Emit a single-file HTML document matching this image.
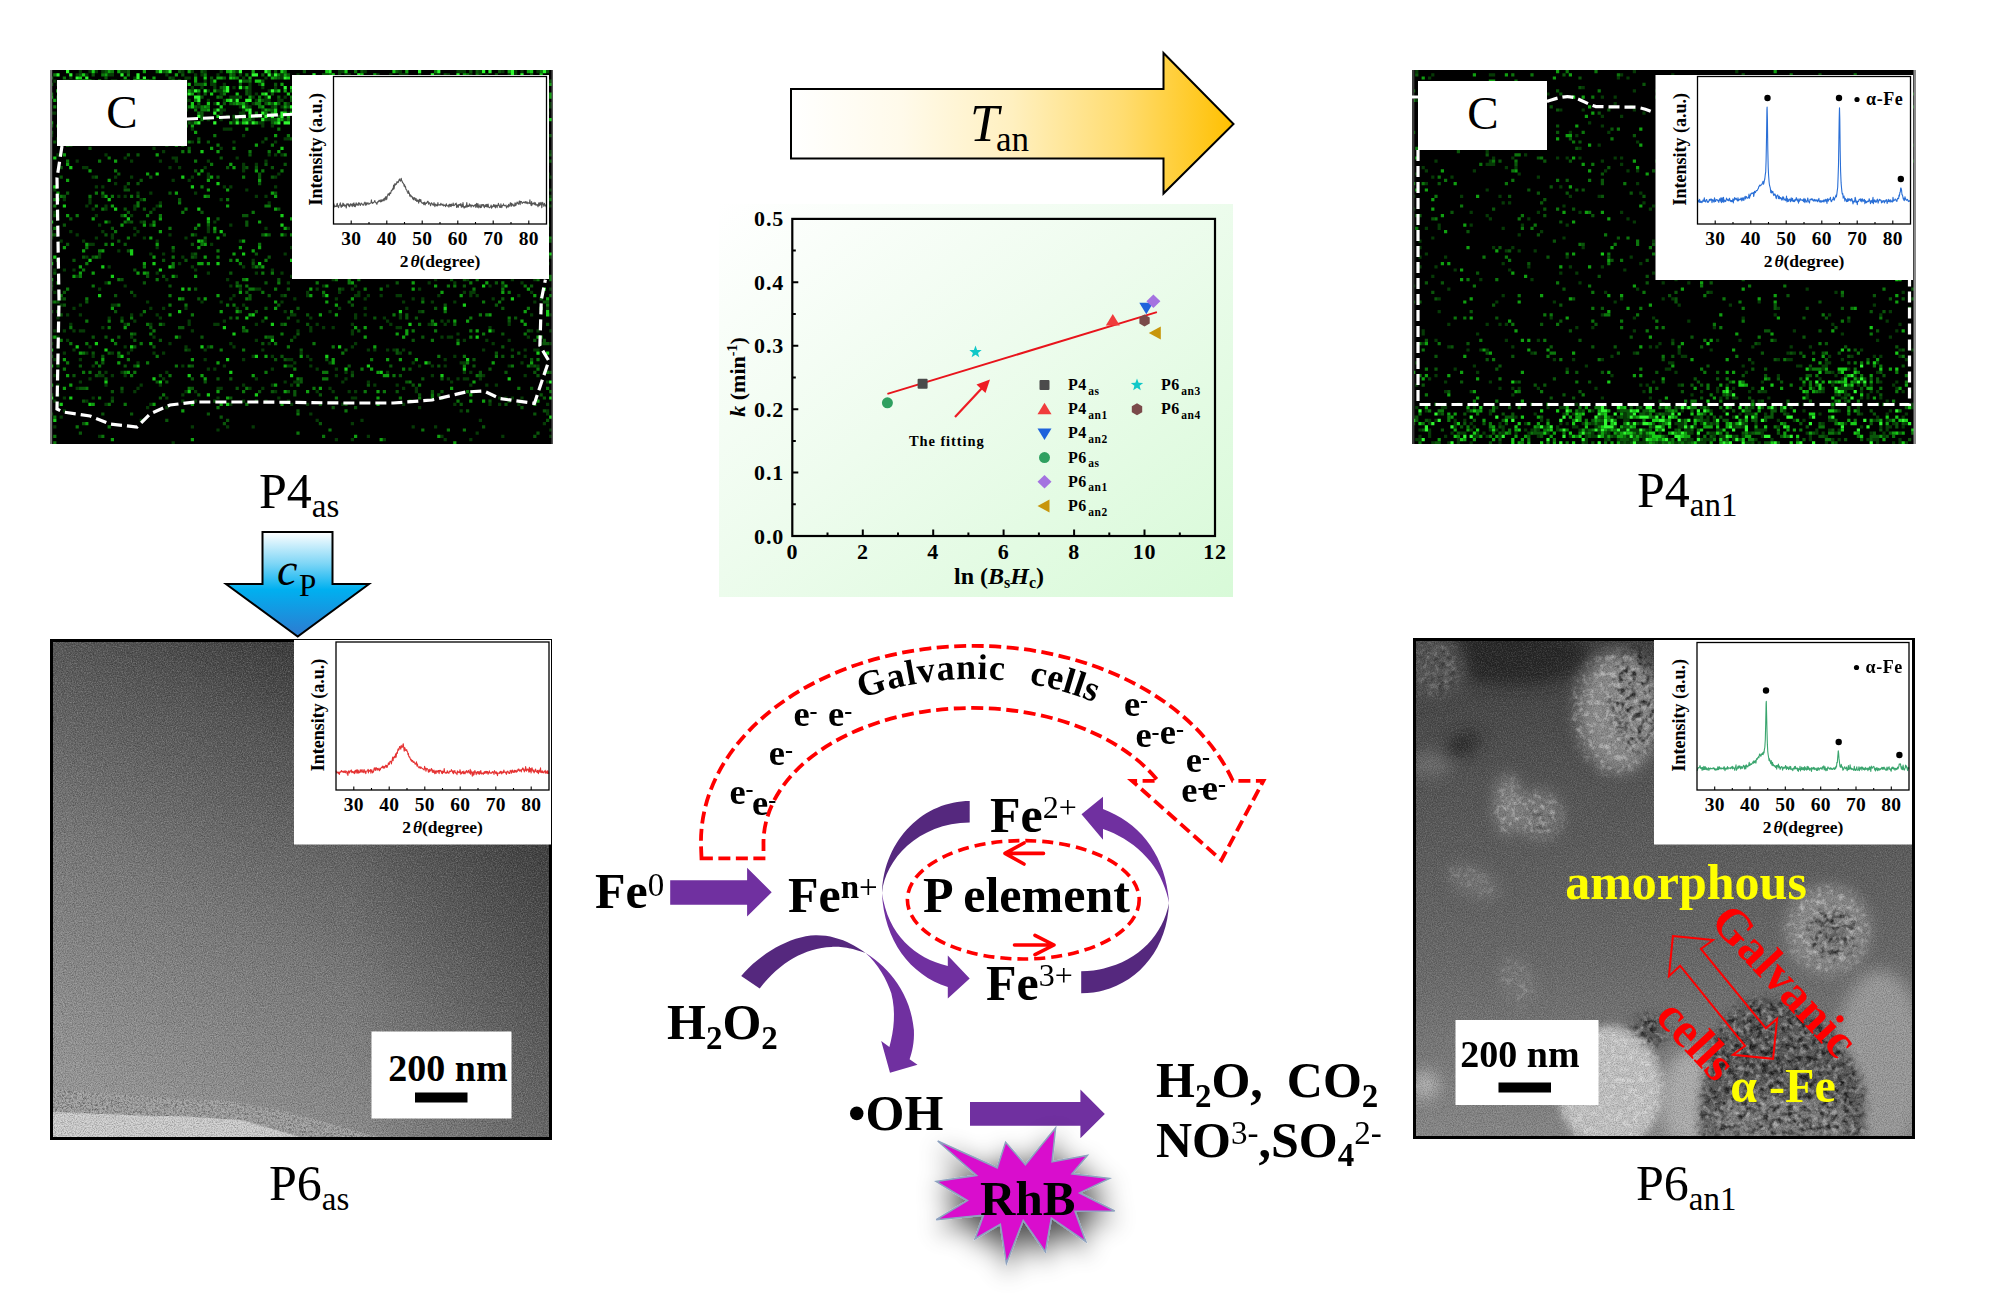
<!DOCTYPE html>
<html><head><meta charset="utf-8"><title>Figure</title>
<style>html,body{margin:0;padding:0;background:#fff;}svg{display:block;}</style>
</head><body>
<svg width="2001" height="1310" viewBox="0 0 2001 1310">
<defs>
<linearGradient id="gArrowT" x1="0" y1="0" x2="1" y2="0">
 <stop offset="0" stop-color="#ffffff"/>
 <stop offset="0.25" stop-color="#fffaea"/>
 <stop offset="0.5" stop-color="#fff0c0"/>
 <stop offset="0.75" stop-color="#ffdc70"/>
 <stop offset="1" stop-color="#ffc000"/>
</linearGradient>
<linearGradient id="gArrowD" x1="0" y1="0" x2="0" y2="1">
 <stop offset="0" stop-color="#ffffff"/>
 <stop offset="0.3" stop-color="#7fd6f6"/>
 <stop offset="0.55" stop-color="#00b0f0"/>
 <stop offset="1" stop-color="#2e7ad0"/>
</linearGradient>
<linearGradient id="gChart" x1="0" y1="0" x2="1" y2="1">
 <stop offset="0" stop-color="#ffffff"/>
 <stop offset="0.45" stop-color="#eefcee"/>
 <stop offset="1" stop-color="#d8fad8"/>
</linearGradient>
<linearGradient id="gTEM1" x1="0.8" y1="0" x2="0.3" y2="1">
 <stop offset="0" stop-color="#262626"/>
 <stop offset="0.3" stop-color="#555555"/>
 <stop offset="0.62" stop-color="#7a7a7a"/>
 <stop offset="1" stop-color="#9a9a9a"/>
</linearGradient>
<linearGradient id="gTEM2" x1="0" y1="0" x2="0" y2="1">
 <stop offset="0" stop-color="#3c3c3c"/>
 <stop offset="0.3" stop-color="#555555"/>
 <stop offset="0.65" stop-color="#6a6a6a"/>
 <stop offset="1" stop-color="#8a8a8a"/>
</linearGradient>
<linearGradient id="gVig" x1="0" y1="0" x2="1" y2="0">
 <stop offset="0" stop-color="#000" stop-opacity="0"/>
 <stop offset="0.6" stop-color="#000" stop-opacity="0"/>
 <stop offset="1" stop-color="#000" stop-opacity="0.22"/>
</linearGradient>
<filter id="fNoise" x="0" y="0" width="1" height="1">
 <feTurbulence type="fractalNoise" baseFrequency="0.9" numOctaves="2" seed="3" result="t"/>
 <feColorMatrix in="t" type="matrix" values="0 0 0 0 0  0 0 0 0 0  0 0 0 0 0  0 0 0 -1.2 0.75" />
</filter>
<filter id="fNoiseW" x="0" y="0" width="1" height="1">
 <feTurbulence type="fractalNoise" baseFrequency="0.8" numOctaves="2" seed="8" result="t"/>
 <feColorMatrix in="t" type="matrix" values="0 0 0 0 1  0 0 0 0 1  0 0 0 0 1  0 0 0 -1.2 0.7" />
</filter>
<filter id="fDark" x="0" y="0" width="1" height="1">
 <feTurbulence type="fractalNoise" baseFrequency="0.16" numOctaves="2" seed="11" result="t"/>
 <feColorMatrix in="t" type="matrix" values="0 0 0 0 0  0 0 0 0 0  0 0 0 0 0  -3.2 0 0 0 1.75" />
</filter>
<filter id="fLight" x="0" y="0" width="1" height="1">
 <feTurbulence type="fractalNoise" baseFrequency="0.18" numOctaves="2" seed="21" result="t"/>
 <feColorMatrix in="t" type="matrix" values="0 0 0 0 1  0 0 0 0 1  0 0 0 0 1  0 -3.0 0 0 1.6" />
</filter>
<filter id="fDarkF" x="0" y="0" width="1" height="1">
 <feTurbulence type="fractalNoise" baseFrequency="0.45" numOctaves="2" seed="5" result="t"/>
 <feColorMatrix in="t" type="matrix" values="0 0 0 0 0  0 0 0 0 0  0 0 0 0 0  -3.5 0 0 0 1.9" />
</filter>
<filter id="fBlurS"><feGaussianBlur stdDeviation="0.6"/></filter>
<filter id="fBlur8"><feGaussianBlur stdDeviation="8"/></filter>
<filter id="fBlur4"><feGaussianBlur stdDeviation="4"/></filter>
<filter id="fBlur2"><feGaussianBlur stdDeviation="1.5"/></filter>
<filter id="fShadow" x="-40%" y="-40%" width="180%" height="180%">
 <feGaussianBlur in="SourceAlpha" stdDeviation="13"/>
 <feOffset dx="1" dy="9" result="b"/>
 <feComponentTransfer><feFuncA type="linear" slope="0.7"/></feComponentTransfer>
 <feMerge><feMergeNode/><feMergeNode in="SourceGraphic"/></feMerge>
</filter>
<clipPath id="cTL"><rect x="50" y="70" width="503" height="374"/></clipPath>
<clipPath id="cTR"><rect x="1412" y="70" width="504" height="374"/></clipPath>
<clipPath id="cBL"><rect x="52" y="641" width="498" height="497"/></clipPath>
<clipPath id="cBR"><rect x="1415" y="640" width="498" height="497"/></clipPath>
</defs>
<rect x="0" y="0" width="2001" height="1310" fill="#fff"/>

<g clip-path="url(#cTL)">
<rect x="50" y="70" width="503" height="374" fill="#000"/>
<path fill="#063a06" d="M78.8 70h3.2v3.2h-3.2zM88.4 70h3.2v3.2h-3.2zM94.8 70h3.2v3.2h-3.2zM101.2 70h3.2v3.2h-3.2zM120.4 70h3.2v3.2h-3.2zM123.6 70h3.2v3.2h-3.2zM181.2 70h3.2v3.2h-3.2zM190.8 70h3.2v3.2h-3.2zM203.6 70h3.2v3.2h-3.2zM219.6 70h3.2v3.2h-3.2zM235.6 70h3.2v3.2h-3.2zM338 70h3.2v3.2h-3.2zM341.2 70h3.2v3.2h-3.2zM363.6 70h3.2v3.2h-3.2zM398.8 70h3.2v3.2h-3.2zM456.4 70h3.2v3.2h-3.2zM459.6 70h3.2v3.2h-3.2zM462.8 70h3.2v3.2h-3.2zM478.8 70h3.2v3.2h-3.2zM501.2 70h3.2v3.2h-3.2zM514 70h3.2v3.2h-3.2zM520.4 70h3.2v3.2h-3.2zM536.4 70h3.2v3.2h-3.2zM75.6 73.2h3.2v3.2h-3.2zM85.2 73.2h3.2v3.2h-3.2zM107.6 73.2h3.2v3.2h-3.2zM110.8 73.2h3.2v3.2h-3.2zM165.2 73.2h3.2v3.2h-3.2zM194 73.2h3.2v3.2h-3.2zM200.4 73.2h3.2v3.2h-3.2zM216.4 73.2h3.2v3.2h-3.2zM238.8 73.2h3.2v3.2h-3.2zM270.8 73.2h3.2v3.2h-3.2zM280.4 73.2h3.2v3.2h-3.2zM296.4 73.2h3.2v3.2h-3.2zM338 73.2h3.2v3.2h-3.2zM344.4 73.2h3.2v3.2h-3.2zM347.6 73.2h3.2v3.2h-3.2zM376.4 73.2h3.2v3.2h-3.2zM389.2 73.2h3.2v3.2h-3.2zM398.8 73.2h3.2v3.2h-3.2zM402 73.2h3.2v3.2h-3.2zM405.2 73.2h3.2v3.2h-3.2zM418 73.2h3.2v3.2h-3.2zM434 73.2h3.2v3.2h-3.2zM437.2 73.2h3.2v3.2h-3.2zM446.8 73.2h3.2v3.2h-3.2zM469.2 73.2h3.2v3.2h-3.2zM478.8 73.2h3.2v3.2h-3.2zM485.2 73.2h3.2v3.2h-3.2zM507.6 73.2h3.2v3.2h-3.2zM514 73.2h3.2v3.2h-3.2zM69.2 76.4h3.2v3.2h-3.2zM133.2 76.4h3.2v3.2h-3.2zM171.6 76.4h3.2v3.2h-3.2zM184.4 76.4h3.2v3.2h-3.2zM187.6 76.4h3.2v3.2h-3.2zM242 76.4h3.2v3.2h-3.2zM264.4 76.4h3.2v3.2h-3.2zM280.4 76.4h3.2v3.2h-3.2zM338 76.4h3.2v3.2h-3.2zM389.2 76.4h3.2v3.2h-3.2zM408.4 76.4h3.2v3.2h-3.2zM434 76.4h3.2v3.2h-3.2zM478.8 76.4h3.2v3.2h-3.2zM510.8 76.4h3.2v3.2h-3.2zM53.2 79.6h3.2v3.2h-3.2zM72.4 79.6h3.2v3.2h-3.2zM78.8 79.6h3.2v3.2h-3.2zM91.6 79.6h3.2v3.2h-3.2zM120.4 79.6h3.2v3.2h-3.2zM168.4 79.6h3.2v3.2h-3.2zM174.8 79.6h3.2v3.2h-3.2zM184.4 79.6h3.2v3.2h-3.2zM203.6 79.6h3.2v3.2h-3.2zM210 79.6h3.2v3.2h-3.2zM322 79.6h3.2v3.2h-3.2zM366.8 79.6h3.2v3.2h-3.2zM379.6 79.6h3.2v3.2h-3.2zM408.4 79.6h3.2v3.2h-3.2zM472.4 79.6h3.2v3.2h-3.2zM485.2 79.6h3.2v3.2h-3.2zM514 79.6h3.2v3.2h-3.2zM533.2 79.6h3.2v3.2h-3.2zM539.6 79.6h3.2v3.2h-3.2zM56.4 82.8h3.2v3.2h-3.2zM66 82.8h3.2v3.2h-3.2zM72.4 82.8h3.2v3.2h-3.2zM98 82.8h3.2v3.2h-3.2zM110.8 82.8h3.2v3.2h-3.2zM117.2 82.8h3.2v3.2h-3.2zM168.4 82.8h3.2v3.2h-3.2zM171.6 82.8h3.2v3.2h-3.2zM181.2 82.8h3.2v3.2h-3.2zM210 82.8h3.2v3.2h-3.2zM213.2 82.8h3.2v3.2h-3.2zM222.8 82.8h3.2v3.2h-3.2zM248.4 82.8h3.2v3.2h-3.2zM258 82.8h3.2v3.2h-3.2zM373.2 82.8h3.2v3.2h-3.2zM440.4 82.8h3.2v3.2h-3.2zM446.8 82.8h3.2v3.2h-3.2zM469.2 82.8h3.2v3.2h-3.2zM491.6 82.8h3.2v3.2h-3.2zM517.2 82.8h3.2v3.2h-3.2zM523.6 82.8h3.2v3.2h-3.2zM123.6 86h3.2v3.2h-3.2zM126.8 86h3.2v3.2h-3.2zM165.2 86h3.2v3.2h-3.2zM168.4 86h3.2v3.2h-3.2zM174.8 86h3.2v3.2h-3.2zM190.8 86h3.2v3.2h-3.2zM200.4 86h3.2v3.2h-3.2zM213.2 86h3.2v3.2h-3.2zM232.4 86h3.2v3.2h-3.2zM242 86h3.2v3.2h-3.2zM248.4 86h3.2v3.2h-3.2zM261.2 86h3.2v3.2h-3.2zM274 86h3.2v3.2h-3.2zM309.2 86h3.2v3.2h-3.2zM315.6 86h3.2v3.2h-3.2zM389.2 86h3.2v3.2h-3.2zM402 86h3.2v3.2h-3.2zM408.4 86h3.2v3.2h-3.2zM411.6 86h3.2v3.2h-3.2zM424.4 86h3.2v3.2h-3.2zM485.2 86h3.2v3.2h-3.2zM488.4 86h3.2v3.2h-3.2zM504.4 86h3.2v3.2h-3.2zM520.4 86h3.2v3.2h-3.2zM82 89.2h3.2v3.2h-3.2zM136.4 89.2h3.2v3.2h-3.2zM162 89.2h3.2v3.2h-3.2zM178 89.2h3.2v3.2h-3.2zM206.8 89.2h3.2v3.2h-3.2zM216.4 89.2h3.2v3.2h-3.2zM219.6 89.2h3.2v3.2h-3.2zM248.4 89.2h3.2v3.2h-3.2zM267.6 89.2h3.2v3.2h-3.2zM296.4 89.2h3.2v3.2h-3.2zM357.2 89.2h3.2v3.2h-3.2zM398.8 89.2h3.2v3.2h-3.2zM408.4 89.2h3.2v3.2h-3.2zM482 89.2h3.2v3.2h-3.2zM485.2 89.2h3.2v3.2h-3.2zM526.8 89.2h3.2v3.2h-3.2zM539.6 89.2h3.2v3.2h-3.2zM59.6 92.4h3.2v3.2h-3.2zM101.2 92.4h3.2v3.2h-3.2zM149.2 92.4h3.2v3.2h-3.2zM184.4 92.4h3.2v3.2h-3.2zM197.2 92.4h3.2v3.2h-3.2zM219.6 92.4h3.2v3.2h-3.2zM248.4 92.4h3.2v3.2h-3.2zM254.8 92.4h3.2v3.2h-3.2zM293.2 92.4h3.2v3.2h-3.2zM350.8 92.4h3.2v3.2h-3.2zM360.4 92.4h3.2v3.2h-3.2zM376.4 92.4h3.2v3.2h-3.2zM402 92.4h3.2v3.2h-3.2zM411.6 92.4h3.2v3.2h-3.2zM414.8 92.4h3.2v3.2h-3.2zM478.8 92.4h3.2v3.2h-3.2zM520.4 92.4h3.2v3.2h-3.2zM123.6 95.6h3.2v3.2h-3.2zM126.8 95.6h3.2v3.2h-3.2zM229.2 95.6h3.2v3.2h-3.2zM232.4 95.6h3.2v3.2h-3.2zM235.6 95.6h3.2v3.2h-3.2zM251.6 95.6h3.2v3.2h-3.2zM264.4 95.6h3.2v3.2h-3.2zM283.6 95.6h3.2v3.2h-3.2zM293.2 95.6h3.2v3.2h-3.2zM309.2 95.6h3.2v3.2h-3.2zM322 95.6h3.2v3.2h-3.2zM347.6 95.6h3.2v3.2h-3.2zM395.6 95.6h3.2v3.2h-3.2zM443.6 95.6h3.2v3.2h-3.2zM466 95.6h3.2v3.2h-3.2zM478.8 95.6h3.2v3.2h-3.2zM482 95.6h3.2v3.2h-3.2zM494.8 95.6h3.2v3.2h-3.2zM517.2 95.6h3.2v3.2h-3.2zM526.8 95.6h3.2v3.2h-3.2zM62.8 98.8h3.2v3.2h-3.2zM101.2 98.8h3.2v3.2h-3.2zM152.4 98.8h3.2v3.2h-3.2zM171.6 98.8h3.2v3.2h-3.2zM187.6 98.8h3.2v3.2h-3.2zM206.8 98.8h3.2v3.2h-3.2zM222.8 98.8h3.2v3.2h-3.2zM232.4 98.8h3.2v3.2h-3.2zM254.8 98.8h3.2v3.2h-3.2zM264.4 98.8h3.2v3.2h-3.2zM267.6 98.8h3.2v3.2h-3.2zM277.2 98.8h3.2v3.2h-3.2zM280.4 98.8h3.2v3.2h-3.2zM293.2 98.8h3.2v3.2h-3.2zM299.6 98.8h3.2v3.2h-3.2zM331.6 98.8h3.2v3.2h-3.2zM344.4 98.8h3.2v3.2h-3.2zM414.8 98.8h3.2v3.2h-3.2zM437.2 98.8h3.2v3.2h-3.2zM504.4 98.8h3.2v3.2h-3.2zM75.6 102h3.2v3.2h-3.2zM184.4 102h3.2v3.2h-3.2zM213.2 102h3.2v3.2h-3.2zM245.2 102h3.2v3.2h-3.2zM251.6 102h3.2v3.2h-3.2zM286.8 102h3.2v3.2h-3.2zM293.2 102h3.2v3.2h-3.2zM354 102h3.2v3.2h-3.2zM405.2 102h3.2v3.2h-3.2zM549.2 102h3.2v3.2h-3.2zM72.4 105.2h3.2v3.2h-3.2zM101.2 105.2h3.2v3.2h-3.2zM152.4 105.2h3.2v3.2h-3.2zM197.2 105.2h3.2v3.2h-3.2zM238.8 105.2h3.2v3.2h-3.2zM248.4 105.2h3.2v3.2h-3.2zM270.8 105.2h3.2v3.2h-3.2zM280.4 105.2h3.2v3.2h-3.2zM421.2 105.2h3.2v3.2h-3.2zM549.2 105.2h3.2v3.2h-3.2zM120.4 108.4h3.2v3.2h-3.2zM133.2 108.4h3.2v3.2h-3.2zM219.6 108.4h3.2v3.2h-3.2zM222.8 108.4h3.2v3.2h-3.2zM242 108.4h3.2v3.2h-3.2zM261.2 108.4h3.2v3.2h-3.2zM283.6 108.4h3.2v3.2h-3.2zM290 108.4h3.2v3.2h-3.2zM386 108.4h3.2v3.2h-3.2zM398.8 108.4h3.2v3.2h-3.2zM504.4 108.4h3.2v3.2h-3.2zM50 111.6h3.2v3.2h-3.2zM53.2 111.6h3.2v3.2h-3.2zM219.6 111.6h3.2v3.2h-3.2zM238.8 111.6h3.2v3.2h-3.2zM242 111.6h3.2v3.2h-3.2zM286.8 111.6h3.2v3.2h-3.2zM293.2 111.6h3.2v3.2h-3.2zM299.6 111.6h3.2v3.2h-3.2zM341.2 111.6h3.2v3.2h-3.2zM382.8 111.6h3.2v3.2h-3.2zM443.6 111.6h3.2v3.2h-3.2zM472.4 111.6h3.2v3.2h-3.2zM120.4 114.8h3.2v3.2h-3.2zM136.4 114.8h3.2v3.2h-3.2zM226 114.8h3.2v3.2h-3.2zM258 114.8h3.2v3.2h-3.2zM261.2 114.8h3.2v3.2h-3.2zM267.6 114.8h3.2v3.2h-3.2zM382.8 114.8h3.2v3.2h-3.2zM507.6 114.8h3.2v3.2h-3.2zM171.6 118h3.2v3.2h-3.2zM184.4 118h3.2v3.2h-3.2zM206.8 118h3.2v3.2h-3.2zM219.6 118h3.2v3.2h-3.2zM232.4 118h3.2v3.2h-3.2zM251.6 118h3.2v3.2h-3.2zM267.6 118h3.2v3.2h-3.2zM283.6 118h3.2v3.2h-3.2zM293.2 118h3.2v3.2h-3.2zM443.6 118h3.2v3.2h-3.2zM504.4 118h3.2v3.2h-3.2zM526.8 118h3.2v3.2h-3.2zM75.6 121.2h3.2v3.2h-3.2zM146 121.2h3.2v3.2h-3.2zM190.8 121.2h3.2v3.2h-3.2zM232.4 121.2h3.2v3.2h-3.2zM238.8 121.2h3.2v3.2h-3.2zM248.4 121.2h3.2v3.2h-3.2zM258 121.2h3.2v3.2h-3.2zM261.2 121.2h3.2v3.2h-3.2zM293.2 121.2h3.2v3.2h-3.2zM309.2 121.2h3.2v3.2h-3.2zM347.6 121.2h3.2v3.2h-3.2zM437.2 121.2h3.2v3.2h-3.2zM482 121.2h3.2v3.2h-3.2zM546 121.2h3.2v3.2h-3.2zM59.6 124.4h3.2v3.2h-3.2zM110.8 124.4h3.2v3.2h-3.2zM142.8 124.4h3.2v3.2h-3.2zM261.2 124.4h3.2v3.2h-3.2zM270.8 124.4h3.2v3.2h-3.2zM296.4 124.4h3.2v3.2h-3.2zM392.4 124.4h3.2v3.2h-3.2zM98 127.6h3.2v3.2h-3.2zM123.6 127.6h3.2v3.2h-3.2zM152.4 127.6h3.2v3.2h-3.2zM190.8 127.6h3.2v3.2h-3.2zM222.8 127.6h3.2v3.2h-3.2zM226 127.6h3.2v3.2h-3.2zM229.2 127.6h3.2v3.2h-3.2zM424.4 127.6h3.2v3.2h-3.2zM107.6 130.8h3.2v3.2h-3.2zM155.6 130.8h3.2v3.2h-3.2zM328.4 130.8h3.2v3.2h-3.2zM418 130.8h3.2v3.2h-3.2zM421.2 130.8h3.2v3.2h-3.2zM440.4 130.8h3.2v3.2h-3.2zM536.4 130.8h3.2v3.2h-3.2zM50 134h3.2v3.2h-3.2zM94.8 134h3.2v3.2h-3.2zM142.8 134h3.2v3.2h-3.2zM242 134h3.2v3.2h-3.2zM318.8 134h3.2v3.2h-3.2zM363.6 134h3.2v3.2h-3.2zM398.8 134h3.2v3.2h-3.2zM56.4 137.2h3.2v3.2h-3.2zM75.6 137.2h3.2v3.2h-3.2zM181.2 137.2h3.2v3.2h-3.2zM283.6 137.2h3.2v3.2h-3.2zM286.8 137.2h3.2v3.2h-3.2zM366.8 137.2h3.2v3.2h-3.2zM498 137.2h3.2v3.2h-3.2zM533.2 137.2h3.2v3.2h-3.2zM78.8 140.4h3.2v3.2h-3.2zM107.6 140.4h3.2v3.2h-3.2zM123.6 140.4h3.2v3.2h-3.2zM190.8 140.4h3.2v3.2h-3.2zM232.4 140.4h3.2v3.2h-3.2zM261.2 140.4h3.2v3.2h-3.2zM274 140.4h3.2v3.2h-3.2zM318.8 140.4h3.2v3.2h-3.2zM350.8 143.6h3.2v3.2h-3.2zM395.6 143.6h3.2v3.2h-3.2zM402 143.6h3.2v3.2h-3.2zM434 143.6h3.2v3.2h-3.2zM462.8 143.6h3.2v3.2h-3.2zM498 143.6h3.2v3.2h-3.2zM542.8 143.6h3.2v3.2h-3.2zM152.4 146.8h3.2v3.2h-3.2zM219.6 146.8h3.2v3.2h-3.2zM302.8 146.8h3.2v3.2h-3.2zM341.2 146.8h3.2v3.2h-3.2zM162 150h3.2v3.2h-3.2zM437.2 150h3.2v3.2h-3.2zM549.2 150h3.2v3.2h-3.2zM56.4 153.2h3.2v3.2h-3.2zM104.4 153.2h3.2v3.2h-3.2zM267.6 153.2h3.2v3.2h-3.2zM274 153.2h3.2v3.2h-3.2zM280.4 153.2h3.2v3.2h-3.2zM318.8 153.2h3.2v3.2h-3.2zM354 153.2h3.2v3.2h-3.2zM459.6 153.2h3.2v3.2h-3.2zM123.6 156.4h3.2v3.2h-3.2zM171.6 156.4h3.2v3.2h-3.2zM174.8 156.4h3.2v3.2h-3.2zM235.6 156.4h3.2v3.2h-3.2zM306 156.4h3.2v3.2h-3.2zM322 156.4h3.2v3.2h-3.2zM373.2 156.4h3.2v3.2h-3.2zM434 156.4h3.2v3.2h-3.2zM494.8 156.4h3.2v3.2h-3.2zM75.6 159.6h3.2v3.2h-3.2zM130 159.6h3.2v3.2h-3.2zM158.8 159.6h3.2v3.2h-3.2zM174.8 159.6h3.2v3.2h-3.2zM206.8 159.6h3.2v3.2h-3.2zM264.4 159.6h3.2v3.2h-3.2zM411.6 159.6h3.2v3.2h-3.2zM414.8 159.6h3.2v3.2h-3.2zM440.4 159.6h3.2v3.2h-3.2zM453.2 159.6h3.2v3.2h-3.2zM520.4 159.6h3.2v3.2h-3.2zM526.8 159.6h3.2v3.2h-3.2zM242 162.8h3.2v3.2h-3.2zM254.8 162.8h3.2v3.2h-3.2zM344.4 162.8h3.2v3.2h-3.2zM379.6 162.8h3.2v3.2h-3.2zM456.4 162.8h3.2v3.2h-3.2zM466 162.8h3.2v3.2h-3.2zM82 166h3.2v3.2h-3.2zM85.2 166h3.2v3.2h-3.2zM168.4 166h3.2v3.2h-3.2zM178 166h3.2v3.2h-3.2zM203.6 166h3.2v3.2h-3.2zM242 166h3.2v3.2h-3.2zM418 166h3.2v3.2h-3.2zM424.4 166h3.2v3.2h-3.2zM437.2 166h3.2v3.2h-3.2zM450 166h3.2v3.2h-3.2zM459.6 166h3.2v3.2h-3.2zM478.8 166h3.2v3.2h-3.2zM482 166h3.2v3.2h-3.2zM242 169.2h3.2v3.2h-3.2zM373.2 169.2h3.2v3.2h-3.2zM475.6 169.2h3.2v3.2h-3.2zM488.4 169.2h3.2v3.2h-3.2zM206.8 172.4h3.2v3.2h-3.2zM277.2 172.4h3.2v3.2h-3.2zM408.4 172.4h3.2v3.2h-3.2zM91.6 175.6h3.2v3.2h-3.2zM114 175.6h3.2v3.2h-3.2zM130 175.6h3.2v3.2h-3.2zM190.8 175.6h3.2v3.2h-3.2zM206.8 175.6h3.2v3.2h-3.2zM274 175.6h3.2v3.2h-3.2zM338 175.6h3.2v3.2h-3.2zM363.6 175.6h3.2v3.2h-3.2zM408.4 175.6h3.2v3.2h-3.2zM491.6 175.6h3.2v3.2h-3.2zM526.8 175.6h3.2v3.2h-3.2zM549.2 175.6h3.2v3.2h-3.2zM171.6 178.8h3.2v3.2h-3.2zM187.6 178.8h3.2v3.2h-3.2zM373.2 178.8h3.2v3.2h-3.2zM514 178.8h3.2v3.2h-3.2zM114 182h3.2v3.2h-3.2zM347.6 182h3.2v3.2h-3.2zM395.6 182h3.2v3.2h-3.2zM398.8 182h3.2v3.2h-3.2zM414.8 182h3.2v3.2h-3.2zM424.4 182h3.2v3.2h-3.2zM94.8 185.2h3.2v3.2h-3.2zM101.2 185.2h3.2v3.2h-3.2zM123.6 185.2h3.2v3.2h-3.2zM222.8 185.2h3.2v3.2h-3.2zM229.2 185.2h3.2v3.2h-3.2zM274 185.2h3.2v3.2h-3.2zM299.6 185.2h3.2v3.2h-3.2zM334.8 185.2h3.2v3.2h-3.2zM501.2 185.2h3.2v3.2h-3.2zM517.2 185.2h3.2v3.2h-3.2zM53.2 188.4h3.2v3.2h-3.2zM245.2 188.4h3.2v3.2h-3.2zM299.6 188.4h3.2v3.2h-3.2zM341.2 188.4h3.2v3.2h-3.2zM344.4 188.4h3.2v3.2h-3.2zM350.8 188.4h3.2v3.2h-3.2zM533.2 188.4h3.2v3.2h-3.2zM549.2 188.4h3.2v3.2h-3.2zM136.4 191.6h3.2v3.2h-3.2zM149.2 191.6h3.2v3.2h-3.2zM194 191.6h3.2v3.2h-3.2zM437.2 191.6h3.2v3.2h-3.2zM446.8 191.6h3.2v3.2h-3.2zM507.6 191.6h3.2v3.2h-3.2zM101.2 194.8h3.2v3.2h-3.2zM117.2 194.8h3.2v3.2h-3.2zM123.6 194.8h3.2v3.2h-3.2zM254.8 194.8h3.2v3.2h-3.2zM264.4 194.8h3.2v3.2h-3.2zM318.8 194.8h3.2v3.2h-3.2zM325.2 194.8h3.2v3.2h-3.2zM350.8 194.8h3.2v3.2h-3.2zM360.4 194.8h3.2v3.2h-3.2zM517.2 194.8h3.2v3.2h-3.2zM549.2 194.8h3.2v3.2h-3.2zM62.8 198h3.2v3.2h-3.2zM88.4 198h3.2v3.2h-3.2zM139.6 198h3.2v3.2h-3.2zM219.6 198h3.2v3.2h-3.2zM389.2 198h3.2v3.2h-3.2zM472.4 198h3.2v3.2h-3.2zM510.8 198h3.2v3.2h-3.2zM88.4 201.2h3.2v3.2h-3.2zM158.8 201.2h3.2v3.2h-3.2zM267.6 201.2h3.2v3.2h-3.2zM299.6 201.2h3.2v3.2h-3.2zM309.2 201.2h3.2v3.2h-3.2zM85.2 204.4h3.2v3.2h-3.2zM104.4 204.4h3.2v3.2h-3.2zM133.2 204.4h3.2v3.2h-3.2zM155.6 204.4h3.2v3.2h-3.2zM370 204.4h3.2v3.2h-3.2zM389.2 204.4h3.2v3.2h-3.2zM446.8 204.4h3.2v3.2h-3.2zM549.2 204.4h3.2v3.2h-3.2zM91.6 207.6h3.2v3.2h-3.2zM104.4 207.6h3.2v3.2h-3.2zM133.2 207.6h3.2v3.2h-3.2zM152.4 207.6h3.2v3.2h-3.2zM347.6 207.6h3.2v3.2h-3.2zM386 207.6h3.2v3.2h-3.2zM414.8 207.6h3.2v3.2h-3.2zM430.8 207.6h3.2v3.2h-3.2zM53.2 210.8h3.2v3.2h-3.2zM306 210.8h3.2v3.2h-3.2zM322 210.8h3.2v3.2h-3.2zM338 210.8h3.2v3.2h-3.2zM344.4 210.8h3.2v3.2h-3.2zM357.2 210.8h3.2v3.2h-3.2zM402 210.8h3.2v3.2h-3.2zM94.8 214h3.2v3.2h-3.2zM130 214h3.2v3.2h-3.2zM293.2 214h3.2v3.2h-3.2zM344.4 214h3.2v3.2h-3.2zM405.2 214h3.2v3.2h-3.2zM411.6 214h3.2v3.2h-3.2zM485.2 214h3.2v3.2h-3.2zM370 217.2h3.2v3.2h-3.2zM475.6 217.2h3.2v3.2h-3.2zM501.2 217.2h3.2v3.2h-3.2zM107.6 220.4h3.2v3.2h-3.2zM126.8 220.4h3.2v3.2h-3.2zM139.6 220.4h3.2v3.2h-3.2zM213.2 220.4h3.2v3.2h-3.2zM424.4 220.4h3.2v3.2h-3.2zM546 220.4h3.2v3.2h-3.2zM98 223.6h3.2v3.2h-3.2zM149.2 223.6h3.2v3.2h-3.2zM229.2 223.6h3.2v3.2h-3.2zM379.6 223.6h3.2v3.2h-3.2zM382.8 223.6h3.2v3.2h-3.2zM450 223.6h3.2v3.2h-3.2zM507.6 223.6h3.2v3.2h-3.2zM542.8 223.6h3.2v3.2h-3.2zM133.2 226.8h3.2v3.2h-3.2zM206.8 226.8h3.2v3.2h-3.2zM264.4 226.8h3.2v3.2h-3.2zM286.8 226.8h3.2v3.2h-3.2zM322 226.8h3.2v3.2h-3.2zM398.8 226.8h3.2v3.2h-3.2zM456.4 226.8h3.2v3.2h-3.2zM494.8 226.8h3.2v3.2h-3.2zM536.4 226.8h3.2v3.2h-3.2zM50 230h3.2v3.2h-3.2zM69.2 230h3.2v3.2h-3.2zM101.2 230h3.2v3.2h-3.2zM136.4 230h3.2v3.2h-3.2zM206.8 230h3.2v3.2h-3.2zM341.2 230h3.2v3.2h-3.2zM478.8 230h3.2v3.2h-3.2zM75.6 233.2h3.2v3.2h-3.2zM110.8 233.2h3.2v3.2h-3.2zM133.2 233.2h3.2v3.2h-3.2zM168.4 233.2h3.2v3.2h-3.2zM194 233.2h3.2v3.2h-3.2zM283.6 233.2h3.2v3.2h-3.2zM405.2 233.2h3.2v3.2h-3.2zM478.8 233.2h3.2v3.2h-3.2zM507.6 233.2h3.2v3.2h-3.2zM50 236.4h3.2v3.2h-3.2zM94.8 236.4h3.2v3.2h-3.2zM110.8 236.4h3.2v3.2h-3.2zM142.8 236.4h3.2v3.2h-3.2zM184.4 236.4h3.2v3.2h-3.2zM430.8 236.4h3.2v3.2h-3.2zM456.4 236.4h3.2v3.2h-3.2zM498 236.4h3.2v3.2h-3.2zM517.2 236.4h3.2v3.2h-3.2zM520.4 236.4h3.2v3.2h-3.2zM59.6 239.6h3.2v3.2h-3.2zM82 239.6h3.2v3.2h-3.2zM155.6 239.6h3.2v3.2h-3.2zM203.6 239.6h3.2v3.2h-3.2zM238.8 239.6h3.2v3.2h-3.2zM318.8 239.6h3.2v3.2h-3.2zM344.4 239.6h3.2v3.2h-3.2zM395.6 239.6h3.2v3.2h-3.2zM88.4 242.8h3.2v3.2h-3.2zM91.6 242.8h3.2v3.2h-3.2zM210 242.8h3.2v3.2h-3.2zM350.8 242.8h3.2v3.2h-3.2zM421.2 242.8h3.2v3.2h-3.2zM155.6 246h3.2v3.2h-3.2zM290 246h3.2v3.2h-3.2zM293.2 246h3.2v3.2h-3.2zM117.2 249.2h3.2v3.2h-3.2zM171.6 249.2h3.2v3.2h-3.2zM302.8 249.2h3.2v3.2h-3.2zM306 249.2h3.2v3.2h-3.2zM334.8 249.2h3.2v3.2h-3.2zM376.4 249.2h3.2v3.2h-3.2zM453.2 249.2h3.2v3.2h-3.2zM482 249.2h3.2v3.2h-3.2zM507.6 249.2h3.2v3.2h-3.2zM520.4 249.2h3.2v3.2h-3.2zM98 252.4h3.2v3.2h-3.2zM149.2 252.4h3.2v3.2h-3.2zM162 252.4h3.2v3.2h-3.2zM190.8 252.4h3.2v3.2h-3.2zM283.6 252.4h3.2v3.2h-3.2zM296.4 252.4h3.2v3.2h-3.2zM331.6 252.4h3.2v3.2h-3.2zM379.6 252.4h3.2v3.2h-3.2zM462.8 252.4h3.2v3.2h-3.2zM491.6 252.4h3.2v3.2h-3.2zM501.2 252.4h3.2v3.2h-3.2zM85.2 255.6h3.2v3.2h-3.2zM98 255.6h3.2v3.2h-3.2zM181.2 255.6h3.2v3.2h-3.2zM194 255.6h3.2v3.2h-3.2zM376.4 255.6h3.2v3.2h-3.2zM386 255.6h3.2v3.2h-3.2zM398.8 255.6h3.2v3.2h-3.2zM450 255.6h3.2v3.2h-3.2zM549.2 255.6h3.2v3.2h-3.2zM50 258.8h3.2v3.2h-3.2zM251.6 258.8h3.2v3.2h-3.2zM411.6 258.8h3.2v3.2h-3.2zM178 262h3.2v3.2h-3.2zM338 262h3.2v3.2h-3.2zM526.8 262h3.2v3.2h-3.2zM107.6 265.2h3.2v3.2h-3.2zM190.8 265.2h3.2v3.2h-3.2zM242 265.2h3.2v3.2h-3.2zM251.6 265.2h3.2v3.2h-3.2zM258 265.2h3.2v3.2h-3.2zM322 265.2h3.2v3.2h-3.2zM370 265.2h3.2v3.2h-3.2zM379.6 265.2h3.2v3.2h-3.2zM533.2 265.2h3.2v3.2h-3.2zM53.2 268.4h3.2v3.2h-3.2zM62.8 268.4h3.2v3.2h-3.2zM72.4 268.4h3.2v3.2h-3.2zM194 268.4h3.2v3.2h-3.2zM270.8 268.4h3.2v3.2h-3.2zM491.6 268.4h3.2v3.2h-3.2zM155.6 271.6h3.2v3.2h-3.2zM206.8 271.6h3.2v3.2h-3.2zM254.8 271.6h3.2v3.2h-3.2zM280.4 271.6h3.2v3.2h-3.2zM386 271.6h3.2v3.2h-3.2zM424.4 271.6h3.2v3.2h-3.2zM466 271.6h3.2v3.2h-3.2zM475.6 271.6h3.2v3.2h-3.2zM501.2 271.6h3.2v3.2h-3.2zM75.6 274.8h3.2v3.2h-3.2zM174.8 274.8h3.2v3.2h-3.2zM290 274.8h3.2v3.2h-3.2zM302.8 274.8h3.2v3.2h-3.2zM424.4 274.8h3.2v3.2h-3.2zM446.8 274.8h3.2v3.2h-3.2zM456.4 274.8h3.2v3.2h-3.2zM466 274.8h3.2v3.2h-3.2zM514 274.8h3.2v3.2h-3.2zM165.2 278h3.2v3.2h-3.2zM226 278h3.2v3.2h-3.2zM331.6 278h3.2v3.2h-3.2zM434 278h3.2v3.2h-3.2zM466 278h3.2v3.2h-3.2zM510.8 278h3.2v3.2h-3.2zM533.2 278h3.2v3.2h-3.2zM50 281.2h3.2v3.2h-3.2zM104.4 281.2h3.2v3.2h-3.2zM286.8 281.2h3.2v3.2h-3.2zM427.6 281.2h3.2v3.2h-3.2zM453.2 281.2h3.2v3.2h-3.2zM520.4 281.2h3.2v3.2h-3.2zM123.6 284.4h3.2v3.2h-3.2zM229.2 284.4h3.2v3.2h-3.2zM322 284.4h3.2v3.2h-3.2zM354 284.4h3.2v3.2h-3.2zM386 284.4h3.2v3.2h-3.2zM488.4 284.4h3.2v3.2h-3.2zM501.2 284.4h3.2v3.2h-3.2zM50 287.6h3.2v3.2h-3.2zM98 287.6h3.2v3.2h-3.2zM238.8 287.6h3.2v3.2h-3.2zM254.8 287.6h3.2v3.2h-3.2zM258 287.6h3.2v3.2h-3.2zM315.6 287.6h3.2v3.2h-3.2zM341.2 287.6h3.2v3.2h-3.2zM350.8 287.6h3.2v3.2h-3.2zM418 287.6h3.2v3.2h-3.2zM549.2 287.6h3.2v3.2h-3.2zM53.2 290.8h3.2v3.2h-3.2zM306 290.8h3.2v3.2h-3.2zM338 290.8h3.2v3.2h-3.2zM357.2 290.8h3.2v3.2h-3.2zM462.8 290.8h3.2v3.2h-3.2zM469.2 290.8h3.2v3.2h-3.2zM472.4 290.8h3.2v3.2h-3.2zM530 290.8h3.2v3.2h-3.2zM133.2 294h3.2v3.2h-3.2zM232.4 294h3.2v3.2h-3.2zM280.4 294h3.2v3.2h-3.2zM306 294h3.2v3.2h-3.2zM322 294h3.2v3.2h-3.2zM354 294h3.2v3.2h-3.2zM357.2 294h3.2v3.2h-3.2zM366.8 294h3.2v3.2h-3.2zM379.6 294h3.2v3.2h-3.2zM395.6 294h3.2v3.2h-3.2zM398.8 294h3.2v3.2h-3.2zM437.2 294h3.2v3.2h-3.2zM469.2 294h3.2v3.2h-3.2zM475.6 294h3.2v3.2h-3.2zM517.2 294h3.2v3.2h-3.2zM59.6 297.2h3.2v3.2h-3.2zM229.2 297.2h3.2v3.2h-3.2zM293.2 297.2h3.2v3.2h-3.2zM334.8 297.2h3.2v3.2h-3.2zM363.6 297.2h3.2v3.2h-3.2zM411.6 297.2h3.2v3.2h-3.2zM421.2 297.2h3.2v3.2h-3.2zM491.6 297.2h3.2v3.2h-3.2zM50 300.4h3.2v3.2h-3.2zM146 300.4h3.2v3.2h-3.2zM200.4 300.4h3.2v3.2h-3.2zM219.6 300.4h3.2v3.2h-3.2zM280.4 300.4h3.2v3.2h-3.2zM402 300.4h3.2v3.2h-3.2zM430.8 300.4h3.2v3.2h-3.2zM453.2 300.4h3.2v3.2h-3.2zM533.2 300.4h3.2v3.2h-3.2zM59.6 303.6h3.2v3.2h-3.2zM78.8 303.6h3.2v3.2h-3.2zM110.8 303.6h3.2v3.2h-3.2zM114 303.6h3.2v3.2h-3.2zM242 303.6h3.2v3.2h-3.2zM72.4 306.8h3.2v3.2h-3.2zM149.2 306.8h3.2v3.2h-3.2zM162 306.8h3.2v3.2h-3.2zM184.4 306.8h3.2v3.2h-3.2zM235.6 306.8h3.2v3.2h-3.2zM338 306.8h3.2v3.2h-3.2zM363.6 306.8h3.2v3.2h-3.2zM405.2 306.8h3.2v3.2h-3.2zM546 306.8h3.2v3.2h-3.2zM283.6 310h3.2v3.2h-3.2zM328.4 310h3.2v3.2h-3.2zM418 310h3.2v3.2h-3.2zM66 313.2h3.2v3.2h-3.2zM78.8 313.2h3.2v3.2h-3.2zM130 313.2h3.2v3.2h-3.2zM139.6 313.2h3.2v3.2h-3.2zM155.6 313.2h3.2v3.2h-3.2zM290 313.2h3.2v3.2h-3.2zM293.2 313.2h3.2v3.2h-3.2zM354 313.2h3.2v3.2h-3.2zM363.6 313.2h3.2v3.2h-3.2zM398.8 313.2h3.2v3.2h-3.2zM530 313.2h3.2v3.2h-3.2zM549.2 313.2h3.2v3.2h-3.2zM56.4 316.4h3.2v3.2h-3.2zM107.6 316.4h3.2v3.2h-3.2zM120.4 316.4h3.2v3.2h-3.2zM158.8 316.4h3.2v3.2h-3.2zM309.2 316.4h3.2v3.2h-3.2zM354 316.4h3.2v3.2h-3.2zM382.8 316.4h3.2v3.2h-3.2zM398.8 316.4h3.2v3.2h-3.2zM133.2 319.6h3.2v3.2h-3.2zM187.6 319.6h3.2v3.2h-3.2zM222.8 319.6h3.2v3.2h-3.2zM261.2 319.6h3.2v3.2h-3.2zM296.4 319.6h3.2v3.2h-3.2zM386 319.6h3.2v3.2h-3.2zM440.4 319.6h3.2v3.2h-3.2zM446.8 319.6h3.2v3.2h-3.2zM69.2 322.8h3.2v3.2h-3.2zM123.6 322.8h3.2v3.2h-3.2zM149.2 322.8h3.2v3.2h-3.2zM162 322.8h3.2v3.2h-3.2zM187.6 322.8h3.2v3.2h-3.2zM213.2 322.8h3.2v3.2h-3.2zM216.4 322.8h3.2v3.2h-3.2zM254.8 322.8h3.2v3.2h-3.2zM315.6 322.8h3.2v3.2h-3.2zM350.8 322.8h3.2v3.2h-3.2zM389.2 322.8h3.2v3.2h-3.2zM427.6 322.8h3.2v3.2h-3.2zM443.6 322.8h3.2v3.2h-3.2zM507.6 322.8h3.2v3.2h-3.2zM101.2 326h3.2v3.2h-3.2zM309.2 326h3.2v3.2h-3.2zM322 326h3.2v3.2h-3.2zM331.6 326h3.2v3.2h-3.2zM395.6 326h3.2v3.2h-3.2zM398.8 326h3.2v3.2h-3.2zM488.4 326h3.2v3.2h-3.2zM53.2 329.2h3.2v3.2h-3.2zM62.8 329.2h3.2v3.2h-3.2zM72.4 329.2h3.2v3.2h-3.2zM78.8 329.2h3.2v3.2h-3.2zM82 329.2h3.2v3.2h-3.2zM190.8 329.2h3.2v3.2h-3.2zM296.4 329.2h3.2v3.2h-3.2zM309.2 329.2h3.2v3.2h-3.2zM350.8 329.2h3.2v3.2h-3.2zM491.6 329.2h3.2v3.2h-3.2zM530 329.2h3.2v3.2h-3.2zM536.4 329.2h3.2v3.2h-3.2zM549.2 329.2h3.2v3.2h-3.2zM350.8 332.4h3.2v3.2h-3.2zM456.4 332.4h3.2v3.2h-3.2zM50 335.6h3.2v3.2h-3.2zM56.4 335.6h3.2v3.2h-3.2zM130 335.6h3.2v3.2h-3.2zM152.4 335.6h3.2v3.2h-3.2zM178 335.6h3.2v3.2h-3.2zM293.2 335.6h3.2v3.2h-3.2zM440.4 335.6h3.2v3.2h-3.2zM446.8 335.6h3.2v3.2h-3.2zM450 335.6h3.2v3.2h-3.2zM526.8 335.6h3.2v3.2h-3.2zM66 338.8h3.2v3.2h-3.2zM254.8 338.8h3.2v3.2h-3.2zM462.8 338.8h3.2v3.2h-3.2zM485.2 338.8h3.2v3.2h-3.2zM507.6 338.8h3.2v3.2h-3.2zM50 342h3.2v3.2h-3.2zM168.4 342h3.2v3.2h-3.2zM229.2 342h3.2v3.2h-3.2zM267.6 342h3.2v3.2h-3.2zM354 342h3.2v3.2h-3.2zM491.6 342h3.2v3.2h-3.2zM539.6 342h3.2v3.2h-3.2zM549.2 342h3.2v3.2h-3.2zM56.4 345.2h3.2v3.2h-3.2zM88.4 345.2h3.2v3.2h-3.2zM123.6 345.2h3.2v3.2h-3.2zM184.4 345.2h3.2v3.2h-3.2zM206.8 345.2h3.2v3.2h-3.2zM232.4 345.2h3.2v3.2h-3.2zM350.8 345.2h3.2v3.2h-3.2zM72.4 348.4h3.2v3.2h-3.2zM130 348.4h3.2v3.2h-3.2zM187.6 348.4h3.2v3.2h-3.2zM203.6 348.4h3.2v3.2h-3.2zM261.2 348.4h3.2v3.2h-3.2zM366.8 348.4h3.2v3.2h-3.2zM373.2 348.4h3.2v3.2h-3.2zM386 348.4h3.2v3.2h-3.2zM392.4 348.4h3.2v3.2h-3.2zM402 348.4h3.2v3.2h-3.2zM482 348.4h3.2v3.2h-3.2zM510.8 348.4h3.2v3.2h-3.2zM523.6 348.4h3.2v3.2h-3.2zM533.2 348.4h3.2v3.2h-3.2zM536.4 348.4h3.2v3.2h-3.2zM62.8 351.6h3.2v3.2h-3.2zM85.2 351.6h3.2v3.2h-3.2zM110.8 351.6h3.2v3.2h-3.2zM126.8 351.6h3.2v3.2h-3.2zM152.4 351.6h3.2v3.2h-3.2zM162 351.6h3.2v3.2h-3.2zM299.6 351.6h3.2v3.2h-3.2zM398.8 351.6h3.2v3.2h-3.2zM91.6 354.8h3.2v3.2h-3.2zM251.6 354.8h3.2v3.2h-3.2zM270.8 354.8h3.2v3.2h-3.2zM306 354.8h3.2v3.2h-3.2zM453.2 354.8h3.2v3.2h-3.2zM523.6 354.8h3.2v3.2h-3.2zM53.2 358h3.2v3.2h-3.2zM78.8 358h3.2v3.2h-3.2zM203.6 358h3.2v3.2h-3.2zM242 358h3.2v3.2h-3.2zM286.8 358h3.2v3.2h-3.2zM290 358h3.2v3.2h-3.2zM309.2 358h3.2v3.2h-3.2zM443.6 358h3.2v3.2h-3.2zM136.4 361.2h3.2v3.2h-3.2zM293.2 361.2h3.2v3.2h-3.2zM328.4 361.2h3.2v3.2h-3.2zM411.6 361.2h3.2v3.2h-3.2zM459.6 361.2h3.2v3.2h-3.2zM462.8 361.2h3.2v3.2h-3.2zM520.4 361.2h3.2v3.2h-3.2zM91.6 364.4h3.2v3.2h-3.2zM181.2 364.4h3.2v3.2h-3.2zM222.8 364.4h3.2v3.2h-3.2zM286.8 364.4h3.2v3.2h-3.2zM290 364.4h3.2v3.2h-3.2zM309.2 364.4h3.2v3.2h-3.2zM418 364.4h3.2v3.2h-3.2zM430.8 364.4h3.2v3.2h-3.2zM443.6 364.4h3.2v3.2h-3.2zM507.6 364.4h3.2v3.2h-3.2zM530 364.4h3.2v3.2h-3.2zM536.4 364.4h3.2v3.2h-3.2zM206.8 367.6h3.2v3.2h-3.2zM213.2 367.6h3.2v3.2h-3.2zM270.8 367.6h3.2v3.2h-3.2zM315.6 367.6h3.2v3.2h-3.2zM334.8 367.6h3.2v3.2h-3.2zM104.4 370.8h3.2v3.2h-3.2zM120.4 370.8h3.2v3.2h-3.2zM165.2 370.8h3.2v3.2h-3.2zM344.4 370.8h3.2v3.2h-3.2zM350.8 370.8h3.2v3.2h-3.2zM386 370.8h3.2v3.2h-3.2zM462.8 370.8h3.2v3.2h-3.2zM469.2 370.8h3.2v3.2h-3.2zM542.8 370.8h3.2v3.2h-3.2zM53.2 374h3.2v3.2h-3.2zM98 374h3.2v3.2h-3.2zM101.2 374h3.2v3.2h-3.2zM110.8 374h3.2v3.2h-3.2zM123.6 374h3.2v3.2h-3.2zM334.8 374h3.2v3.2h-3.2zM430.8 374h3.2v3.2h-3.2zM482 374h3.2v3.2h-3.2zM523.6 374h3.2v3.2h-3.2zM88.4 377.2h3.2v3.2h-3.2zM162 377.2h3.2v3.2h-3.2zM254.8 377.2h3.2v3.2h-3.2zM344.4 377.2h3.2v3.2h-3.2zM446.8 377.2h3.2v3.2h-3.2zM456.4 377.2h3.2v3.2h-3.2zM462.8 377.2h3.2v3.2h-3.2zM466 377.2h3.2v3.2h-3.2zM478.8 377.2h3.2v3.2h-3.2zM78.8 380.4h3.2v3.2h-3.2zM283.6 380.4h3.2v3.2h-3.2zM293.2 380.4h3.2v3.2h-3.2zM296.4 380.4h3.2v3.2h-3.2zM341.2 380.4h3.2v3.2h-3.2zM366.8 380.4h3.2v3.2h-3.2zM450 380.4h3.2v3.2h-3.2zM546 380.4h3.2v3.2h-3.2zM56.4 383.6h3.2v3.2h-3.2zM104.4 383.6h3.2v3.2h-3.2zM139.6 383.6h3.2v3.2h-3.2zM158.8 383.6h3.2v3.2h-3.2zM242 383.6h3.2v3.2h-3.2zM270.8 383.6h3.2v3.2h-3.2zM290 383.6h3.2v3.2h-3.2zM373.2 383.6h3.2v3.2h-3.2zM395.6 383.6h3.2v3.2h-3.2zM469.2 383.6h3.2v3.2h-3.2zM485.2 383.6h3.2v3.2h-3.2zM494.8 383.6h3.2v3.2h-3.2zM75.6 386.8h3.2v3.2h-3.2zM136.4 386.8h3.2v3.2h-3.2zM216.4 386.8h3.2v3.2h-3.2zM219.6 386.8h3.2v3.2h-3.2zM248.4 386.8h3.2v3.2h-3.2zM261.2 386.8h3.2v3.2h-3.2zM328.4 386.8h3.2v3.2h-3.2zM402 386.8h3.2v3.2h-3.2zM414.8 386.8h3.2v3.2h-3.2zM120.4 390h3.2v3.2h-3.2zM133.2 390h3.2v3.2h-3.2zM184.4 390h3.2v3.2h-3.2zM194 390h3.2v3.2h-3.2zM274 390h3.2v3.2h-3.2zM315.6 390h3.2v3.2h-3.2zM331.6 390h3.2v3.2h-3.2zM347.6 390h3.2v3.2h-3.2zM354 390h3.2v3.2h-3.2zM414.8 390h3.2v3.2h-3.2zM56.4 393.2h3.2v3.2h-3.2zM181.2 393.2h3.2v3.2h-3.2zM62.8 396.4h3.2v3.2h-3.2zM91.6 396.4h3.2v3.2h-3.2zM110.8 396.4h3.2v3.2h-3.2zM165.2 396.4h3.2v3.2h-3.2zM216.4 396.4h3.2v3.2h-3.2zM277.2 396.4h3.2v3.2h-3.2zM350.8 396.4h3.2v3.2h-3.2zM354 396.4h3.2v3.2h-3.2zM498 396.4h3.2v3.2h-3.2zM504.4 396.4h3.2v3.2h-3.2zM510.8 396.4h3.2v3.2h-3.2zM520.4 396.4h3.2v3.2h-3.2zM53.2 399.6h3.2v3.2h-3.2zM85.2 399.6h3.2v3.2h-3.2zM181.2 399.6h3.2v3.2h-3.2zM194 399.6h3.2v3.2h-3.2zM242 399.6h3.2v3.2h-3.2zM264.4 399.6h3.2v3.2h-3.2zM286.8 399.6h3.2v3.2h-3.2zM104.4 402.8h3.2v3.2h-3.2zM149.2 402.8h3.2v3.2h-3.2zM229.2 402.8h3.2v3.2h-3.2zM290 402.8h3.2v3.2h-3.2zM306 402.8h3.2v3.2h-3.2zM341.2 402.8h3.2v3.2h-3.2zM402 402.8h3.2v3.2h-3.2zM453.2 402.8h3.2v3.2h-3.2zM488.4 402.8h3.2v3.2h-3.2zM498 402.8h3.2v3.2h-3.2zM517.2 402.8h3.2v3.2h-3.2zM546 402.8h3.2v3.2h-3.2zM146 406h3.2v3.2h-3.2zM165.2 406h3.2v3.2h-3.2zM418 406h3.2v3.2h-3.2zM62.8 409.2h3.2v3.2h-3.2zM459.6 409.2h3.2v3.2h-3.2zM546 409.2h3.2v3.2h-3.2zM50 412.4h3.2v3.2h-3.2zM309.2 412.4h3.2v3.2h-3.2zM546 412.4h3.2v3.2h-3.2zM59.6 415.6h3.2v3.2h-3.2zM139.6 418.8h3.2v3.2h-3.2zM315.6 418.8h3.2v3.2h-3.2zM360.4 418.8h3.2v3.2h-3.2zM478.8 418.8h3.2v3.2h-3.2zM350.8 422h3.2v3.2h-3.2zM542.8 422h3.2v3.2h-3.2zM53.2 425.2h3.2v3.2h-3.2zM190.8 425.2h3.2v3.2h-3.2zM226 425.2h3.2v3.2h-3.2zM251.6 425.2h3.2v3.2h-3.2zM411.6 425.2h3.2v3.2h-3.2zM434 425.2h3.2v3.2h-3.2zM216.4 428.4h3.2v3.2h-3.2zM549.2 428.4h3.2v3.2h-3.2zM475.6 431.6h3.2v3.2h-3.2zM98 434.8h3.2v3.2h-3.2zM366.8 434.8h3.2v3.2h-3.2zM440.4 434.8h3.2v3.2h-3.2zM501.2 434.8h3.2v3.2h-3.2zM549.2 434.8h3.2v3.2h-3.2zM334.8 438h3.2v3.2h-3.2zM350.8 438h3.2v3.2h-3.2zM382.8 438h3.2v3.2h-3.2zM443.6 438h3.2v3.2h-3.2zM469.2 438h3.2v3.2h-3.2zM171.6 441.2h3.2v3.2h-3.2z"/>
<path fill="#0a560a" d="M104.4 70h3.2v3.2h-3.2zM126.8 70h3.2v3.2h-3.2zM162 70h3.2v3.2h-3.2zM178 70h3.2v3.2h-3.2zM200.4 70h3.2v3.2h-3.2zM274 70h3.2v3.2h-3.2zM302.8 70h3.2v3.2h-3.2zM360.4 70h3.2v3.2h-3.2zM395.6 70h3.2v3.2h-3.2zM469.2 70h3.2v3.2h-3.2zM475.6 70h3.2v3.2h-3.2zM498 70h3.2v3.2h-3.2zM546 70h3.2v3.2h-3.2zM78.8 73.2h3.2v3.2h-3.2zM91.6 73.2h3.2v3.2h-3.2zM181.2 73.2h3.2v3.2h-3.2zM232.4 73.2h3.2v3.2h-3.2zM261.2 73.2h3.2v3.2h-3.2zM286.8 73.2h3.2v3.2h-3.2zM322 73.2h3.2v3.2h-3.2zM325.2 73.2h3.2v3.2h-3.2zM443.6 73.2h3.2v3.2h-3.2zM494.8 73.2h3.2v3.2h-3.2zM530 73.2h3.2v3.2h-3.2zM50 76.4h3.2v3.2h-3.2zM104.4 76.4h3.2v3.2h-3.2zM168.4 76.4h3.2v3.2h-3.2zM210 76.4h3.2v3.2h-3.2zM222.8 76.4h3.2v3.2h-3.2zM277.2 76.4h3.2v3.2h-3.2zM363.6 76.4h3.2v3.2h-3.2zM379.6 76.4h3.2v3.2h-3.2zM386 76.4h3.2v3.2h-3.2zM443.6 76.4h3.2v3.2h-3.2zM66 79.6h3.2v3.2h-3.2zM110.8 79.6h3.2v3.2h-3.2zM114 79.6h3.2v3.2h-3.2zM242 79.6h3.2v3.2h-3.2zM245.2 79.6h3.2v3.2h-3.2zM261.2 79.6h3.2v3.2h-3.2zM440.4 79.6h3.2v3.2h-3.2zM469.2 79.6h3.2v3.2h-3.2zM517.2 79.6h3.2v3.2h-3.2zM523.6 79.6h3.2v3.2h-3.2zM549.2 79.6h3.2v3.2h-3.2zM50 82.8h3.2v3.2h-3.2zM78.8 82.8h3.2v3.2h-3.2zM194 82.8h3.2v3.2h-3.2zM197.2 82.8h3.2v3.2h-3.2zM200.4 82.8h3.2v3.2h-3.2zM238.8 82.8h3.2v3.2h-3.2zM274 82.8h3.2v3.2h-3.2zM430.8 82.8h3.2v3.2h-3.2zM526.8 82.8h3.2v3.2h-3.2zM542.8 82.8h3.2v3.2h-3.2zM78.8 86h3.2v3.2h-3.2zM101.2 86h3.2v3.2h-3.2zM114 86h3.2v3.2h-3.2zM219.6 86h3.2v3.2h-3.2zM293.2 86h3.2v3.2h-3.2zM341.2 86h3.2v3.2h-3.2zM350.8 86h3.2v3.2h-3.2zM398.8 86h3.2v3.2h-3.2zM414.8 86h3.2v3.2h-3.2zM434 86h3.2v3.2h-3.2zM446.8 86h3.2v3.2h-3.2zM523.6 86h3.2v3.2h-3.2zM69.2 89.2h3.2v3.2h-3.2zM85.2 89.2h3.2v3.2h-3.2zM94.8 89.2h3.2v3.2h-3.2zM190.8 89.2h3.2v3.2h-3.2zM245.2 89.2h3.2v3.2h-3.2zM293.2 89.2h3.2v3.2h-3.2zM347.6 89.2h3.2v3.2h-3.2zM414.8 89.2h3.2v3.2h-3.2zM443.6 89.2h3.2v3.2h-3.2zM459.6 89.2h3.2v3.2h-3.2zM472.4 89.2h3.2v3.2h-3.2zM478.8 89.2h3.2v3.2h-3.2zM536.4 89.2h3.2v3.2h-3.2zM203.6 92.4h3.2v3.2h-3.2zM245.2 92.4h3.2v3.2h-3.2zM270.8 92.4h3.2v3.2h-3.2zM338 92.4h3.2v3.2h-3.2zM386 92.4h3.2v3.2h-3.2zM459.6 92.4h3.2v3.2h-3.2zM462.8 92.4h3.2v3.2h-3.2zM472.4 92.4h3.2v3.2h-3.2zM533.2 92.4h3.2v3.2h-3.2zM56.4 95.6h3.2v3.2h-3.2zM66 95.6h3.2v3.2h-3.2zM130 95.6h3.2v3.2h-3.2zM139.6 95.6h3.2v3.2h-3.2zM162 95.6h3.2v3.2h-3.2zM184.4 95.6h3.2v3.2h-3.2zM200.4 95.6h3.2v3.2h-3.2zM219.6 95.6h3.2v3.2h-3.2zM238.8 95.6h3.2v3.2h-3.2zM277.2 95.6h3.2v3.2h-3.2zM318.8 95.6h3.2v3.2h-3.2zM366.8 95.6h3.2v3.2h-3.2zM421.2 95.6h3.2v3.2h-3.2zM446.8 95.6h3.2v3.2h-3.2zM475.6 95.6h3.2v3.2h-3.2zM539.6 95.6h3.2v3.2h-3.2zM165.2 98.8h3.2v3.2h-3.2zM261.2 98.8h3.2v3.2h-3.2zM290 98.8h3.2v3.2h-3.2zM302.8 98.8h3.2v3.2h-3.2zM523.6 98.8h3.2v3.2h-3.2zM546 98.8h3.2v3.2h-3.2zM174.8 102h3.2v3.2h-3.2zM197.2 102h3.2v3.2h-3.2zM222.8 102h3.2v3.2h-3.2zM229.2 102h3.2v3.2h-3.2zM264.4 102h3.2v3.2h-3.2zM270.8 102h3.2v3.2h-3.2zM277.2 102h3.2v3.2h-3.2zM318.8 102h3.2v3.2h-3.2zM78.8 105.2h3.2v3.2h-3.2zM104.4 105.2h3.2v3.2h-3.2zM107.6 105.2h3.2v3.2h-3.2zM123.6 105.2h3.2v3.2h-3.2zM136.4 105.2h3.2v3.2h-3.2zM174.8 105.2h3.2v3.2h-3.2zM194 105.2h3.2v3.2h-3.2zM245.2 105.2h3.2v3.2h-3.2zM274 105.2h3.2v3.2h-3.2zM286.8 105.2h3.2v3.2h-3.2zM296.4 105.2h3.2v3.2h-3.2zM299.6 105.2h3.2v3.2h-3.2zM312.4 105.2h3.2v3.2h-3.2zM328.4 105.2h3.2v3.2h-3.2zM174.8 108.4h3.2v3.2h-3.2zM184.4 108.4h3.2v3.2h-3.2zM213.2 108.4h3.2v3.2h-3.2zM270.8 108.4h3.2v3.2h-3.2zM293.2 108.4h3.2v3.2h-3.2zM306 108.4h3.2v3.2h-3.2zM376.4 108.4h3.2v3.2h-3.2zM408.4 108.4h3.2v3.2h-3.2zM498 108.4h3.2v3.2h-3.2zM94.8 111.6h3.2v3.2h-3.2zM200.4 111.6h3.2v3.2h-3.2zM296.4 111.6h3.2v3.2h-3.2zM405.2 111.6h3.2v3.2h-3.2zM200.4 114.8h3.2v3.2h-3.2zM232.4 114.8h3.2v3.2h-3.2zM251.6 114.8h3.2v3.2h-3.2zM277.2 114.8h3.2v3.2h-3.2zM386 114.8h3.2v3.2h-3.2zM395.6 114.8h3.2v3.2h-3.2zM398.8 114.8h3.2v3.2h-3.2zM517.2 114.8h3.2v3.2h-3.2zM526.8 114.8h3.2v3.2h-3.2zM264.4 118h3.2v3.2h-3.2zM270.8 118h3.2v3.2h-3.2zM274 118h3.2v3.2h-3.2zM440.4 118h3.2v3.2h-3.2zM485.2 118h3.2v3.2h-3.2zM117.2 121.2h3.2v3.2h-3.2zM152.4 121.2h3.2v3.2h-3.2zM181.2 121.2h3.2v3.2h-3.2zM187.6 121.2h3.2v3.2h-3.2zM270.8 121.2h3.2v3.2h-3.2zM398.8 121.2h3.2v3.2h-3.2zM414.8 121.2h3.2v3.2h-3.2zM478.8 121.2h3.2v3.2h-3.2zM50 124.4h3.2v3.2h-3.2zM152.4 124.4h3.2v3.2h-3.2zM165.2 124.4h3.2v3.2h-3.2zM504.4 124.4h3.2v3.2h-3.2zM517.2 124.4h3.2v3.2h-3.2zM162 127.6h3.2v3.2h-3.2zM171.6 127.6h3.2v3.2h-3.2zM306 127.6h3.2v3.2h-3.2zM350.8 127.6h3.2v3.2h-3.2zM382.8 127.6h3.2v3.2h-3.2zM510.8 127.6h3.2v3.2h-3.2zM50 130.8h3.2v3.2h-3.2zM130 130.8h3.2v3.2h-3.2zM139.6 130.8h3.2v3.2h-3.2zM469.2 130.8h3.2v3.2h-3.2zM344.4 134h3.2v3.2h-3.2zM549.2 134h3.2v3.2h-3.2zM101.2 137.2h3.2v3.2h-3.2zM142.8 137.2h3.2v3.2h-3.2zM197.2 137.2h3.2v3.2h-3.2zM264.4 137.2h3.2v3.2h-3.2zM290 137.2h3.2v3.2h-3.2zM370 137.2h3.2v3.2h-3.2zM395.6 137.2h3.2v3.2h-3.2zM53.2 140.4h3.2v3.2h-3.2zM206.8 140.4h3.2v3.2h-3.2zM334.8 140.4h3.2v3.2h-3.2zM533.2 140.4h3.2v3.2h-3.2zM69.2 143.6h3.2v3.2h-3.2zM165.2 143.6h3.2v3.2h-3.2zM446.8 143.6h3.2v3.2h-3.2zM482 143.6h3.2v3.2h-3.2zM504.4 143.6h3.2v3.2h-3.2zM88.4 146.8h3.2v3.2h-3.2zM187.6 146.8h3.2v3.2h-3.2zM510.8 146.8h3.2v3.2h-3.2zM408.4 150h3.2v3.2h-3.2zM421.2 150h3.2v3.2h-3.2zM126.8 153.2h3.2v3.2h-3.2zM136.4 153.2h3.2v3.2h-3.2zM248.4 153.2h3.2v3.2h-3.2zM341.2 153.2h3.2v3.2h-3.2zM491.6 153.2h3.2v3.2h-3.2zM549.2 153.2h3.2v3.2h-3.2zM219.6 156.4h3.2v3.2h-3.2zM296.4 156.4h3.2v3.2h-3.2zM299.6 156.4h3.2v3.2h-3.2zM312.4 156.4h3.2v3.2h-3.2zM302.8 159.6h3.2v3.2h-3.2zM392.4 159.6h3.2v3.2h-3.2zM459.6 159.6h3.2v3.2h-3.2zM549.2 159.6h3.2v3.2h-3.2zM264.4 162.8h3.2v3.2h-3.2zM283.6 162.8h3.2v3.2h-3.2zM366.8 162.8h3.2v3.2h-3.2zM546 162.8h3.2v3.2h-3.2zM59.6 166h3.2v3.2h-3.2zM226 166h3.2v3.2h-3.2zM245.2 166h3.2v3.2h-3.2zM254.8 166h3.2v3.2h-3.2zM270.8 166h3.2v3.2h-3.2zM347.6 166h3.2v3.2h-3.2zM526.8 166h3.2v3.2h-3.2zM194 169.2h3.2v3.2h-3.2zM501.2 169.2h3.2v3.2h-3.2zM517.2 169.2h3.2v3.2h-3.2zM117.2 172.4h3.2v3.2h-3.2zM258 172.4h3.2v3.2h-3.2zM306 172.4h3.2v3.2h-3.2zM376.4 172.4h3.2v3.2h-3.2zM379.6 172.4h3.2v3.2h-3.2zM402 172.4h3.2v3.2h-3.2zM430.8 172.4h3.2v3.2h-3.2zM517.2 172.4h3.2v3.2h-3.2zM59.6 175.6h3.2v3.2h-3.2zM94.8 175.6h3.2v3.2h-3.2zM149.2 175.6h3.2v3.2h-3.2zM216.4 175.6h3.2v3.2h-3.2zM258 175.6h3.2v3.2h-3.2zM270.8 175.6h3.2v3.2h-3.2zM312.4 175.6h3.2v3.2h-3.2zM341.2 175.6h3.2v3.2h-3.2zM488.4 175.6h3.2v3.2h-3.2zM139.6 178.8h3.2v3.2h-3.2zM382.8 178.8h3.2v3.2h-3.2zM126.8 182h3.2v3.2h-3.2zM136.4 182h3.2v3.2h-3.2zM258 182h3.2v3.2h-3.2zM370 182h3.2v3.2h-3.2zM453.2 182h3.2v3.2h-3.2zM482 182h3.2v3.2h-3.2zM309.2 185.2h3.2v3.2h-3.2zM123.6 188.4h3.2v3.2h-3.2zM126.8 188.4h3.2v3.2h-3.2zM66 191.6h3.2v3.2h-3.2zM168.4 191.6h3.2v3.2h-3.2zM274 191.6h3.2v3.2h-3.2zM328.4 191.6h3.2v3.2h-3.2zM341.2 191.6h3.2v3.2h-3.2zM379.6 191.6h3.2v3.2h-3.2zM430.8 191.6h3.2v3.2h-3.2zM488.4 191.6h3.2v3.2h-3.2zM517.2 191.6h3.2v3.2h-3.2zM62.8 194.8h3.2v3.2h-3.2zM136.4 194.8h3.2v3.2h-3.2zM315.6 194.8h3.2v3.2h-3.2zM376.4 194.8h3.2v3.2h-3.2zM178 198h3.2v3.2h-3.2zM315.6 198h3.2v3.2h-3.2zM482 198h3.2v3.2h-3.2zM443.6 201.2h3.2v3.2h-3.2zM466 201.2h3.2v3.2h-3.2zM331.6 204.4h3.2v3.2h-3.2zM386 204.4h3.2v3.2h-3.2zM443.6 204.4h3.2v3.2h-3.2zM539.6 204.4h3.2v3.2h-3.2zM123.6 207.6h3.2v3.2h-3.2zM142.8 207.6h3.2v3.2h-3.2zM277.2 207.6h3.2v3.2h-3.2zM315.6 207.6h3.2v3.2h-3.2zM418 207.6h3.2v3.2h-3.2zM126.8 210.8h3.2v3.2h-3.2zM149.2 210.8h3.2v3.2h-3.2zM200.4 210.8h3.2v3.2h-3.2zM341.2 210.8h3.2v3.2h-3.2zM482 210.8h3.2v3.2h-3.2zM533.2 210.8h3.2v3.2h-3.2zM53.2 214h3.2v3.2h-3.2zM120.4 214h3.2v3.2h-3.2zM242 214h3.2v3.2h-3.2zM245.2 214h3.2v3.2h-3.2zM69.2 217.2h3.2v3.2h-3.2zM216.4 217.2h3.2v3.2h-3.2zM306 217.2h3.2v3.2h-3.2zM472.4 217.2h3.2v3.2h-3.2zM510.8 217.2h3.2v3.2h-3.2zM533.2 217.2h3.2v3.2h-3.2zM130 220.4h3.2v3.2h-3.2zM142.8 220.4h3.2v3.2h-3.2zM245.2 220.4h3.2v3.2h-3.2zM379.6 220.4h3.2v3.2h-3.2zM62.8 223.6h3.2v3.2h-3.2zM206.8 223.6h3.2v3.2h-3.2zM245.2 223.6h3.2v3.2h-3.2zM299.6 223.6h3.2v3.2h-3.2zM309.2 223.6h3.2v3.2h-3.2zM536.4 223.6h3.2v3.2h-3.2zM110.8 226.8h3.2v3.2h-3.2zM373.2 226.8h3.2v3.2h-3.2zM418 226.8h3.2v3.2h-3.2zM453.2 226.8h3.2v3.2h-3.2zM478.8 226.8h3.2v3.2h-3.2zM328.4 230h3.2v3.2h-3.2zM405.2 230h3.2v3.2h-3.2zM536.4 230h3.2v3.2h-3.2zM546 230h3.2v3.2h-3.2zM53.2 233.2h3.2v3.2h-3.2zM104.4 233.2h3.2v3.2h-3.2zM222.8 233.2h3.2v3.2h-3.2zM261.2 233.2h3.2v3.2h-3.2zM267.6 233.2h3.2v3.2h-3.2zM203.6 236.4h3.2v3.2h-3.2zM296.4 236.4h3.2v3.2h-3.2zM434 236.4h3.2v3.2h-3.2zM117.2 239.6h3.2v3.2h-3.2zM434 239.6h3.2v3.2h-3.2zM488.4 239.6h3.2v3.2h-3.2zM549.2 239.6h3.2v3.2h-3.2zM66 242.8h3.2v3.2h-3.2zM123.6 242.8h3.2v3.2h-3.2zM190.8 242.8h3.2v3.2h-3.2zM293.2 242.8h3.2v3.2h-3.2zM341.2 242.8h3.2v3.2h-3.2zM408.4 242.8h3.2v3.2h-3.2zM411.6 242.8h3.2v3.2h-3.2zM334.8 246h3.2v3.2h-3.2zM126.8 249.2h3.2v3.2h-3.2zM296.4 249.2h3.2v3.2h-3.2zM405.2 249.2h3.2v3.2h-3.2zM434 249.2h3.2v3.2h-3.2zM446.8 249.2h3.2v3.2h-3.2zM501.2 249.2h3.2v3.2h-3.2zM194 252.4h3.2v3.2h-3.2zM254.8 252.4h3.2v3.2h-3.2zM315.6 252.4h3.2v3.2h-3.2zM411.6 252.4h3.2v3.2h-3.2zM450 252.4h3.2v3.2h-3.2zM475.6 252.4h3.2v3.2h-3.2zM530 252.4h3.2v3.2h-3.2zM82 255.6h3.2v3.2h-3.2zM91.6 255.6h3.2v3.2h-3.2zM190.8 255.6h3.2v3.2h-3.2zM267.6 255.6h3.2v3.2h-3.2zM350.8 255.6h3.2v3.2h-3.2zM379.6 255.6h3.2v3.2h-3.2zM456.4 255.6h3.2v3.2h-3.2zM546 255.6h3.2v3.2h-3.2zM72.4 258.8h3.2v3.2h-3.2zM162 258.8h3.2v3.2h-3.2zM184.4 258.8h3.2v3.2h-3.2zM402 258.8h3.2v3.2h-3.2zM251.6 262h3.2v3.2h-3.2zM306 262h3.2v3.2h-3.2zM466 262h3.2v3.2h-3.2zM539.6 262h3.2v3.2h-3.2zM296.4 265.2h3.2v3.2h-3.2zM354 265.2h3.2v3.2h-3.2zM469.2 265.2h3.2v3.2h-3.2zM133.2 268.4h3.2v3.2h-3.2zM504.4 268.4h3.2v3.2h-3.2zM53.2 271.6h3.2v3.2h-3.2zM229.2 271.6h3.2v3.2h-3.2zM344.4 271.6h3.2v3.2h-3.2zM373.2 271.6h3.2v3.2h-3.2zM517.2 271.6h3.2v3.2h-3.2zM146 274.8h3.2v3.2h-3.2zM162 274.8h3.2v3.2h-3.2zM318.8 274.8h3.2v3.2h-3.2zM328.4 274.8h3.2v3.2h-3.2zM430.8 274.8h3.2v3.2h-3.2zM507.6 274.8h3.2v3.2h-3.2zM120.4 278h3.2v3.2h-3.2zM277.2 278h3.2v3.2h-3.2zM450 278h3.2v3.2h-3.2zM462.8 278h3.2v3.2h-3.2zM142.8 281.2h3.2v3.2h-3.2zM235.6 281.2h3.2v3.2h-3.2zM264.4 281.2h3.2v3.2h-3.2zM395.6 281.2h3.2v3.2h-3.2zM494.8 281.2h3.2v3.2h-3.2zM50 284.4h3.2v3.2h-3.2zM168.4 284.4h3.2v3.2h-3.2zM238.8 284.4h3.2v3.2h-3.2zM462.8 284.4h3.2v3.2h-3.2zM530 284.4h3.2v3.2h-3.2zM194 287.6h3.2v3.2h-3.2zM286.8 287.6h3.2v3.2h-3.2zM338 287.6h3.2v3.2h-3.2zM62.8 290.8h3.2v3.2h-3.2zM130 290.8h3.2v3.2h-3.2zM245.2 290.8h3.2v3.2h-3.2zM114 294h3.2v3.2h-3.2zM248.4 294h3.2v3.2h-3.2zM267.6 294h3.2v3.2h-3.2zM283.6 294h3.2v3.2h-3.2zM62.8 297.2h3.2v3.2h-3.2zM197.2 297.2h3.2v3.2h-3.2zM248.4 297.2h3.2v3.2h-3.2zM501.2 297.2h3.2v3.2h-3.2zM539.6 297.2h3.2v3.2h-3.2zM56.4 300.4h3.2v3.2h-3.2zM85.2 300.4h3.2v3.2h-3.2zM347.6 300.4h3.2v3.2h-3.2zM542.8 300.4h3.2v3.2h-3.2zM546 300.4h3.2v3.2h-3.2zM62.8 303.6h3.2v3.2h-3.2zM277.2 303.6h3.2v3.2h-3.2zM350.8 303.6h3.2v3.2h-3.2zM443.6 303.6h3.2v3.2h-3.2zM494.8 303.6h3.2v3.2h-3.2zM264.4 306.8h3.2v3.2h-3.2zM296.4 306.8h3.2v3.2h-3.2zM434 306.8h3.2v3.2h-3.2zM501.2 306.8h3.2v3.2h-3.2zM50 310h3.2v3.2h-3.2zM114 310h3.2v3.2h-3.2zM238.8 310h3.2v3.2h-3.2zM254.8 310h3.2v3.2h-3.2zM421.2 310h3.2v3.2h-3.2zM59.6 313.2h3.2v3.2h-3.2zM306 313.2h3.2v3.2h-3.2zM405.2 313.2h3.2v3.2h-3.2zM229.2 316.4h3.2v3.2h-3.2zM286.8 316.4h3.2v3.2h-3.2zM373.2 316.4h3.2v3.2h-3.2zM405.2 316.4h3.2v3.2h-3.2zM414.8 316.4h3.2v3.2h-3.2zM514 316.4h3.2v3.2h-3.2zM507.6 319.6h3.2v3.2h-3.2zM280.4 322.8h3.2v3.2h-3.2zM306 322.8h3.2v3.2h-3.2zM430.8 322.8h3.2v3.2h-3.2zM453.2 322.8h3.2v3.2h-3.2zM546 322.8h3.2v3.2h-3.2zM149.2 326h3.2v3.2h-3.2zM178 326h3.2v3.2h-3.2zM181.2 326h3.2v3.2h-3.2zM242 329.2h3.2v3.2h-3.2zM357.2 329.2h3.2v3.2h-3.2zM526.8 329.2h3.2v3.2h-3.2zM133.2 332.4h3.2v3.2h-3.2zM296.4 332.4h3.2v3.2h-3.2zM501.2 332.4h3.2v3.2h-3.2zM91.6 335.6h3.2v3.2h-3.2zM104.4 335.6h3.2v3.2h-3.2zM117.2 335.6h3.2v3.2h-3.2zM200.4 335.6h3.2v3.2h-3.2zM267.6 335.6h3.2v3.2h-3.2zM270.8 335.6h3.2v3.2h-3.2zM421.2 335.6h3.2v3.2h-3.2zM133.2 338.8h3.2v3.2h-3.2zM158.8 338.8h3.2v3.2h-3.2zM290 338.8h3.2v3.2h-3.2zM411.6 338.8h3.2v3.2h-3.2zM456.4 338.8h3.2v3.2h-3.2zM533.2 338.8h3.2v3.2h-3.2zM542.8 338.8h3.2v3.2h-3.2zM261.2 342h3.2v3.2h-3.2zM542.8 342h3.2v3.2h-3.2zM546 342h3.2v3.2h-3.2zM133.2 345.2h3.2v3.2h-3.2zM152.4 345.2h3.2v3.2h-3.2zM501.2 345.2h3.2v3.2h-3.2zM184.4 348.4h3.2v3.2h-3.2zM299.6 348.4h3.2v3.2h-3.2zM344.4 348.4h3.2v3.2h-3.2zM395.6 348.4h3.2v3.2h-3.2zM91.6 351.6h3.2v3.2h-3.2zM107.6 351.6h3.2v3.2h-3.2zM395.6 351.6h3.2v3.2h-3.2zM408.4 351.6h3.2v3.2h-3.2zM494.8 351.6h3.2v3.2h-3.2zM517.2 351.6h3.2v3.2h-3.2zM50 354.8h3.2v3.2h-3.2zM101.2 354.8h3.2v3.2h-3.2zM117.2 354.8h3.2v3.2h-3.2zM280.4 354.8h3.2v3.2h-3.2zM501.2 354.8h3.2v3.2h-3.2zM510.8 354.8h3.2v3.2h-3.2zM274 358h3.2v3.2h-3.2zM283.6 358h3.2v3.2h-3.2zM325.2 358h3.2v3.2h-3.2zM472.4 358h3.2v3.2h-3.2zM530 358h3.2v3.2h-3.2zM101.2 361.2h3.2v3.2h-3.2zM427.6 361.2h3.2v3.2h-3.2zM56.4 364.4h3.2v3.2h-3.2zM78.8 364.4h3.2v3.2h-3.2zM123.6 364.4h3.2v3.2h-3.2zM133.2 364.4h3.2v3.2h-3.2zM190.8 364.4h3.2v3.2h-3.2zM347.6 364.4h3.2v3.2h-3.2zM389.2 364.4h3.2v3.2h-3.2zM437.2 364.4h3.2v3.2h-3.2zM472.4 364.4h3.2v3.2h-3.2zM533.2 364.4h3.2v3.2h-3.2zM408.4 367.6h3.2v3.2h-3.2zM488.4 367.6h3.2v3.2h-3.2zM98 370.8h3.2v3.2h-3.2zM478.8 370.8h3.2v3.2h-3.2zM504.4 370.8h3.2v3.2h-3.2zM533.2 370.8h3.2v3.2h-3.2zM549.2 370.8h3.2v3.2h-3.2zM72.4 374h3.2v3.2h-3.2zM94.8 374h3.2v3.2h-3.2zM158.8 374h3.2v3.2h-3.2zM350.8 374h3.2v3.2h-3.2zM398.8 374h3.2v3.2h-3.2zM478.8 374h3.2v3.2h-3.2zM536.4 374h3.2v3.2h-3.2zM104.4 377.2h3.2v3.2h-3.2zM190.8 377.2h3.2v3.2h-3.2zM216.4 377.2h3.2v3.2h-3.2zM229.2 377.2h3.2v3.2h-3.2zM299.6 377.2h3.2v3.2h-3.2zM421.2 377.2h3.2v3.2h-3.2zM440.4 377.2h3.2v3.2h-3.2zM155.6 380.4h3.2v3.2h-3.2zM165.2 380.4h3.2v3.2h-3.2zM203.6 380.4h3.2v3.2h-3.2zM299.6 380.4h3.2v3.2h-3.2zM405.2 380.4h3.2v3.2h-3.2zM366.8 383.6h3.2v3.2h-3.2zM411.6 383.6h3.2v3.2h-3.2zM78.8 386.8h3.2v3.2h-3.2zM82 386.8h3.2v3.2h-3.2zM120.4 386.8h3.2v3.2h-3.2zM190.8 386.8h3.2v3.2h-3.2zM235.6 386.8h3.2v3.2h-3.2zM530 386.8h3.2v3.2h-3.2zM110.8 390h3.2v3.2h-3.2zM258 390h3.2v3.2h-3.2zM270.8 390h3.2v3.2h-3.2zM286.8 390h3.2v3.2h-3.2zM293.2 390h3.2v3.2h-3.2zM395.6 390h3.2v3.2h-3.2zM430.8 390h3.2v3.2h-3.2zM440.4 390h3.2v3.2h-3.2zM50 393.2h3.2v3.2h-3.2zM197.2 393.2h3.2v3.2h-3.2zM293.2 393.2h3.2v3.2h-3.2zM318.8 393.2h3.2v3.2h-3.2zM418 393.2h3.2v3.2h-3.2zM437.2 393.2h3.2v3.2h-3.2zM539.6 393.2h3.2v3.2h-3.2zM158.8 396.4h3.2v3.2h-3.2zM229.2 396.4h3.2v3.2h-3.2zM542.8 396.4h3.2v3.2h-3.2zM82 399.6h3.2v3.2h-3.2zM110.8 399.6h3.2v3.2h-3.2zM213.2 399.6h3.2v3.2h-3.2zM254.8 399.6h3.2v3.2h-3.2zM488.4 399.6h3.2v3.2h-3.2zM507.6 399.6h3.2v3.2h-3.2zM318.8 402.8h3.2v3.2h-3.2zM344.4 402.8h3.2v3.2h-3.2zM459.6 402.8h3.2v3.2h-3.2zM504.4 402.8h3.2v3.2h-3.2zM331.6 406h3.2v3.2h-3.2zM354 406h3.2v3.2h-3.2zM520.4 406h3.2v3.2h-3.2zM296.4 409.2h3.2v3.2h-3.2zM466 409.2h3.2v3.2h-3.2zM542.8 409.2h3.2v3.2h-3.2zM101.2 412.4h3.2v3.2h-3.2zM130 412.4h3.2v3.2h-3.2zM206.8 412.4h3.2v3.2h-3.2zM533.2 412.4h3.2v3.2h-3.2zM219.6 415.6h3.2v3.2h-3.2zM165.2 418.8h3.2v3.2h-3.2zM226 418.8h3.2v3.2h-3.2zM546 418.8h3.2v3.2h-3.2zM82 422h3.2v3.2h-3.2zM222.8 422h3.2v3.2h-3.2zM318.8 422h3.2v3.2h-3.2zM482 425.2h3.2v3.2h-3.2zM78.8 431.6h3.2v3.2h-3.2zM536.4 431.6h3.2v3.2h-3.2zM533.2 434.8h3.2v3.2h-3.2z"/>
<path fill="#0c760c" d="M110.8 70h3.2v3.2h-3.2zM155.6 70h3.2v3.2h-3.2zM165.2 70h3.2v3.2h-3.2zM232.4 70h3.2v3.2h-3.2zM283.6 70h3.2v3.2h-3.2zM354 70h3.2v3.2h-3.2zM434 70h3.2v3.2h-3.2zM539.6 70h3.2v3.2h-3.2zM53.2 73.2h3.2v3.2h-3.2zM101.2 73.2h3.2v3.2h-3.2zM126.8 73.2h3.2v3.2h-3.2zM203.6 73.2h3.2v3.2h-3.2zM229.2 73.2h3.2v3.2h-3.2zM245.2 73.2h3.2v3.2h-3.2zM277.2 73.2h3.2v3.2h-3.2zM328.4 73.2h3.2v3.2h-3.2zM466 73.2h3.2v3.2h-3.2zM475.6 73.2h3.2v3.2h-3.2zM62.8 76.4h3.2v3.2h-3.2zM235.6 76.4h3.2v3.2h-3.2zM274 76.4h3.2v3.2h-3.2zM296.4 76.4h3.2v3.2h-3.2zM331.6 76.4h3.2v3.2h-3.2zM382.8 76.4h3.2v3.2h-3.2zM526.8 76.4h3.2v3.2h-3.2zM126.8 79.6h3.2v3.2h-3.2zM149.2 79.6h3.2v3.2h-3.2zM248.4 79.6h3.2v3.2h-3.2zM299.6 79.6h3.2v3.2h-3.2zM341.2 79.6h3.2v3.2h-3.2zM370 79.6h3.2v3.2h-3.2zM504.4 79.6h3.2v3.2h-3.2zM101.2 82.8h3.2v3.2h-3.2zM104.4 82.8h3.2v3.2h-3.2zM139.6 82.8h3.2v3.2h-3.2zM178 82.8h3.2v3.2h-3.2zM318.8 82.8h3.2v3.2h-3.2zM338 82.8h3.2v3.2h-3.2zM370 82.8h3.2v3.2h-3.2zM389.2 82.8h3.2v3.2h-3.2zM392.4 82.8h3.2v3.2h-3.2zM478.8 82.8h3.2v3.2h-3.2zM485.2 82.8h3.2v3.2h-3.2zM494.8 82.8h3.2v3.2h-3.2zM498 82.8h3.2v3.2h-3.2zM72.4 86h3.2v3.2h-3.2zM98 86h3.2v3.2h-3.2zM222.8 86h3.2v3.2h-3.2zM379.6 86h3.2v3.2h-3.2zM155.6 89.2h3.2v3.2h-3.2zM168.4 89.2h3.2v3.2h-3.2zM274 89.2h3.2v3.2h-3.2zM290 89.2h3.2v3.2h-3.2zM360.4 89.2h3.2v3.2h-3.2zM376.4 89.2h3.2v3.2h-3.2zM392.4 89.2h3.2v3.2h-3.2zM402 89.2h3.2v3.2h-3.2zM488.4 89.2h3.2v3.2h-3.2zM533.2 89.2h3.2v3.2h-3.2zM50 92.4h3.2v3.2h-3.2zM66 92.4h3.2v3.2h-3.2zM133.2 92.4h3.2v3.2h-3.2zM146 92.4h3.2v3.2h-3.2zM222.8 92.4h3.2v3.2h-3.2zM488.4 92.4h3.2v3.2h-3.2zM75.6 95.6h3.2v3.2h-3.2zM78.8 95.6h3.2v3.2h-3.2zM98 95.6h3.2v3.2h-3.2zM152.4 95.6h3.2v3.2h-3.2zM178 95.6h3.2v3.2h-3.2zM181.2 95.6h3.2v3.2h-3.2zM216.4 95.6h3.2v3.2h-3.2zM258 95.6h3.2v3.2h-3.2zM290 95.6h3.2v3.2h-3.2zM299.6 95.6h3.2v3.2h-3.2zM370 95.6h3.2v3.2h-3.2zM184.4 98.8h3.2v3.2h-3.2zM194 98.8h3.2v3.2h-3.2zM379.6 98.8h3.2v3.2h-3.2zM386 98.8h3.2v3.2h-3.2zM232.4 102h3.2v3.2h-3.2zM238.8 102h3.2v3.2h-3.2zM254.8 102h3.2v3.2h-3.2zM258 102h3.2v3.2h-3.2zM283.6 102h3.2v3.2h-3.2zM459.6 102h3.2v3.2h-3.2zM469.2 102h3.2v3.2h-3.2zM472.4 102h3.2v3.2h-3.2zM53.2 105.2h3.2v3.2h-3.2zM187.6 105.2h3.2v3.2h-3.2zM200.4 105.2h3.2v3.2h-3.2zM206.8 105.2h3.2v3.2h-3.2zM258 105.2h3.2v3.2h-3.2zM82 108.4h3.2v3.2h-3.2zM110.8 108.4h3.2v3.2h-3.2zM194 108.4h3.2v3.2h-3.2zM200.4 108.4h3.2v3.2h-3.2zM203.6 108.4h3.2v3.2h-3.2zM267.6 108.4h3.2v3.2h-3.2zM318.8 108.4h3.2v3.2h-3.2zM347.6 108.4h3.2v3.2h-3.2zM450 108.4h3.2v3.2h-3.2zM101.2 111.6h3.2v3.2h-3.2zM123.6 111.6h3.2v3.2h-3.2zM197.2 111.6h3.2v3.2h-3.2zM254.8 111.6h3.2v3.2h-3.2zM264.4 111.6h3.2v3.2h-3.2zM270.8 111.6h3.2v3.2h-3.2zM315.6 111.6h3.2v3.2h-3.2zM434 111.6h3.2v3.2h-3.2zM59.6 114.8h3.2v3.2h-3.2zM69.2 114.8h3.2v3.2h-3.2zM168.4 114.8h3.2v3.2h-3.2zM238.8 114.8h3.2v3.2h-3.2zM254.8 114.8h3.2v3.2h-3.2zM440.4 114.8h3.2v3.2h-3.2zM501.2 114.8h3.2v3.2h-3.2zM133.2 118h3.2v3.2h-3.2zM200.4 118h3.2v3.2h-3.2zM235.6 118h3.2v3.2h-3.2zM242 118h3.2v3.2h-3.2zM245.2 118h3.2v3.2h-3.2zM248.4 118h3.2v3.2h-3.2zM286.8 118h3.2v3.2h-3.2zM350.8 118h3.2v3.2h-3.2zM491.6 118h3.2v3.2h-3.2zM299.6 121.2h3.2v3.2h-3.2zM466 121.2h3.2v3.2h-3.2zM136.4 124.4h3.2v3.2h-3.2zM174.8 124.4h3.2v3.2h-3.2zM277.2 127.6h3.2v3.2h-3.2zM117.2 130.8h3.2v3.2h-3.2zM315.6 130.8h3.2v3.2h-3.2zM405.2 130.8h3.2v3.2h-3.2zM517.2 130.8h3.2v3.2h-3.2zM78.8 134h3.2v3.2h-3.2zM213.2 134h3.2v3.2h-3.2zM286.8 134h3.2v3.2h-3.2zM482 134h3.2v3.2h-3.2zM133.2 137.2h3.2v3.2h-3.2zM155.6 137.2h3.2v3.2h-3.2zM302.8 137.2h3.2v3.2h-3.2zM331.6 137.2h3.2v3.2h-3.2zM142.8 140.4h3.2v3.2h-3.2zM165.2 140.4h3.2v3.2h-3.2zM187.6 140.4h3.2v3.2h-3.2zM197.2 140.4h3.2v3.2h-3.2zM456.4 140.4h3.2v3.2h-3.2zM66 143.6h3.2v3.2h-3.2zM181.2 143.6h3.2v3.2h-3.2zM216.4 143.6h3.2v3.2h-3.2zM270.8 143.6h3.2v3.2h-3.2zM338 143.6h3.2v3.2h-3.2zM421.2 143.6h3.2v3.2h-3.2zM232.4 146.8h3.2v3.2h-3.2zM181.2 150h3.2v3.2h-3.2zM187.6 150h3.2v3.2h-3.2zM248.4 150h3.2v3.2h-3.2zM267.6 150h3.2v3.2h-3.2zM322 150h3.2v3.2h-3.2zM283.6 153.2h3.2v3.2h-3.2zM315.6 153.2h3.2v3.2h-3.2zM382.8 153.2h3.2v3.2h-3.2zM469.2 153.2h3.2v3.2h-3.2zM510.8 153.2h3.2v3.2h-3.2zM107.6 156.4h3.2v3.2h-3.2zM427.6 156.4h3.2v3.2h-3.2zM539.6 156.4h3.2v3.2h-3.2zM66 159.6h3.2v3.2h-3.2zM98 159.6h3.2v3.2h-3.2zM194 159.6h3.2v3.2h-3.2zM517.2 159.6h3.2v3.2h-3.2zM210 162.8h3.2v3.2h-3.2zM306 162.8h3.2v3.2h-3.2zM440.4 162.8h3.2v3.2h-3.2zM526.8 162.8h3.2v3.2h-3.2zM114 169.2h3.2v3.2h-3.2zM261.2 169.2h3.2v3.2h-3.2zM280.4 169.2h3.2v3.2h-3.2zM405.2 169.2h3.2v3.2h-3.2zM472.4 169.2h3.2v3.2h-3.2zM344.4 172.4h3.2v3.2h-3.2zM530 172.4h3.2v3.2h-3.2zM242 175.6h3.2v3.2h-3.2zM331.6 175.6h3.2v3.2h-3.2zM357.2 175.6h3.2v3.2h-3.2zM200.4 185.2h3.2v3.2h-3.2zM350.8 185.2h3.2v3.2h-3.2zM376.4 188.4h3.2v3.2h-3.2zM421.2 188.4h3.2v3.2h-3.2zM485.2 188.4h3.2v3.2h-3.2zM542.8 188.4h3.2v3.2h-3.2zM94.8 191.6h3.2v3.2h-3.2zM101.2 191.6h3.2v3.2h-3.2zM312.4 191.6h3.2v3.2h-3.2zM450 191.6h3.2v3.2h-3.2zM539.6 191.6h3.2v3.2h-3.2zM59.6 194.8h3.2v3.2h-3.2zM88.4 194.8h3.2v3.2h-3.2zM110.8 194.8h3.2v3.2h-3.2zM130 194.8h3.2v3.2h-3.2zM206.8 194.8h3.2v3.2h-3.2zM309.2 194.8h3.2v3.2h-3.2zM430.8 194.8h3.2v3.2h-3.2zM520.4 194.8h3.2v3.2h-3.2zM53.2 198h3.2v3.2h-3.2zM142.8 198h3.2v3.2h-3.2zM226 198h3.2v3.2h-3.2zM322 198h3.2v3.2h-3.2zM373.2 198h3.2v3.2h-3.2zM475.6 198h3.2v3.2h-3.2zM533.2 198h3.2v3.2h-3.2zM549.2 198h3.2v3.2h-3.2zM136.4 201.2h3.2v3.2h-3.2zM178 201.2h3.2v3.2h-3.2zM328.4 201.2h3.2v3.2h-3.2zM366.8 201.2h3.2v3.2h-3.2zM453.2 201.2h3.2v3.2h-3.2zM488.4 201.2h3.2v3.2h-3.2zM491.6 201.2h3.2v3.2h-3.2zM53.2 204.4h3.2v3.2h-3.2zM94.8 204.4h3.2v3.2h-3.2zM136.4 204.4h3.2v3.2h-3.2zM158.8 204.4h3.2v3.2h-3.2zM264.4 204.4h3.2v3.2h-3.2zM267.6 204.4h3.2v3.2h-3.2zM328.4 204.4h3.2v3.2h-3.2zM482 204.4h3.2v3.2h-3.2zM546 204.4h3.2v3.2h-3.2zM101.2 207.6h3.2v3.2h-3.2zM184.4 207.6h3.2v3.2h-3.2zM402 207.6h3.2v3.2h-3.2zM459.6 207.6h3.2v3.2h-3.2zM181.2 210.8h3.2v3.2h-3.2zM251.6 210.8h3.2v3.2h-3.2zM434 210.8h3.2v3.2h-3.2zM75.6 214h3.2v3.2h-3.2zM146 214h3.2v3.2h-3.2zM158.8 214h3.2v3.2h-3.2zM510.8 214h3.2v3.2h-3.2zM331.6 217.2h3.2v3.2h-3.2zM405.2 217.2h3.2v3.2h-3.2zM123.6 220.4h3.2v3.2h-3.2zM152.4 220.4h3.2v3.2h-3.2zM293.2 220.4h3.2v3.2h-3.2zM322 223.6h3.2v3.2h-3.2zM344.4 223.6h3.2v3.2h-3.2zM350.8 223.6h3.2v3.2h-3.2zM472.4 223.6h3.2v3.2h-3.2zM53.2 226.8h3.2v3.2h-3.2zM168.4 226.8h3.2v3.2h-3.2zM194 226.8h3.2v3.2h-3.2zM318.8 226.8h3.2v3.2h-3.2zM360.4 226.8h3.2v3.2h-3.2zM386 226.8h3.2v3.2h-3.2zM114 230h3.2v3.2h-3.2zM213.2 230h3.2v3.2h-3.2zM334.8 230h3.2v3.2h-3.2zM338 230h3.2v3.2h-3.2zM50 233.2h3.2v3.2h-3.2zM190.8 233.2h3.2v3.2h-3.2zM290 233.2h3.2v3.2h-3.2zM386 233.2h3.2v3.2h-3.2zM456.4 233.2h3.2v3.2h-3.2zM126.8 236.4h3.2v3.2h-3.2zM350.8 236.4h3.2v3.2h-3.2zM549.2 236.4h3.2v3.2h-3.2zM347.6 239.6h3.2v3.2h-3.2zM104.4 242.8h3.2v3.2h-3.2zM200.4 242.8h3.2v3.2h-3.2zM258 242.8h3.2v3.2h-3.2zM386 242.8h3.2v3.2h-3.2zM536.4 242.8h3.2v3.2h-3.2zM85.2 246h3.2v3.2h-3.2zM171.6 246h3.2v3.2h-3.2zM299.6 246h3.2v3.2h-3.2zM302.8 246h3.2v3.2h-3.2zM98 249.2h3.2v3.2h-3.2zM216.4 249.2h3.2v3.2h-3.2zM373.2 249.2h3.2v3.2h-3.2zM344.4 252.4h3.2v3.2h-3.2zM370 252.4h3.2v3.2h-3.2zM542.8 252.4h3.2v3.2h-3.2zM94.8 255.6h3.2v3.2h-3.2zM171.6 255.6h3.2v3.2h-3.2zM216.4 255.6h3.2v3.2h-3.2zM331.6 255.6h3.2v3.2h-3.2zM392.4 255.6h3.2v3.2h-3.2zM229.2 258.8h3.2v3.2h-3.2zM264.4 258.8h3.2v3.2h-3.2zM325.2 258.8h3.2v3.2h-3.2zM424.4 258.8h3.2v3.2h-3.2zM85.2 262h3.2v3.2h-3.2zM171.6 262h3.2v3.2h-3.2zM238.8 262h3.2v3.2h-3.2zM488.4 262h3.2v3.2h-3.2zM491.6 262h3.2v3.2h-3.2zM142.8 265.2h3.2v3.2h-3.2zM171.6 265.2h3.2v3.2h-3.2zM254.8 265.2h3.2v3.2h-3.2zM82 268.4h3.2v3.2h-3.2zM344.4 268.4h3.2v3.2h-3.2zM469.2 268.4h3.2v3.2h-3.2zM498 268.4h3.2v3.2h-3.2zM146 271.6h3.2v3.2h-3.2zM261.2 271.6h3.2v3.2h-3.2zM270.8 271.6h3.2v3.2h-3.2zM78.8 274.8h3.2v3.2h-3.2zM338 274.8h3.2v3.2h-3.2zM478.8 274.8h3.2v3.2h-3.2zM549.2 274.8h3.2v3.2h-3.2zM117.2 278h3.2v3.2h-3.2zM155.6 278h3.2v3.2h-3.2zM242 278h3.2v3.2h-3.2zM334.8 278h3.2v3.2h-3.2zM347.6 278h3.2v3.2h-3.2zM357.2 278h3.2v3.2h-3.2zM475.6 278h3.2v3.2h-3.2zM536.4 278h3.2v3.2h-3.2zM549.2 278h3.2v3.2h-3.2zM277.2 281.2h3.2v3.2h-3.2zM315.6 281.2h3.2v3.2h-3.2zM347.6 281.2h3.2v3.2h-3.2zM469.2 281.2h3.2v3.2h-3.2zM501.2 281.2h3.2v3.2h-3.2zM91.6 284.4h3.2v3.2h-3.2zM235.6 284.4h3.2v3.2h-3.2zM245.2 284.4h3.2v3.2h-3.2zM446.8 284.4h3.2v3.2h-3.2zM453.2 284.4h3.2v3.2h-3.2zM523.6 284.4h3.2v3.2h-3.2zM66 287.6h3.2v3.2h-3.2zM248.4 287.6h3.2v3.2h-3.2zM251.6 287.6h3.2v3.2h-3.2zM274 287.6h3.2v3.2h-3.2zM363.6 287.6h3.2v3.2h-3.2zM379.6 287.6h3.2v3.2h-3.2zM472.4 287.6h3.2v3.2h-3.2zM501.2 287.6h3.2v3.2h-3.2zM261.2 290.8h3.2v3.2h-3.2zM322 290.8h3.2v3.2h-3.2zM507.6 290.8h3.2v3.2h-3.2zM59.6 294h3.2v3.2h-3.2zM168.4 294h3.2v3.2h-3.2zM549.2 294h3.2v3.2h-3.2zM85.2 297.2h3.2v3.2h-3.2zM181.2 297.2h3.2v3.2h-3.2zM245.2 297.2h3.2v3.2h-3.2zM53.2 300.4h3.2v3.2h-3.2zM421.2 300.4h3.2v3.2h-3.2zM482 300.4h3.2v3.2h-3.2zM498 300.4h3.2v3.2h-3.2zM117.2 303.6h3.2v3.2h-3.2zM168.4 303.6h3.2v3.2h-3.2zM184.4 303.6h3.2v3.2h-3.2zM226 303.6h3.2v3.2h-3.2zM232.4 303.6h3.2v3.2h-3.2zM546 303.6h3.2v3.2h-3.2zM245.2 306.8h3.2v3.2h-3.2zM526.8 306.8h3.2v3.2h-3.2zM56.4 310h3.2v3.2h-3.2zM142.8 310h3.2v3.2h-3.2zM290 310h3.2v3.2h-3.2zM443.6 310h3.2v3.2h-3.2zM190.8 313.2h3.2v3.2h-3.2zM392.4 313.2h3.2v3.2h-3.2zM478.8 313.2h3.2v3.2h-3.2zM485.2 313.2h3.2v3.2h-3.2zM130 316.4h3.2v3.2h-3.2zM235.6 316.4h3.2v3.2h-3.2zM469.2 316.4h3.2v3.2h-3.2zM507.6 316.4h3.2v3.2h-3.2zM85.2 319.6h3.2v3.2h-3.2zM107.6 319.6h3.2v3.2h-3.2zM120.4 319.6h3.2v3.2h-3.2zM430.8 319.6h3.2v3.2h-3.2zM126.8 322.8h3.2v3.2h-3.2zM146 322.8h3.2v3.2h-3.2zM158.8 322.8h3.2v3.2h-3.2zM283.6 322.8h3.2v3.2h-3.2zM418 322.8h3.2v3.2h-3.2zM69.2 326h3.2v3.2h-3.2zM107.6 326h3.2v3.2h-3.2zM242 326h3.2v3.2h-3.2zM379.6 326h3.2v3.2h-3.2zM152.4 329.2h3.2v3.2h-3.2zM245.2 329.2h3.2v3.2h-3.2zM411.6 329.2h3.2v3.2h-3.2zM434 329.2h3.2v3.2h-3.2zM469.2 329.2h3.2v3.2h-3.2zM130 332.4h3.2v3.2h-3.2zM149.2 332.4h3.2v3.2h-3.2zM280.4 332.4h3.2v3.2h-3.2zM482 332.4h3.2v3.2h-3.2zM523.6 332.4h3.2v3.2h-3.2zM264.4 335.6h3.2v3.2h-3.2zM469.2 335.6h3.2v3.2h-3.2zM539.6 335.6h3.2v3.2h-3.2zM59.6 338.8h3.2v3.2h-3.2zM430.8 338.8h3.2v3.2h-3.2zM69.2 342h3.2v3.2h-3.2zM85.2 342h3.2v3.2h-3.2zM114 342h3.2v3.2h-3.2zM139.6 342h3.2v3.2h-3.2zM274 342h3.2v3.2h-3.2zM312.4 342h3.2v3.2h-3.2zM210 345.2h3.2v3.2h-3.2zM286.8 345.2h3.2v3.2h-3.2zM331.6 345.2h3.2v3.2h-3.2zM219.6 348.4h3.2v3.2h-3.2zM242 348.4h3.2v3.2h-3.2zM82 351.6h3.2v3.2h-3.2zM117.2 351.6h3.2v3.2h-3.2zM341.2 351.6h3.2v3.2h-3.2zM155.6 354.8h3.2v3.2h-3.2zM437.2 354.8h3.2v3.2h-3.2zM462.8 354.8h3.2v3.2h-3.2zM494.8 354.8h3.2v3.2h-3.2zM126.8 358h3.2v3.2h-3.2zM370 358h3.2v3.2h-3.2zM536.4 358h3.2v3.2h-3.2zM66 361.2h3.2v3.2h-3.2zM94.8 361.2h3.2v3.2h-3.2zM146 361.2h3.2v3.2h-3.2zM466 361.2h3.2v3.2h-3.2zM98 364.4h3.2v3.2h-3.2zM174.8 364.4h3.2v3.2h-3.2zM187.6 364.4h3.2v3.2h-3.2zM462.8 364.4h3.2v3.2h-3.2zM510.8 364.4h3.2v3.2h-3.2zM526.8 364.4h3.2v3.2h-3.2zM62.8 367.6h3.2v3.2h-3.2zM293.2 367.6h3.2v3.2h-3.2zM360.4 367.6h3.2v3.2h-3.2zM402 367.6h3.2v3.2h-3.2zM536.4 367.6h3.2v3.2h-3.2zM82 370.8h3.2v3.2h-3.2zM88.4 370.8h3.2v3.2h-3.2zM123.6 370.8h3.2v3.2h-3.2zM133.2 370.8h3.2v3.2h-3.2zM264.4 370.8h3.2v3.2h-3.2zM322 370.8h3.2v3.2h-3.2zM325.2 370.8h3.2v3.2h-3.2zM546 370.8h3.2v3.2h-3.2zM130 374h3.2v3.2h-3.2zM168.4 374h3.2v3.2h-3.2zM392.4 374h3.2v3.2h-3.2zM475.6 374h3.2v3.2h-3.2zM296.4 377.2h3.2v3.2h-3.2zM322 377.2h3.2v3.2h-3.2zM325.2 377.2h3.2v3.2h-3.2zM408.4 380.4h3.2v3.2h-3.2zM296.4 383.6h3.2v3.2h-3.2zM418 383.6h3.2v3.2h-3.2zM85.2 386.8h3.2v3.2h-3.2zM187.6 386.8h3.2v3.2h-3.2zM245.2 386.8h3.2v3.2h-3.2zM312.4 386.8h3.2v3.2h-3.2zM517.2 386.8h3.2v3.2h-3.2zM546 386.8h3.2v3.2h-3.2zM242 390h3.2v3.2h-3.2zM363.6 390h3.2v3.2h-3.2zM382.8 390h3.2v3.2h-3.2zM466 390h3.2v3.2h-3.2zM549.2 390h3.2v3.2h-3.2zM162 393.2h3.2v3.2h-3.2zM430.8 393.2h3.2v3.2h-3.2zM98 396.4h3.2v3.2h-3.2zM334.8 396.4h3.2v3.2h-3.2zM398.8 396.4h3.2v3.2h-3.2zM418 396.4h3.2v3.2h-3.2zM430.8 396.4h3.2v3.2h-3.2zM440.4 396.4h3.2v3.2h-3.2zM408.4 399.6h3.2v3.2h-3.2zM456.4 399.6h3.2v3.2h-3.2zM107.6 402.8h3.2v3.2h-3.2zM123.6 402.8h3.2v3.2h-3.2zM245.2 402.8h3.2v3.2h-3.2zM533.2 402.8h3.2v3.2h-3.2zM216.4 406h3.2v3.2h-3.2zM344.4 409.2h3.2v3.2h-3.2zM296.4 412.4h3.2v3.2h-3.2zM53.2 415.6h3.2v3.2h-3.2zM75.6 425.2h3.2v3.2h-3.2zM107.6 425.2h3.2v3.2h-3.2zM328.4 428.4h3.2v3.2h-3.2zM421.2 428.4h3.2v3.2h-3.2zM446.8 428.4h3.2v3.2h-3.2zM462.8 428.4h3.2v3.2h-3.2zM296.4 431.6h3.2v3.2h-3.2zM53.2 434.8h3.2v3.2h-3.2zM101.2 434.8h3.2v3.2h-3.2zM322 434.8h3.2v3.2h-3.2zM53.2 441.2h3.2v3.2h-3.2z"/>
<path fill="#10a010" d="M107.6 70h3.2v3.2h-3.2zM117.2 70h3.2v3.2h-3.2zM142.8 70h3.2v3.2h-3.2zM187.6 70h3.2v3.2h-3.2zM226 70h3.2v3.2h-3.2zM251.6 70h3.2v3.2h-3.2zM267.6 70h3.2v3.2h-3.2zM405.2 70h3.2v3.2h-3.2zM507.6 70h3.2v3.2h-3.2zM526.8 70h3.2v3.2h-3.2zM104.4 73.2h3.2v3.2h-3.2zM174.8 73.2h3.2v3.2h-3.2zM283.6 73.2h3.2v3.2h-3.2zM373.2 73.2h3.2v3.2h-3.2zM462.8 73.2h3.2v3.2h-3.2zM123.6 76.4h3.2v3.2h-3.2zM152.4 76.4h3.2v3.2h-3.2zM194 76.4h3.2v3.2h-3.2zM216.4 76.4h3.2v3.2h-3.2zM219.6 76.4h3.2v3.2h-3.2zM232.4 76.4h3.2v3.2h-3.2zM248.4 76.4h3.2v3.2h-3.2zM270.8 76.4h3.2v3.2h-3.2zM293.2 76.4h3.2v3.2h-3.2zM347.6 76.4h3.2v3.2h-3.2zM354 76.4h3.2v3.2h-3.2zM398.8 76.4h3.2v3.2h-3.2zM411.6 76.4h3.2v3.2h-3.2zM453.2 76.4h3.2v3.2h-3.2zM462.8 76.4h3.2v3.2h-3.2zM498 76.4h3.2v3.2h-3.2zM171.6 79.6h3.2v3.2h-3.2zM178 79.6h3.2v3.2h-3.2zM194 79.6h3.2v3.2h-3.2zM318.8 79.6h3.2v3.2h-3.2zM418 79.6h3.2v3.2h-3.2zM501.2 79.6h3.2v3.2h-3.2zM203.6 82.8h3.2v3.2h-3.2zM280.4 82.8h3.2v3.2h-3.2zM306 82.8h3.2v3.2h-3.2zM414.8 82.8h3.2v3.2h-3.2zM450 82.8h3.2v3.2h-3.2zM459.6 82.8h3.2v3.2h-3.2zM549.2 82.8h3.2v3.2h-3.2zM245.2 86h3.2v3.2h-3.2zM366.8 86h3.2v3.2h-3.2zM526.8 86h3.2v3.2h-3.2zM59.6 89.2h3.2v3.2h-3.2zM110.8 89.2h3.2v3.2h-3.2zM123.6 89.2h3.2v3.2h-3.2zM142.8 89.2h3.2v3.2h-3.2zM165.2 89.2h3.2v3.2h-3.2zM187.6 89.2h3.2v3.2h-3.2zM197.2 89.2h3.2v3.2h-3.2zM213.2 89.2h3.2v3.2h-3.2zM222.8 89.2h3.2v3.2h-3.2zM283.6 89.2h3.2v3.2h-3.2zM350.8 89.2h3.2v3.2h-3.2zM430.8 89.2h3.2v3.2h-3.2zM168.4 92.4h3.2v3.2h-3.2zM190.8 92.4h3.2v3.2h-3.2zM366.8 92.4h3.2v3.2h-3.2zM382.8 92.4h3.2v3.2h-3.2zM469.2 92.4h3.2v3.2h-3.2zM549.2 92.4h3.2v3.2h-3.2zM50 95.6h3.2v3.2h-3.2zM133.2 95.6h3.2v3.2h-3.2zM248.4 95.6h3.2v3.2h-3.2zM334.8 95.6h3.2v3.2h-3.2zM350.8 95.6h3.2v3.2h-3.2zM398.8 95.6h3.2v3.2h-3.2zM405.2 95.6h3.2v3.2h-3.2zM414.8 95.6h3.2v3.2h-3.2zM501.2 95.6h3.2v3.2h-3.2zM549.2 95.6h3.2v3.2h-3.2zM53.2 98.8h3.2v3.2h-3.2zM258 98.8h3.2v3.2h-3.2zM472.4 98.8h3.2v3.2h-3.2zM478.8 98.8h3.2v3.2h-3.2zM101.2 102h3.2v3.2h-3.2zM235.6 102h3.2v3.2h-3.2zM242 102h3.2v3.2h-3.2zM267.6 102h3.2v3.2h-3.2zM296.4 102h3.2v3.2h-3.2zM357.2 102h3.2v3.2h-3.2zM434 102h3.2v3.2h-3.2zM504.4 102h3.2v3.2h-3.2zM203.6 105.2h3.2v3.2h-3.2zM261.2 105.2h3.2v3.2h-3.2zM283.6 105.2h3.2v3.2h-3.2zM504.4 105.2h3.2v3.2h-3.2zM546 105.2h3.2v3.2h-3.2zM104.4 108.4h3.2v3.2h-3.2zM206.8 108.4h3.2v3.2h-3.2zM264.4 108.4h3.2v3.2h-3.2zM130 111.6h3.2v3.2h-3.2zM133.2 111.6h3.2v3.2h-3.2zM136.4 111.6h3.2v3.2h-3.2zM152.4 111.6h3.2v3.2h-3.2zM379.6 111.6h3.2v3.2h-3.2zM546 111.6h3.2v3.2h-3.2zM286.8 114.8h3.2v3.2h-3.2zM296.4 114.8h3.2v3.2h-3.2zM373.2 114.8h3.2v3.2h-3.2zM485.2 114.8h3.2v3.2h-3.2zM280.4 118h3.2v3.2h-3.2zM50 121.2h3.2v3.2h-3.2zM101.2 121.2h3.2v3.2h-3.2zM174.8 121.2h3.2v3.2h-3.2zM194 121.2h3.2v3.2h-3.2zM229.2 121.2h3.2v3.2h-3.2zM254.8 121.2h3.2v3.2h-3.2zM274 121.2h3.2v3.2h-3.2zM334.8 121.2h3.2v3.2h-3.2zM354 121.2h3.2v3.2h-3.2zM424.4 121.2h3.2v3.2h-3.2zM507.6 121.2h3.2v3.2h-3.2zM56.4 124.4h3.2v3.2h-3.2zM184.4 124.4h3.2v3.2h-3.2zM190.8 124.4h3.2v3.2h-3.2zM398.8 124.4h3.2v3.2h-3.2zM142.8 127.6h3.2v3.2h-3.2zM245.2 127.6h3.2v3.2h-3.2zM338 127.6h3.2v3.2h-3.2zM379.6 127.6h3.2v3.2h-3.2zM411.6 127.6h3.2v3.2h-3.2zM98 130.8h3.2v3.2h-3.2zM114 130.8h3.2v3.2h-3.2zM194 130.8h3.2v3.2h-3.2zM325.2 130.8h3.2v3.2h-3.2zM427.6 130.8h3.2v3.2h-3.2zM98 134h3.2v3.2h-3.2zM274 134h3.2v3.2h-3.2zM328.4 134h3.2v3.2h-3.2zM437.2 134h3.2v3.2h-3.2zM488.4 134h3.2v3.2h-3.2zM98 140.4h3.2v3.2h-3.2zM408.4 140.4h3.2v3.2h-3.2zM434 140.4h3.2v3.2h-3.2zM174.8 143.6h3.2v3.2h-3.2zM254.8 143.6h3.2v3.2h-3.2zM210 146.8h3.2v3.2h-3.2zM338 146.8h3.2v3.2h-3.2zM459.6 146.8h3.2v3.2h-3.2zM536.4 146.8h3.2v3.2h-3.2zM216.4 150h3.2v3.2h-3.2zM277.2 150h3.2v3.2h-3.2zM520.4 150h3.2v3.2h-3.2zM62.8 153.2h3.2v3.2h-3.2zM155.6 153.2h3.2v3.2h-3.2zM507.6 153.2h3.2v3.2h-3.2zM456.4 156.4h3.2v3.2h-3.2zM114 159.6h3.2v3.2h-3.2zM360.4 159.6h3.2v3.2h-3.2zM382.8 159.6h3.2v3.2h-3.2zM386 159.6h3.2v3.2h-3.2zM66 162.8h3.2v3.2h-3.2zM229.2 162.8h3.2v3.2h-3.2zM318.8 162.8h3.2v3.2h-3.2zM232.4 166h3.2v3.2h-3.2zM421.2 166h3.2v3.2h-3.2zM88.4 169.2h3.2v3.2h-3.2zM200.4 169.2h3.2v3.2h-3.2zM254.8 169.2h3.2v3.2h-3.2zM146 172.4h3.2v3.2h-3.2zM197.2 172.4h3.2v3.2h-3.2zM210 175.6h3.2v3.2h-3.2zM325.2 175.6h3.2v3.2h-3.2zM354 175.6h3.2v3.2h-3.2zM360.4 175.6h3.2v3.2h-3.2zM434 175.6h3.2v3.2h-3.2zM66 178.8h3.2v3.2h-3.2zM107.6 178.8h3.2v3.2h-3.2zM206.8 178.8h3.2v3.2h-3.2zM258 178.8h3.2v3.2h-3.2zM341.2 178.8h3.2v3.2h-3.2zM354 178.8h3.2v3.2h-3.2zM443.6 178.8h3.2v3.2h-3.2zM539.6 178.8h3.2v3.2h-3.2zM536.4 182h3.2v3.2h-3.2zM421.2 185.2h3.2v3.2h-3.2zM453.2 185.2h3.2v3.2h-3.2zM206.8 188.4h3.2v3.2h-3.2zM226 188.4h3.2v3.2h-3.2zM363.6 188.4h3.2v3.2h-3.2zM446.8 188.4h3.2v3.2h-3.2zM494.8 188.4h3.2v3.2h-3.2zM56.4 191.6h3.2v3.2h-3.2zM174.8 191.6h3.2v3.2h-3.2zM270.8 191.6h3.2v3.2h-3.2zM354 191.6h3.2v3.2h-3.2zM360.4 191.6h3.2v3.2h-3.2zM408.4 191.6h3.2v3.2h-3.2zM104.4 194.8h3.2v3.2h-3.2zM203.6 194.8h3.2v3.2h-3.2zM274 194.8h3.2v3.2h-3.2zM331.6 194.8h3.2v3.2h-3.2zM354 194.8h3.2v3.2h-3.2zM363.6 194.8h3.2v3.2h-3.2zM56.4 198h3.2v3.2h-3.2zM299.6 198h3.2v3.2h-3.2zM443.6 198h3.2v3.2h-3.2zM466 198h3.2v3.2h-3.2zM469.2 198h3.2v3.2h-3.2zM526.8 198h3.2v3.2h-3.2zM360.4 201.2h3.2v3.2h-3.2zM402 201.2h3.2v3.2h-3.2zM546 201.2h3.2v3.2h-3.2zM110.8 204.4h3.2v3.2h-3.2zM226 204.4h3.2v3.2h-3.2zM318.8 204.4h3.2v3.2h-3.2zM360.4 204.4h3.2v3.2h-3.2zM392.4 204.4h3.2v3.2h-3.2zM491.6 204.4h3.2v3.2h-3.2zM274 207.6h3.2v3.2h-3.2zM523.6 207.6h3.2v3.2h-3.2zM539.6 207.6h3.2v3.2h-3.2zM293.2 210.8h3.2v3.2h-3.2zM363.6 210.8h3.2v3.2h-3.2zM66 214h3.2v3.2h-3.2zM123.6 214h3.2v3.2h-3.2zM366.8 214h3.2v3.2h-3.2zM446.8 214h3.2v3.2h-3.2zM491.6 214h3.2v3.2h-3.2zM91.6 217.2h3.2v3.2h-3.2zM158.8 217.2h3.2v3.2h-3.2zM290 217.2h3.2v3.2h-3.2zM440.4 217.2h3.2v3.2h-3.2zM104.4 220.4h3.2v3.2h-3.2zM206.8 220.4h3.2v3.2h-3.2zM258 220.4h3.2v3.2h-3.2zM392.4 220.4h3.2v3.2h-3.2zM120.4 223.6h3.2v3.2h-3.2zM142.8 223.6h3.2v3.2h-3.2zM152.4 223.6h3.2v3.2h-3.2zM197.2 223.6h3.2v3.2h-3.2zM341.2 223.6h3.2v3.2h-3.2zM488.4 223.6h3.2v3.2h-3.2zM213.2 226.8h3.2v3.2h-3.2zM283.6 226.8h3.2v3.2h-3.2zM376.4 226.8h3.2v3.2h-3.2zM392.4 226.8h3.2v3.2h-3.2zM158.8 230h3.2v3.2h-3.2zM418 230h3.2v3.2h-3.2zM488.4 230h3.2v3.2h-3.2zM264.4 233.2h3.2v3.2h-3.2zM280.4 233.2h3.2v3.2h-3.2zM350.8 233.2h3.2v3.2h-3.2zM149.2 236.4h3.2v3.2h-3.2zM216.4 236.4h3.2v3.2h-3.2zM546 236.4h3.2v3.2h-3.2zM200.4 239.6h3.2v3.2h-3.2zM242 239.6h3.2v3.2h-3.2zM408.4 239.6h3.2v3.2h-3.2zM491.6 239.6h3.2v3.2h-3.2zM85.2 242.8h3.2v3.2h-3.2zM110.8 242.8h3.2v3.2h-3.2zM155.6 242.8h3.2v3.2h-3.2zM203.6 242.8h3.2v3.2h-3.2zM437.2 242.8h3.2v3.2h-3.2zM62.8 246h3.2v3.2h-3.2zM197.2 246h3.2v3.2h-3.2zM238.8 246h3.2v3.2h-3.2zM258 246h3.2v3.2h-3.2zM354 246h3.2v3.2h-3.2zM501.2 246h3.2v3.2h-3.2zM82 249.2h3.2v3.2h-3.2zM101.2 249.2h3.2v3.2h-3.2zM251.6 249.2h3.2v3.2h-3.2zM232.4 252.4h3.2v3.2h-3.2zM382.8 252.4h3.2v3.2h-3.2zM523.6 252.4h3.2v3.2h-3.2zM152.4 255.6h3.2v3.2h-3.2zM203.6 255.6h3.2v3.2h-3.2zM373.2 255.6h3.2v3.2h-3.2zM498 255.6h3.2v3.2h-3.2zM56.4 258.8h3.2v3.2h-3.2zM235.6 258.8h3.2v3.2h-3.2zM376.4 258.8h3.2v3.2h-3.2zM536.4 258.8h3.2v3.2h-3.2zM142.8 262h3.2v3.2h-3.2zM197.2 262h3.2v3.2h-3.2zM200.4 262h3.2v3.2h-3.2zM206.8 262h3.2v3.2h-3.2zM302.8 262h3.2v3.2h-3.2zM440.4 262h3.2v3.2h-3.2zM507.6 262h3.2v3.2h-3.2zM78.8 265.2h3.2v3.2h-3.2zM261.2 265.2h3.2v3.2h-3.2zM306 265.2h3.2v3.2h-3.2zM450 265.2h3.2v3.2h-3.2zM475.6 265.2h3.2v3.2h-3.2zM357.2 268.4h3.2v3.2h-3.2zM434 268.4h3.2v3.2h-3.2zM78.8 271.6h3.2v3.2h-3.2zM91.6 271.6h3.2v3.2h-3.2zM136.4 271.6h3.2v3.2h-3.2zM142.8 271.6h3.2v3.2h-3.2zM331.6 271.6h3.2v3.2h-3.2zM382.8 271.6h3.2v3.2h-3.2zM392.4 271.6h3.2v3.2h-3.2zM72.4 274.8h3.2v3.2h-3.2zM171.6 274.8h3.2v3.2h-3.2zM194 274.8h3.2v3.2h-3.2zM299.6 274.8h3.2v3.2h-3.2zM360.4 274.8h3.2v3.2h-3.2zM50 278h3.2v3.2h-3.2zM245.2 278h3.2v3.2h-3.2zM56.4 281.2h3.2v3.2h-3.2zM107.6 281.2h3.2v3.2h-3.2zM350.8 281.2h3.2v3.2h-3.2zM411.6 281.2h3.2v3.2h-3.2zM485.2 281.2h3.2v3.2h-3.2zM325.2 284.4h3.2v3.2h-3.2zM434 284.4h3.2v3.2h-3.2zM504.4 284.4h3.2v3.2h-3.2zM187.6 287.6h3.2v3.2h-3.2zM309.2 287.6h3.2v3.2h-3.2zM411.6 287.6h3.2v3.2h-3.2zM526.8 287.6h3.2v3.2h-3.2zM238.8 290.8h3.2v3.2h-3.2zM440.4 290.8h3.2v3.2h-3.2zM501.2 290.8h3.2v3.2h-3.2zM216.4 294h3.2v3.2h-3.2zM309.2 294h3.2v3.2h-3.2zM459.6 294h3.2v3.2h-3.2zM533.2 294h3.2v3.2h-3.2zM178 297.2h3.2v3.2h-3.2zM203.6 297.2h3.2v3.2h-3.2zM350.8 297.2h3.2v3.2h-3.2zM546 297.2h3.2v3.2h-3.2zM274 300.4h3.2v3.2h-3.2zM325.2 300.4h3.2v3.2h-3.2zM334.8 303.6h3.2v3.2h-3.2zM110.8 306.8h3.2v3.2h-3.2zM274 306.8h3.2v3.2h-3.2zM219.6 310h3.2v3.2h-3.2zM235.6 310h3.2v3.2h-3.2zM523.6 310h3.2v3.2h-3.2zM168.4 313.2h3.2v3.2h-3.2zM248.4 313.2h3.2v3.2h-3.2zM318.8 313.2h3.2v3.2h-3.2zM334.8 313.2h3.2v3.2h-3.2zM488.4 313.2h3.2v3.2h-3.2zM264.4 316.4h3.2v3.2h-3.2zM453.2 319.6h3.2v3.2h-3.2zM466 319.6h3.2v3.2h-3.2zM520.4 319.6h3.2v3.2h-3.2zM434 322.8h3.2v3.2h-3.2zM523.6 322.8h3.2v3.2h-3.2zM123.6 326h3.2v3.2h-3.2zM354 326h3.2v3.2h-3.2zM363.6 326h3.2v3.2h-3.2zM405.2 329.2h3.2v3.2h-3.2zM475.6 329.2h3.2v3.2h-3.2zM395.6 332.4h3.2v3.2h-3.2zM405.2 332.4h3.2v3.2h-3.2zM53.2 335.6h3.2v3.2h-3.2zM174.8 335.6h3.2v3.2h-3.2zM363.6 335.6h3.2v3.2h-3.2zM402 335.6h3.2v3.2h-3.2zM536.4 335.6h3.2v3.2h-3.2zM110.8 338.8h3.2v3.2h-3.2zM149.2 342h3.2v3.2h-3.2zM456.4 342h3.2v3.2h-3.2zM373.2 345.2h3.2v3.2h-3.2zM78.8 351.6h3.2v3.2h-3.2zM264.4 354.8h3.2v3.2h-3.2zM299.6 354.8h3.2v3.2h-3.2zM62.8 358h3.2v3.2h-3.2zM101.2 358h3.2v3.2h-3.2zM190.8 358h3.2v3.2h-3.2zM331.6 358h3.2v3.2h-3.2zM386 358h3.2v3.2h-3.2zM398.8 358h3.2v3.2h-3.2zM414.8 358h3.2v3.2h-3.2zM117.2 361.2h3.2v3.2h-3.2zM216.4 361.2h3.2v3.2h-3.2zM331.6 361.2h3.2v3.2h-3.2zM491.6 361.2h3.2v3.2h-3.2zM530 361.2h3.2v3.2h-3.2zM136.4 364.4h3.2v3.2h-3.2zM283.6 364.4h3.2v3.2h-3.2zM370 367.6h3.2v3.2h-3.2zM126.8 370.8h3.2v3.2h-3.2zM376.4 370.8h3.2v3.2h-3.2zM66 374h3.2v3.2h-3.2zM200.4 374h3.2v3.2h-3.2zM251.6 374h3.2v3.2h-3.2zM382.8 374h3.2v3.2h-3.2zM386 374h3.2v3.2h-3.2zM203.6 377.2h3.2v3.2h-3.2zM472.4 380.4h3.2v3.2h-3.2zM50 383.6h3.2v3.2h-3.2zM69.2 383.6h3.2v3.2h-3.2zM274 383.6h3.2v3.2h-3.2zM62.8 386.8h3.2v3.2h-3.2zM318.8 386.8h3.2v3.2h-3.2zM450 386.8h3.2v3.2h-3.2zM216.4 390h3.2v3.2h-3.2zM283.6 390h3.2v3.2h-3.2zM306 390h3.2v3.2h-3.2zM376.4 390h3.2v3.2h-3.2zM469.2 393.2h3.2v3.2h-3.2zM226 396.4h3.2v3.2h-3.2zM376.4 396.4h3.2v3.2h-3.2zM469.2 399.6h3.2v3.2h-3.2zM482 399.6h3.2v3.2h-3.2zM536.4 399.6h3.2v3.2h-3.2zM91.6 402.8h3.2v3.2h-3.2zM152.4 402.8h3.2v3.2h-3.2zM190.8 402.8h3.2v3.2h-3.2zM219.6 402.8h3.2v3.2h-3.2zM280.4 402.8h3.2v3.2h-3.2zM376.4 402.8h3.2v3.2h-3.2zM181.2 409.2h3.2v3.2h-3.2zM85.2 422h3.2v3.2h-3.2zM354 434.8h3.2v3.2h-3.2zM437.2 434.8h3.2v3.2h-3.2zM110.8 438h3.2v3.2h-3.2zM190.8 438h3.2v3.2h-3.2zM379.6 438h3.2v3.2h-3.2zM453.2 441.2h3.2v3.2h-3.2z"/>
<path fill="#18cc18" d="M91.6 70h3.2v3.2h-3.2zM229.2 70h3.2v3.2h-3.2zM280.4 70h3.2v3.2h-3.2zM325.2 70h3.2v3.2h-3.2zM344.4 70h3.2v3.2h-3.2zM392.4 70h3.2v3.2h-3.2zM530 70h3.2v3.2h-3.2zM82 73.2h3.2v3.2h-3.2zM331.6 73.2h3.2v3.2h-3.2zM360.4 73.2h3.2v3.2h-3.2zM539.6 73.2h3.2v3.2h-3.2zM78.8 76.4h3.2v3.2h-3.2zM203.6 76.4h3.2v3.2h-3.2zM229.2 76.4h3.2v3.2h-3.2zM286.8 76.4h3.2v3.2h-3.2zM366.8 76.4h3.2v3.2h-3.2zM376.4 76.4h3.2v3.2h-3.2zM427.6 76.4h3.2v3.2h-3.2zM469.2 76.4h3.2v3.2h-3.2zM517.2 76.4h3.2v3.2h-3.2zM82 79.6h3.2v3.2h-3.2zM88.4 79.6h3.2v3.2h-3.2zM98 79.6h3.2v3.2h-3.2zM146 79.6h3.2v3.2h-3.2zM213.2 79.6h3.2v3.2h-3.2zM254.8 79.6h3.2v3.2h-3.2zM258 79.6h3.2v3.2h-3.2zM334.8 79.6h3.2v3.2h-3.2zM386 79.6h3.2v3.2h-3.2zM389.2 79.6h3.2v3.2h-3.2zM392.4 79.6h3.2v3.2h-3.2zM478.8 79.6h3.2v3.2h-3.2zM507.6 79.6h3.2v3.2h-3.2zM62.8 82.8h3.2v3.2h-3.2zM88.4 82.8h3.2v3.2h-3.2zM107.6 82.8h3.2v3.2h-3.2zM130 82.8h3.2v3.2h-3.2zM187.6 82.8h3.2v3.2h-3.2zM261.2 82.8h3.2v3.2h-3.2zM322 82.8h3.2v3.2h-3.2zM360.4 82.8h3.2v3.2h-3.2zM462.8 82.8h3.2v3.2h-3.2zM514 82.8h3.2v3.2h-3.2zM59.6 86h3.2v3.2h-3.2zM181.2 86h3.2v3.2h-3.2zM290 86h3.2v3.2h-3.2zM344.4 86h3.2v3.2h-3.2zM357.2 86h3.2v3.2h-3.2zM386 86h3.2v3.2h-3.2zM430.8 86h3.2v3.2h-3.2zM453.2 86h3.2v3.2h-3.2zM475.6 86h3.2v3.2h-3.2zM536.4 86h3.2v3.2h-3.2zM98 89.2h3.2v3.2h-3.2zM181.2 89.2h3.2v3.2h-3.2zM277.2 89.2h3.2v3.2h-3.2zM341.2 89.2h3.2v3.2h-3.2zM421.2 89.2h3.2v3.2h-3.2zM434 89.2h3.2v3.2h-3.2zM530 89.2h3.2v3.2h-3.2zM72.4 92.4h3.2v3.2h-3.2zM88.4 92.4h3.2v3.2h-3.2zM91.6 92.4h3.2v3.2h-3.2zM98 92.4h3.2v3.2h-3.2zM107.6 92.4h3.2v3.2h-3.2zM117.2 92.4h3.2v3.2h-3.2zM130 92.4h3.2v3.2h-3.2zM136.4 92.4h3.2v3.2h-3.2zM210 92.4h3.2v3.2h-3.2zM235.6 92.4h3.2v3.2h-3.2zM261.2 92.4h3.2v3.2h-3.2zM286.8 92.4h3.2v3.2h-3.2zM296.4 92.4h3.2v3.2h-3.2zM322 92.4h3.2v3.2h-3.2zM341.2 92.4h3.2v3.2h-3.2zM354 92.4h3.2v3.2h-3.2zM373.2 92.4h3.2v3.2h-3.2zM379.6 92.4h3.2v3.2h-3.2zM491.6 92.4h3.2v3.2h-3.2zM82 95.6h3.2v3.2h-3.2zM149.2 95.6h3.2v3.2h-3.2zM341.2 95.6h3.2v3.2h-3.2zM373.2 95.6h3.2v3.2h-3.2zM472.4 95.6h3.2v3.2h-3.2zM488.4 95.6h3.2v3.2h-3.2zM226 98.8h3.2v3.2h-3.2zM341.2 98.8h3.2v3.2h-3.2zM501.2 98.8h3.2v3.2h-3.2zM69.2 102h3.2v3.2h-3.2zM130 102h3.2v3.2h-3.2zM158.8 102h3.2v3.2h-3.2zM190.8 102h3.2v3.2h-3.2zM206.8 102h3.2v3.2h-3.2zM274 102h3.2v3.2h-3.2zM190.8 105.2h3.2v3.2h-3.2zM219.6 105.2h3.2v3.2h-3.2zM293.2 105.2h3.2v3.2h-3.2zM453.2 105.2h3.2v3.2h-3.2zM245.2 108.4h3.2v3.2h-3.2zM274 108.4h3.2v3.2h-3.2zM274 111.6h3.2v3.2h-3.2zM283.6 111.6h3.2v3.2h-3.2zM290 111.6h3.2v3.2h-3.2zM216.4 114.8h3.2v3.2h-3.2zM242 114.8h3.2v3.2h-3.2zM248.4 114.8h3.2v3.2h-3.2zM293.2 114.8h3.2v3.2h-3.2zM434 114.8h3.2v3.2h-3.2zM277.2 118h3.2v3.2h-3.2zM494.8 118h3.2v3.2h-3.2zM549.2 118h3.2v3.2h-3.2zM242 121.2h3.2v3.2h-3.2zM491.6 121.2h3.2v3.2h-3.2zM101.2 124.4h3.2v3.2h-3.2zM136.4 134h3.2v3.2h-3.2zM411.6 134h3.2v3.2h-3.2zM469.2 140.4h3.2v3.2h-3.2zM280.4 146.8h3.2v3.2h-3.2zM200.4 150h3.2v3.2h-3.2zM53.2 156.4h3.2v3.2h-3.2zM299.6 162.8h3.2v3.2h-3.2zM357.2 162.8h3.2v3.2h-3.2zM69.2 166h3.2v3.2h-3.2zM430.8 166h3.2v3.2h-3.2zM155.6 172.4h3.2v3.2h-3.2zM181.2 175.6h3.2v3.2h-3.2zM312.4 178.8h3.2v3.2h-3.2zM216.4 182h3.2v3.2h-3.2zM53.2 185.2h3.2v3.2h-3.2zM190.8 185.2h3.2v3.2h-3.2zM296.4 188.4h3.2v3.2h-3.2zM498 191.6h3.2v3.2h-3.2zM107.6 198h3.2v3.2h-3.2zM62.8 204.4h3.2v3.2h-3.2zM114 207.6h3.2v3.2h-3.2zM197.2 207.6h3.2v3.2h-3.2zM520.4 207.6h3.2v3.2h-3.2zM440.4 210.8h3.2v3.2h-3.2zM280.4 214h3.2v3.2h-3.2zM302.8 214h3.2v3.2h-3.2zM437.2 214h3.2v3.2h-3.2zM514 214h3.2v3.2h-3.2zM126.8 217.2h3.2v3.2h-3.2zM206.8 217.2h3.2v3.2h-3.2zM50 220.4h3.2v3.2h-3.2zM510.8 220.4h3.2v3.2h-3.2zM280.4 223.6h3.2v3.2h-3.2zM523.6 223.6h3.2v3.2h-3.2zM546 223.6h3.2v3.2h-3.2zM219.6 230h3.2v3.2h-3.2zM424.4 230h3.2v3.2h-3.2zM197.2 239.6h3.2v3.2h-3.2zM546 239.6h3.2v3.2h-3.2zM130 249.2h3.2v3.2h-3.2zM478.8 249.2h3.2v3.2h-3.2zM130 252.4h3.2v3.2h-3.2zM242 252.4h3.2v3.2h-3.2zM478.8 252.4h3.2v3.2h-3.2zM549.2 252.4h3.2v3.2h-3.2zM53.2 255.6h3.2v3.2h-3.2zM328.4 255.6h3.2v3.2h-3.2zM408.4 255.6h3.2v3.2h-3.2zM437.2 255.6h3.2v3.2h-3.2zM88.4 258.8h3.2v3.2h-3.2zM290 258.8h3.2v3.2h-3.2zM389.2 258.8h3.2v3.2h-3.2zM50 262h3.2v3.2h-3.2zM152.4 262h3.2v3.2h-3.2zM216.4 262h3.2v3.2h-3.2zM258 262h3.2v3.2h-3.2zM546 262h3.2v3.2h-3.2zM101.2 265.2h3.2v3.2h-3.2zM168.4 265.2h3.2v3.2h-3.2zM338 265.2h3.2v3.2h-3.2zM158.8 268.4h3.2v3.2h-3.2zM325.2 268.4h3.2v3.2h-3.2zM110.8 274.8h3.2v3.2h-3.2zM296.4 274.8h3.2v3.2h-3.2zM510.8 274.8h3.2v3.2h-3.2zM482 284.4h3.2v3.2h-3.2zM181.2 287.6h3.2v3.2h-3.2zM542.8 287.6h3.2v3.2h-3.2zM98 294h3.2v3.2h-3.2zM325.2 294h3.2v3.2h-3.2zM510.8 297.2h3.2v3.2h-3.2zM462.8 303.6h3.2v3.2h-3.2zM443.6 306.8h3.2v3.2h-3.2zM539.6 306.8h3.2v3.2h-3.2zM178 310h3.2v3.2h-3.2zM398.8 310h3.2v3.2h-3.2zM546 310h3.2v3.2h-3.2zM251.6 313.2h3.2v3.2h-3.2zM546 313.2h3.2v3.2h-3.2zM245.2 316.4h3.2v3.2h-3.2zM270.8 322.8h3.2v3.2h-3.2zM408.4 322.8h3.2v3.2h-3.2zM222.8 326h3.2v3.2h-3.2zM488.4 329.2h3.2v3.2h-3.2zM232.4 332.4h3.2v3.2h-3.2zM475.6 335.6h3.2v3.2h-3.2zM270.8 338.8h3.2v3.2h-3.2zM94.8 342h3.2v3.2h-3.2zM75.6 345.2h3.2v3.2h-3.2zM130 345.2h3.2v3.2h-3.2zM200.4 345.2h3.2v3.2h-3.2zM338 345.2h3.2v3.2h-3.2zM50 348.4h3.2v3.2h-3.2zM104.4 348.4h3.2v3.2h-3.2zM536.4 351.6h3.2v3.2h-3.2zM546 351.6h3.2v3.2h-3.2zM120.4 354.8h3.2v3.2h-3.2zM254.8 354.8h3.2v3.2h-3.2zM325.2 354.8h3.2v3.2h-3.2zM226 358h3.2v3.2h-3.2zM466 358h3.2v3.2h-3.2zM424.4 361.2h3.2v3.2h-3.2zM50 364.4h3.2v3.2h-3.2zM366.8 364.4h3.2v3.2h-3.2zM344.4 367.6h3.2v3.2h-3.2zM462.8 367.6h3.2v3.2h-3.2zM229.2 370.8h3.2v3.2h-3.2zM379.6 370.8h3.2v3.2h-3.2zM187.6 374h3.2v3.2h-3.2zM290 374h3.2v3.2h-3.2zM440.4 374h3.2v3.2h-3.2zM152.4 377.2h3.2v3.2h-3.2zM507.6 377.2h3.2v3.2h-3.2zM104.4 380.4h3.2v3.2h-3.2zM158.8 380.4h3.2v3.2h-3.2zM187.6 390h3.2v3.2h-3.2zM206.8 393.2h3.2v3.2h-3.2zM254.8 393.2h3.2v3.2h-3.2zM69.2 396.4h3.2v3.2h-3.2zM549.2 396.4h3.2v3.2h-3.2zM59.6 402.8h3.2v3.2h-3.2zM88.4 402.8h3.2v3.2h-3.2zM226 402.8h3.2v3.2h-3.2zM549.2 415.6h3.2v3.2h-3.2zM53.2 418.8h3.2v3.2h-3.2z"/>
<path fill="#30f830" d="M66 70h3.2v3.2h-3.2zM158.8 70h3.2v3.2h-3.2zM168.4 70h3.2v3.2h-3.2zM238.8 70h3.2v3.2h-3.2zM264.4 70h3.2v3.2h-3.2zM328.4 70h3.2v3.2h-3.2zM418 70h3.2v3.2h-3.2zM437.2 70h3.2v3.2h-3.2zM482 70h3.2v3.2h-3.2zM488.4 70h3.2v3.2h-3.2zM510.8 70h3.2v3.2h-3.2zM542.8 70h3.2v3.2h-3.2zM56.4 73.2h3.2v3.2h-3.2zM69.2 73.2h3.2v3.2h-3.2zM120.4 73.2h3.2v3.2h-3.2zM136.4 73.2h3.2v3.2h-3.2zM251.6 73.2h3.2v3.2h-3.2zM254.8 73.2h3.2v3.2h-3.2zM267.6 73.2h3.2v3.2h-3.2zM274 73.2h3.2v3.2h-3.2zM312.4 73.2h3.2v3.2h-3.2zM357.2 73.2h3.2v3.2h-3.2zM430.8 73.2h3.2v3.2h-3.2zM456.4 73.2h3.2v3.2h-3.2zM510.8 73.2h3.2v3.2h-3.2zM520.4 73.2h3.2v3.2h-3.2zM75.6 76.4h3.2v3.2h-3.2zM85.2 76.4h3.2v3.2h-3.2zM136.4 76.4h3.2v3.2h-3.2zM142.8 76.4h3.2v3.2h-3.2zM283.6 76.4h3.2v3.2h-3.2zM299.6 76.4h3.2v3.2h-3.2zM325.2 76.4h3.2v3.2h-3.2zM328.4 76.4h3.2v3.2h-3.2zM402 76.4h3.2v3.2h-3.2zM418 76.4h3.2v3.2h-3.2zM437.2 76.4h3.2v3.2h-3.2zM501.2 76.4h3.2v3.2h-3.2zM133.2 79.6h3.2v3.2h-3.2zM139.6 79.6h3.2v3.2h-3.2zM238.8 79.6h3.2v3.2h-3.2zM382.8 79.6h3.2v3.2h-3.2zM402 79.6h3.2v3.2h-3.2zM443.6 79.6h3.2v3.2h-3.2zM114 82.8h3.2v3.2h-3.2zM136.4 82.8h3.2v3.2h-3.2zM475.6 82.8h3.2v3.2h-3.2zM504.4 82.8h3.2v3.2h-3.2zM155.6 86h3.2v3.2h-3.2zM226 86h3.2v3.2h-3.2zM238.8 86h3.2v3.2h-3.2zM283.6 86h3.2v3.2h-3.2zM392.4 86h3.2v3.2h-3.2zM405.2 86h3.2v3.2h-3.2zM450 86h3.2v3.2h-3.2zM472.4 86h3.2v3.2h-3.2zM56.4 89.2h3.2v3.2h-3.2zM107.6 89.2h3.2v3.2h-3.2zM194 89.2h3.2v3.2h-3.2zM203.6 89.2h3.2v3.2h-3.2zM226 89.2h3.2v3.2h-3.2zM270.8 89.2h3.2v3.2h-3.2zM334.8 89.2h3.2v3.2h-3.2zM373.2 89.2h3.2v3.2h-3.2zM379.6 89.2h3.2v3.2h-3.2zM382.8 89.2h3.2v3.2h-3.2zM386 89.2h3.2v3.2h-3.2zM475.6 89.2h3.2v3.2h-3.2zM514 89.2h3.2v3.2h-3.2zM62.8 92.4h3.2v3.2h-3.2zM78.8 92.4h3.2v3.2h-3.2zM94.8 92.4h3.2v3.2h-3.2zM158.8 92.4h3.2v3.2h-3.2zM187.6 92.4h3.2v3.2h-3.2zM264.4 92.4h3.2v3.2h-3.2zM312.4 92.4h3.2v3.2h-3.2zM370 92.4h3.2v3.2h-3.2zM466 92.4h3.2v3.2h-3.2zM514 92.4h3.2v3.2h-3.2zM517.2 92.4h3.2v3.2h-3.2zM530 92.4h3.2v3.2h-3.2zM194 95.6h3.2v3.2h-3.2zM197.2 95.6h3.2v3.2h-3.2zM267.6 95.6h3.2v3.2h-3.2zM389.2 95.6h3.2v3.2h-3.2zM408.4 95.6h3.2v3.2h-3.2zM427.6 95.6h3.2v3.2h-3.2zM450 95.6h3.2v3.2h-3.2zM498 95.6h3.2v3.2h-3.2zM504.4 95.6h3.2v3.2h-3.2zM197.2 98.8h3.2v3.2h-3.2zM229.2 98.8h3.2v3.2h-3.2zM235.6 98.8h3.2v3.2h-3.2zM245.2 98.8h3.2v3.2h-3.2zM248.4 98.8h3.2v3.2h-3.2zM216.4 102h3.2v3.2h-3.2zM242 105.2h3.2v3.2h-3.2zM290 105.2h3.2v3.2h-3.2zM216.4 108.4h3.2v3.2h-3.2zM248.4 108.4h3.2v3.2h-3.2zM213.2 111.6h3.2v3.2h-3.2zM248.4 111.6h3.2v3.2h-3.2zM261.2 111.6h3.2v3.2h-3.2zM280.4 111.6h3.2v3.2h-3.2zM197.2 114.8h3.2v3.2h-3.2zM264.4 114.8h3.2v3.2h-3.2zM270.8 114.8h3.2v3.2h-3.2zM280.4 114.8h3.2v3.2h-3.2zM261.2 118h3.2v3.2h-3.2zM296.4 118h3.2v3.2h-3.2zM197.2 121.2h3.2v3.2h-3.2zM213.2 121.2h3.2v3.2h-3.2zM235.6 121.2h3.2v3.2h-3.2zM245.2 121.2h3.2v3.2h-3.2zM251.6 121.2h3.2v3.2h-3.2zM277.2 121.2h3.2v3.2h-3.2zM283.6 121.2h3.2v3.2h-3.2zM286.8 121.2h3.2v3.2h-3.2zM546 172.4h3.2v3.2h-3.2zM549.2 380.4h3.2v3.2h-3.2zM50 396.4h3.2v3.2h-3.2z"/>
<rect x="50" y="70" width="2.2" height="374" fill="#7a7a7a"/>
<rect x="551.5" y="70" width="2" height="374" fill="#555"/>
</g>
<path d="M187 119 L230 117 L300 114 L320 111 L345 110 M62 146 L57 178 L58 240 L59 300 L57 409 L63 412 L90 416 L110 424 L137 427 L150 414 L170 405 L195 402 L260 402 L345 403 L393 403 L432 400 L466 392 L484 391 L500 398.6 L534.4 403.4 L548.8 360.8 L539.9 345.7 L541.3 300 L545.4 279.6" fill="none" stroke="#fff" stroke-width="3.2" stroke-dasharray="11 5"/>
<rect x="57" y="80" width="130" height="66" fill="#fff"/>
<text x="122" y="127.5" font-family="'Liberation Serif', serif" font-size="47" text-anchor="middle">C</text>
<rect x="292" y="75" width="257" height="204" fill="#fff"/>
<polyline fill="none" stroke="#555555" stroke-width="1.1" stroke-linejoin="round" points="333.5,207.5 333.9,203.9 334.4,206.9 334.8,206.1 335.2,206.5 335.6,206.1 336.1,206.6 336.5,206.4 336.9,204 337.3,203.4 337.8,206.8 338.2,206.1 338.6,207.6 339,205.5 339.5,205.1 339.9,204.1 340.3,202.8 340.7,205.8 341.2,207.4 341.6,205.1 342,206.4 342.4,206.4 342.9,203.1 343.3,205.7 343.7,203.8 344.2,205.5 344.6,206.1 345,204.9 345.4,205.2 345.9,206.7 346.3,208 346.7,203.9 347.1,204.7 347.6,204.2 348,203.7 348.4,205.8 348.8,204.3 349.3,206.7 349.7,206.7 350.1,204.9 350.5,203.7 351,205.2 351.4,205 351.8,204.1 352.2,206.7 352.7,204.8 353.1,203.5 353.5,205.8 353.9,202.9 354.4,206.4 354.8,204.6 355.2,206.8 355.7,205 356.1,202.8 356.5,203.9 356.9,205.2 357.4,204.1 357.8,204.4 358.2,205.4 358.6,202.7 359.1,204 359.5,203.1 359.9,204.6 360.3,205.5 360.8,204.3 361.2,203.1 361.6,203.7 362,203.7 362.5,204.9 362.9,205 363.3,204.8 363.7,205.2 364.2,203 364.6,202.7 365,202.1 365.5,205.2 365.9,204.3 366.3,202.7 366.7,204.9 367.2,203.4 367.6,203.2 368,202.6 368.4,204 368.9,204.2 369.3,204 369.7,203.3 370.1,203.3 370.6,203.3 371,202.9 371.4,199.8 371.8,202.6 372.3,202.5 372.7,203.5 373.1,202.5 373.5,202.6 374,202.3 374.4,201.6 374.8,200.5 375.2,201.7 375.7,202.6 376.1,202.6 376.5,203.8 377,204.2 377.4,202 377.8,202.2 378.2,201.2 378.7,201.7 379.1,200.2 379.5,200.7 379.9,201.2 380.4,201.8 380.8,199.9 381.2,199.9 381.6,201.6 382.1,199.9 382.5,200.4 382.9,201 383.3,199.6 383.8,198.8 384.2,200.7 384.6,198.2 385,198.8 385.5,196.9 385.9,200 386.3,196.7 386.8,199.1 387.2,196.1 387.6,195.8 388,193.9 388.5,193.7 388.9,194.8 389.3,195.4 389.7,192.8 390.2,193 390.6,193.6 391,191.8 391.4,190.4 391.9,190.7 392.3,189.6 392.7,188.6 393.1,189.3 393.6,185 394,188.9 394.4,186.3 394.8,183.7 395.3,185.1 395.7,183.8 396.1,184.5 396.5,183.5 397,181.6 397.4,182 397.8,182.7 398.3,182.4 398.7,180.8 399.1,180.1 399.5,179 400,180.6 400.4,181.1 400.8,180.7 401.2,178.2 401.7,180.8 402.1,181 402.5,182.5 402.9,182.8 403.4,183.7 403.8,184.2 404.2,186.3 404.6,184.9 405.1,187.1 405.5,186.6 405.9,189.2 406.3,189.6 406.8,190.1 407.2,191.7 407.6,192 408.1,193.5 408.5,190.8 408.9,193.2 409.3,192.8 409.8,196.1 410.2,195.4 410.6,194.9 411,197 411.5,196.1 411.9,196.8 412.3,196.7 412.7,198.9 413.2,197.9 413.6,199.8 414,197.5 414.4,198.9 414.9,197.9 415.3,200.5 415.7,199.4 416.1,198.5 416.6,201.1 417,201.5 417.4,200.5 417.8,199.9 418.3,201.3 418.7,203.2 419.1,200.1 419.6,199.3 420,201.5 420.4,200 420.8,199.7 421.3,202.3 421.7,202.7 422.1,203.3 422.5,202.9 423,203.3 423.4,202.7 423.8,204.6 424.2,202.4 424.7,202.1 425.1,205 425.5,203.9 425.9,203.1 426.4,203.4 426.8,202.6 427.2,202.3 427.6,201.2 428.1,201.3 428.5,204.2 428.9,203.1 429.4,202.8 429.8,203.1 430.2,204.6 430.6,205.7 431.1,203.9 431.5,202.8 431.9,203.3 432.3,203.7 432.8,205 433.2,204.3 433.6,205.2 434,202.6 434.5,204.7 434.9,206.6 435.3,204.9 435.7,204 436.2,204.9 436.6,205.7 437,204.9 437.4,205.9 437.9,202.6 438.3,205 438.7,205 439.1,205.2 439.6,204.7 440,204.6 440.4,205.2 440.9,203.2 441.3,204.1 441.7,204.5 442.1,205.3 442.6,204.8 443,204 443.4,206 443.8,205.3 444.3,205.1 444.7,205.5 445.1,205.2 445.5,206.6 446,204.8 446.4,203.8 446.8,205.6 447.2,205.7 447.7,206.1 448.1,205.9 448.5,205 448.9,207.1 449.4,204.4 449.8,204.3 450.2,206.1 450.7,204.3 451.1,206.7 451.5,204.1 451.9,205.5 452.4,205.5 452.8,204.7 453.2,203 453.6,205.6 454.1,205.6 454.5,205.3 454.9,204.7 455.3,203.7 455.8,204.5 456.2,203.1 456.6,207.5 457,204.9 457.5,206.9 457.9,205.2 458.3,207.3 458.7,204.6 459.2,204.5 459.6,204.4 460,205.5 460.4,204.3 460.9,203.6 461.3,207.3 461.7,207.1 462.2,204.6 462.6,206.6 463,202.5 463.4,205.8 463.9,208 464.3,208 464.7,206.5 465.1,207 465.6,205.9 466,207.5 466.4,205.1 466.8,202.6 467.3,207 467.7,205.7 468.1,205.6 468.5,206.4 469,206.5 469.4,203.9 469.8,205.8 470.2,204.7 470.7,205.3 471.1,207.1 471.5,205.5 472,204.9 472.4,205.8 472.8,205.5 473.2,205.7 473.7,206.7 474.1,205.7 474.5,205.1 474.9,205.4 475.4,204.4 475.8,207.5 476.2,206.5 476.6,203.3 477.1,205.5 477.5,207.3 477.9,203.6 478.3,205.2 478.8,208 479.2,206.2 479.6,206.7 480,204.5 480.5,207.7 480.9,206.4 481.3,207.5 481.7,204.5 482.2,205 482.6,204.6 483,206.2 483.5,204.5 483.9,205.8 484.3,207.7 484.7,206.8 485.2,205 485.6,206.4 486,204.5 486.4,206.8 486.9,204.3 487.3,206.7 487.7,207 488.1,204.1 488.6,207 489,207.5 489.4,207.8 489.8,207.6 490.3,206.7 490.7,206.7 491.1,205 491.5,208.3 492,206 492.4,207.1 492.8,206.7 493.3,205.9 493.7,204.5 494.1,206.7 494.5,206.1 495,204.7 495.4,207.9 495.8,206.4 496.2,205.3 496.7,205.2 497.1,207.6 497.5,205.4 497.9,205.4 498.4,203.4 498.8,205.6 499.2,205.1 499.6,207 500.1,207.5 500.5,207.2 500.9,203.9 501.3,206.2 501.8,207.6 502.2,205.5 502.6,205.5 503,205.6 503.5,203.9 503.9,205.2 504.3,205.4 504.8,205.9 505.2,205.7 505.6,205.6 506,205 506.5,207.9 506.9,207.1 507.3,206.4 507.7,205.7 508.2,207.2 508.6,204.2 509,206.2 509.4,206.1 509.9,204.9 510.3,202.8 510.7,203 511.1,206.5 511.6,203.4 512,205.7 512.4,204.5 512.8,204.1 513.3,205 513.7,206.2 514.1,205.4 514.6,206 515,202.9 515.4,203.4 515.8,205.6 516.3,204 516.7,203.6 517.1,202 517.5,203.2 518,203.1 518.4,204.3 518.8,203.5 519.2,201.3 519.7,201 520.1,204.8 520.5,201.6 520.9,201.4 521.4,201.6 521.8,202.4 522.2,203.5 522.6,203 523.1,202.2 523.5,202.4 523.9,202 524.3,202.7 524.8,202.1 525.2,203.1 525.6,201.6 526.1,202.5 526.5,203.3 526.9,201.8 527.3,202.4 527.8,203.7 528.2,202.8 528.6,202.7 529,202.9 529.5,203.3 529.9,199.9 530.3,203.7 530.7,203.1 531.2,205.7 531.6,201.5 532,205.1 532.4,203.4 532.9,203.2 533.3,203.9 533.7,203.8 534.1,202.3 534.6,204.4 535,204.7 535.4,202.7 535.9,205.1 536.3,204.4 536.7,205.1 537.1,205.1 537.6,204.6 538,206.8 538.4,204.6 538.8,202.8 539.3,205.8 539.7,202.7 540.1,205 540.5,204.6 541,202.2 541.4,202.9 541.8,207.8 542.2,204.2 542.7,202.3 543.1,203.9 543.5,204.7 543.9,206.4 544.4,203.2 544.8,205.3 545.2,205.3 545.6,205.1 546.1,206.8 546.5,205.2"/>
<rect x="333.5" y="76.5" width="213" height="147.5" fill="none" stroke="#000" stroke-width="1.3"/>
<path d="M351.2 224v-3.5M369 224v-2M386.8 224v-3.5M404.5 224v-2M422.2 224v-3.5M440 224v-2M457.8 224v-3.5M475.5 224v-2M493.2 224v-3.5M511 224v-2M528.8 224v-3.5" stroke="#000" stroke-width="1.1" fill="none"/>
<g font-family="'Liberation Serif', serif" font-weight="bold" font-size="19.5" text-anchor="middle" letter-spacing="0.3"><text x="351.2" y="244.5">30</text><text x="386.8" y="244.5">40</text><text x="422.2" y="244.5">50</text><text x="457.8" y="244.5">60</text><text x="493.2" y="244.5">70</text><text x="528.8" y="244.5">80</text></g>
<text x="440" y="267" font-family="'Liberation Serif', serif" font-weight="bold" font-size="17.5" text-anchor="middle">2<tspan font-style="italic" dx="2">θ</tspan>(degree)</text>
<text transform="translate(321.5 149.2) rotate(-90)" font-family="'Liberation Serif', serif" font-weight="bold" font-size="18" text-anchor="middle">Intensity (a.u.)</text>
<g clip-path="url(#cTR)">
<rect x="1412" y="70" width="504" height="374" fill="#000"/>
<path fill="#063a06" d="M1415.2 70h3.2v3.2h-3.2zM1632.8 70h3.2v3.2h-3.2zM1735.2 70h3.2v3.2h-3.2zM1431.2 73.2h3.2v3.2h-3.2zM1488.8 73.2h3.2v3.2h-3.2zM1492 73.2h3.2v3.2h-3.2zM1620 73.2h3.2v3.2h-3.2zM1671.2 73.2h3.2v3.2h-3.2zM1428 76.4h3.2v3.2h-3.2zM1616.8 76.4h3.2v3.2h-3.2zM1626.4 76.4h3.2v3.2h-3.2zM1773.6 76.4h3.2v3.2h-3.2zM1684 79.6h3.2v3.2h-3.2zM1802.4 79.6h3.2v3.2h-3.2zM1447.2 82.8h3.2v3.2h-3.2zM1533.6 82.8h3.2v3.2h-3.2zM1767.2 82.8h3.2v3.2h-3.2zM1895.2 82.8h3.2v3.2h-3.2zM1437.6 86h3.2v3.2h-3.2zM1581.6 86h3.2v3.2h-3.2zM1674.4 86h3.2v3.2h-3.2zM1725.6 86h3.2v3.2h-3.2zM1780 86h3.2v3.2h-3.2zM1815.2 86h3.2v3.2h-3.2zM1632.8 89.2h3.2v3.2h-3.2zM1655.2 89.2h3.2v3.2h-3.2zM1674.4 89.2h3.2v3.2h-3.2zM1677.6 89.2h3.2v3.2h-3.2zM1712.8 89.2h3.2v3.2h-3.2zM1821.6 89.2h3.2v3.2h-3.2zM1869.6 89.2h3.2v3.2h-3.2zM1421.6 92.4h3.2v3.2h-3.2zM1460 92.4h3.2v3.2h-3.2zM1466.4 92.4h3.2v3.2h-3.2zM1540 92.4h3.2v3.2h-3.2zM1546.4 92.4h3.2v3.2h-3.2zM1898.4 92.4h3.2v3.2h-3.2zM1600.8 95.6h3.2v3.2h-3.2zM1613.6 95.6h3.2v3.2h-3.2zM1709.6 95.6h3.2v3.2h-3.2zM1722.4 95.6h3.2v3.2h-3.2zM1818.4 95.6h3.2v3.2h-3.2zM1847.2 95.6h3.2v3.2h-3.2zM1860 95.6h3.2v3.2h-3.2zM1415.2 98.8h3.2v3.2h-3.2zM1466.4 98.8h3.2v3.2h-3.2zM1680.8 98.8h3.2v3.2h-3.2zM1821.6 98.8h3.2v3.2h-3.2zM1888.8 98.8h3.2v3.2h-3.2zM1613.6 102h3.2v3.2h-3.2zM1479.2 105.2h3.2v3.2h-3.2zM1504.8 105.2h3.2v3.2h-3.2zM1610.4 105.2h3.2v3.2h-3.2zM1629.6 105.2h3.2v3.2h-3.2zM1722.4 105.2h3.2v3.2h-3.2zM1543.2 108.4h3.2v3.2h-3.2zM1559.2 108.4h3.2v3.2h-3.2zM1581.6 108.4h3.2v3.2h-3.2zM1632.8 108.4h3.2v3.2h-3.2zM1754.4 108.4h3.2v3.2h-3.2zM1786.4 108.4h3.2v3.2h-3.2zM1642.4 111.6h3.2v3.2h-3.2zM1712.8 111.6h3.2v3.2h-3.2zM1725.6 111.6h3.2v3.2h-3.2zM1796 111.6h3.2v3.2h-3.2zM1450.4 114.8h3.2v3.2h-3.2zM1492 114.8h3.2v3.2h-3.2zM1600.8 114.8h3.2v3.2h-3.2zM1620 114.8h3.2v3.2h-3.2zM1658.4 114.8h3.2v3.2h-3.2zM1796 114.8h3.2v3.2h-3.2zM1844 114.8h3.2v3.2h-3.2zM1472.8 118h3.2v3.2h-3.2zM1485.6 118h3.2v3.2h-3.2zM1508 118h3.2v3.2h-3.2zM1837.6 118h3.2v3.2h-3.2zM1517.6 121.2h3.2v3.2h-3.2zM1588 121.2h3.2v3.2h-3.2zM1524 124.4h3.2v3.2h-3.2zM1600.8 124.4h3.2v3.2h-3.2zM1815.2 124.4h3.2v3.2h-3.2zM1431.2 127.6h3.2v3.2h-3.2zM1495.2 127.6h3.2v3.2h-3.2zM1536.8 130.8h3.2v3.2h-3.2zM1568.8 130.8h3.2v3.2h-3.2zM1607.2 130.8h3.2v3.2h-3.2zM1789.6 130.8h3.2v3.2h-3.2zM1888.8 130.8h3.2v3.2h-3.2zM1431.2 134h3.2v3.2h-3.2zM1575.2 134h3.2v3.2h-3.2zM1690.4 134h3.2v3.2h-3.2zM1693.6 134h3.2v3.2h-3.2zM1706.4 134h3.2v3.2h-3.2zM1789.6 134h3.2v3.2h-3.2zM1431.2 137.2h3.2v3.2h-3.2zM1504.8 137.2h3.2v3.2h-3.2zM1687.2 137.2h3.2v3.2h-3.2zM1693.6 137.2h3.2v3.2h-3.2zM1828 137.2h3.2v3.2h-3.2zM1898.4 137.2h3.2v3.2h-3.2zM1428 140.4h3.2v3.2h-3.2zM1504.8 140.4h3.2v3.2h-3.2zM1636 140.4h3.2v3.2h-3.2zM1700 140.4h3.2v3.2h-3.2zM1725.6 140.4h3.2v3.2h-3.2zM1735.2 140.4h3.2v3.2h-3.2zM1434.4 143.6h3.2v3.2h-3.2zM1453.6 143.6h3.2v3.2h-3.2zM1597.6 143.6h3.2v3.2h-3.2zM1719.2 143.6h3.2v3.2h-3.2zM1780 143.6h3.2v3.2h-3.2zM1792.8 143.6h3.2v3.2h-3.2zM1882.4 143.6h3.2v3.2h-3.2zM1911.2 143.6h3.2v3.2h-3.2zM1418.4 146.8h3.2v3.2h-3.2zM1578.4 146.8h3.2v3.2h-3.2zM1914.4 146.8h3.2v3.2h-3.2zM1485.6 150h3.2v3.2h-3.2zM1834.4 150h3.2v3.2h-3.2zM1524 153.2h3.2v3.2h-3.2zM1776.8 153.2h3.2v3.2h-3.2zM1492 156.4h3.2v3.2h-3.2zM1511.2 156.4h3.2v3.2h-3.2zM1556 156.4h3.2v3.2h-3.2zM1565.6 156.4h3.2v3.2h-3.2zM1578.4 156.4h3.2v3.2h-3.2zM1613.6 156.4h3.2v3.2h-3.2zM1620 156.4h3.2v3.2h-3.2zM1735.2 156.4h3.2v3.2h-3.2zM1760.8 156.4h3.2v3.2h-3.2zM1792.8 156.4h3.2v3.2h-3.2zM1434.4 159.6h3.2v3.2h-3.2zM1488.8 159.6h3.2v3.2h-3.2zM1600.8 159.6h3.2v3.2h-3.2zM1719.2 159.6h3.2v3.2h-3.2zM1722.4 159.6h3.2v3.2h-3.2zM1770.4 159.6h3.2v3.2h-3.2zM1802.4 159.6h3.2v3.2h-3.2zM1844 159.6h3.2v3.2h-3.2zM1898.4 159.6h3.2v3.2h-3.2zM1485.6 162.8h3.2v3.2h-3.2zM1488.8 162.8h3.2v3.2h-3.2zM1492 162.8h3.2v3.2h-3.2zM1620 162.8h3.2v3.2h-3.2zM1690.4 162.8h3.2v3.2h-3.2zM1700 162.8h3.2v3.2h-3.2zM1792.8 162.8h3.2v3.2h-3.2zM1796 162.8h3.2v3.2h-3.2zM1844 162.8h3.2v3.2h-3.2zM1892 162.8h3.2v3.2h-3.2zM1421.6 166h3.2v3.2h-3.2zM1504.8 166h3.2v3.2h-3.2zM1514.4 166h3.2v3.2h-3.2zM1690.4 166h3.2v3.2h-3.2zM1770.4 166h3.2v3.2h-3.2zM1840.8 166h3.2v3.2h-3.2zM1424.8 169.2h3.2v3.2h-3.2zM1472.8 169.2h3.2v3.2h-3.2zM1604 169.2h3.2v3.2h-3.2zM1626.4 169.2h3.2v3.2h-3.2zM1636 169.2h3.2v3.2h-3.2zM1415.2 172.4h3.2v3.2h-3.2zM1517.6 172.4h3.2v3.2h-3.2zM1703.2 172.4h3.2v3.2h-3.2zM1773.6 172.4h3.2v3.2h-3.2zM1808.8 172.4h3.2v3.2h-3.2zM1856.8 172.4h3.2v3.2h-3.2zM1431.2 175.6h3.2v3.2h-3.2zM1450.4 175.6h3.2v3.2h-3.2zM1536.8 175.6h3.2v3.2h-3.2zM1735.2 175.6h3.2v3.2h-3.2zM1898.4 175.6h3.2v3.2h-3.2zM1869.6 178.8h3.2v3.2h-3.2zM1424.8 182h3.2v3.2h-3.2zM1636 182h3.2v3.2h-3.2zM1687.2 182h3.2v3.2h-3.2zM1559.2 185.2h3.2v3.2h-3.2zM1485.6 188.4h3.2v3.2h-3.2zM1690.4 188.4h3.2v3.2h-3.2zM1744.8 188.4h3.2v3.2h-3.2zM1789.6 188.4h3.2v3.2h-3.2zM1808.8 188.4h3.2v3.2h-3.2zM1639.2 191.6h3.2v3.2h-3.2zM1901.6 191.6h3.2v3.2h-3.2zM1412 194.8h3.2v3.2h-3.2zM1460 194.8h3.2v3.2h-3.2zM1498.4 194.8h3.2v3.2h-3.2zM1568.8 194.8h3.2v3.2h-3.2zM1597.6 194.8h3.2v3.2h-3.2zM1661.6 194.8h3.2v3.2h-3.2zM1664.8 194.8h3.2v3.2h-3.2zM1773.6 194.8h3.2v3.2h-3.2zM1780 194.8h3.2v3.2h-3.2zM1815.2 194.8h3.2v3.2h-3.2zM1677.6 198h3.2v3.2h-3.2zM1735.2 198h3.2v3.2h-3.2zM1834.4 198h3.2v3.2h-3.2zM1888.8 198h3.2v3.2h-3.2zM1501.6 201.2h3.2v3.2h-3.2zM1508 201.2h3.2v3.2h-3.2zM1642.4 201.2h3.2v3.2h-3.2zM1770.4 201.2h3.2v3.2h-3.2zM1856.8 201.2h3.2v3.2h-3.2zM1562.4 204.4h3.2v3.2h-3.2zM1652 204.4h3.2v3.2h-3.2zM1716 204.4h3.2v3.2h-3.2zM1914.4 204.4h3.2v3.2h-3.2zM1412 207.6h3.2v3.2h-3.2zM1648.8 207.6h3.2v3.2h-3.2zM1674.4 207.6h3.2v3.2h-3.2zM1799.2 207.6h3.2v3.2h-3.2zM1882.4 207.6h3.2v3.2h-3.2zM1888.8 207.6h3.2v3.2h-3.2zM1469.6 210.8h3.2v3.2h-3.2zM1536.8 210.8h3.2v3.2h-3.2zM1578.4 210.8h3.2v3.2h-3.2zM1620 210.8h3.2v3.2h-3.2zM1712.8 210.8h3.2v3.2h-3.2zM1764 210.8h3.2v3.2h-3.2zM1808.8 210.8h3.2v3.2h-3.2zM1485.6 214h3.2v3.2h-3.2zM1668 214h3.2v3.2h-3.2zM1674.4 214h3.2v3.2h-3.2zM1488.8 217.2h3.2v3.2h-3.2zM1527.2 217.2h3.2v3.2h-3.2zM1626.4 217.2h3.2v3.2h-3.2zM1738.4 217.2h3.2v3.2h-3.2zM1898.4 217.2h3.2v3.2h-3.2zM1632.8 220.4h3.2v3.2h-3.2zM1748 220.4h3.2v3.2h-3.2zM1437.6 223.6h3.2v3.2h-3.2zM1469.6 223.6h3.2v3.2h-3.2zM1520.8 223.6h3.2v3.2h-3.2zM1565.6 223.6h3.2v3.2h-3.2zM1764 223.6h3.2v3.2h-3.2zM1783.2 223.6h3.2v3.2h-3.2zM1828 223.6h3.2v3.2h-3.2zM1424.8 226.8h3.2v3.2h-3.2zM1437.6 226.8h3.2v3.2h-3.2zM1501.6 226.8h3.2v3.2h-3.2zM1895.2 226.8h3.2v3.2h-3.2zM1914.4 226.8h3.2v3.2h-3.2zM1540 230h3.2v3.2h-3.2zM1716 230h3.2v3.2h-3.2zM1738.4 230h3.2v3.2h-3.2zM1748 230h3.2v3.2h-3.2zM1805.6 230h3.2v3.2h-3.2zM1517.6 233.2h3.2v3.2h-3.2zM1684 233.2h3.2v3.2h-3.2zM1716 233.2h3.2v3.2h-3.2zM1728.8 233.2h3.2v3.2h-3.2zM1738.4 233.2h3.2v3.2h-3.2zM1780 233.2h3.2v3.2h-3.2zM1796 233.2h3.2v3.2h-3.2zM1799.2 233.2h3.2v3.2h-3.2zM1898.4 233.2h3.2v3.2h-3.2zM1431.2 236.4h3.2v3.2h-3.2zM1562.4 236.4h3.2v3.2h-3.2zM1735.2 236.4h3.2v3.2h-3.2zM1821.6 236.4h3.2v3.2h-3.2zM1876 236.4h3.2v3.2h-3.2zM1418.4 239.6h3.2v3.2h-3.2zM1652 239.6h3.2v3.2h-3.2zM1722.4 239.6h3.2v3.2h-3.2zM1732 239.6h3.2v3.2h-3.2zM1860 239.6h3.2v3.2h-3.2zM1876 242.8h3.2v3.2h-3.2zM1879.2 242.8h3.2v3.2h-3.2zM1418.4 246h3.2v3.2h-3.2zM1492 246h3.2v3.2h-3.2zM1511.2 246h3.2v3.2h-3.2zM1581.6 246h3.2v3.2h-3.2zM1677.6 246h3.2v3.2h-3.2zM1802.4 246h3.2v3.2h-3.2zM1504.8 249.2h3.2v3.2h-3.2zM1517.6 249.2h3.2v3.2h-3.2zM1533.6 249.2h3.2v3.2h-3.2zM1687.2 249.2h3.2v3.2h-3.2zM1696.8 249.2h3.2v3.2h-3.2zM1732 249.2h3.2v3.2h-3.2zM1735.2 249.2h3.2v3.2h-3.2zM1424.8 252.4h3.2v3.2h-3.2zM1664.8 252.4h3.2v3.2h-3.2zM1674.4 252.4h3.2v3.2h-3.2zM1748 252.4h3.2v3.2h-3.2zM1418.4 255.6h3.2v3.2h-3.2zM1444 255.6h3.2v3.2h-3.2zM1565.6 255.6h3.2v3.2h-3.2zM1629.6 255.6h3.2v3.2h-3.2zM1664.8 255.6h3.2v3.2h-3.2zM1856.8 255.6h3.2v3.2h-3.2zM1751.2 258.8h3.2v3.2h-3.2zM1815.2 258.8h3.2v3.2h-3.2zM1501.6 262h3.2v3.2h-3.2zM1639.2 262h3.2v3.2h-3.2zM1725.6 262h3.2v3.2h-3.2zM1760.8 262h3.2v3.2h-3.2zM1773.6 262h3.2v3.2h-3.2zM1418.4 265.2h3.2v3.2h-3.2zM1434.4 265.2h3.2v3.2h-3.2zM1527.2 265.2h3.2v3.2h-3.2zM1568.8 265.2h3.2v3.2h-3.2zM1600.8 265.2h3.2v3.2h-3.2zM1776.8 265.2h3.2v3.2h-3.2zM1453.6 268.4h3.2v3.2h-3.2zM1508 268.4h3.2v3.2h-3.2zM1623.2 268.4h3.2v3.2h-3.2zM1687.2 268.4h3.2v3.2h-3.2zM1732 268.4h3.2v3.2h-3.2zM1770.4 268.4h3.2v3.2h-3.2zM1888.8 268.4h3.2v3.2h-3.2zM1559.2 271.6h3.2v3.2h-3.2zM1575.2 271.6h3.2v3.2h-3.2zM1652 271.6h3.2v3.2h-3.2zM1668 271.6h3.2v3.2h-3.2zM1808.8 271.6h3.2v3.2h-3.2zM1834.4 271.6h3.2v3.2h-3.2zM1431.2 274.8h3.2v3.2h-3.2zM1709.6 274.8h3.2v3.2h-3.2zM1732 274.8h3.2v3.2h-3.2zM1479.2 278h3.2v3.2h-3.2zM1530.4 278h3.2v3.2h-3.2zM1674.4 278h3.2v3.2h-3.2zM1578.4 281.2h3.2v3.2h-3.2zM1661.6 281.2h3.2v3.2h-3.2zM1687.2 281.2h3.2v3.2h-3.2zM1412 284.4h3.2v3.2h-3.2zM1447.2 287.6h3.2v3.2h-3.2zM1636 287.6h3.2v3.2h-3.2zM1805.6 287.6h3.2v3.2h-3.2zM1604 290.8h3.2v3.2h-3.2zM1709.6 290.8h3.2v3.2h-3.2zM1834.4 290.8h3.2v3.2h-3.2zM1901.6 290.8h3.2v3.2h-3.2zM1501.6 294h3.2v3.2h-3.2zM1437.6 297.2h3.2v3.2h-3.2zM1620 297.2h3.2v3.2h-3.2zM1661.6 297.2h3.2v3.2h-3.2zM1671.2 297.2h3.2v3.2h-3.2zM1495.2 300.4h3.2v3.2h-3.2zM1552.8 300.4h3.2v3.2h-3.2zM1613.6 300.4h3.2v3.2h-3.2zM1757.6 300.4h3.2v3.2h-3.2zM1677.6 303.6h3.2v3.2h-3.2zM1728.8 303.6h3.2v3.2h-3.2zM1872.8 303.6h3.2v3.2h-3.2zM1776.8 306.8h3.2v3.2h-3.2zM1437.6 310h3.2v3.2h-3.2zM1888.8 310h3.2v3.2h-3.2zM1600.8 313.2h3.2v3.2h-3.2zM1773.6 313.2h3.2v3.2h-3.2zM1828 313.2h3.2v3.2h-3.2zM1879.2 313.2h3.2v3.2h-3.2zM1549.6 316.4h3.2v3.2h-3.2zM1632.8 316.4h3.2v3.2h-3.2zM1652 316.4h3.2v3.2h-3.2zM1741.6 316.4h3.2v3.2h-3.2zM1687.2 319.6h3.2v3.2h-3.2zM1847.2 319.6h3.2v3.2h-3.2zM1885.6 319.6h3.2v3.2h-3.2zM1447.2 322.8h3.2v3.2h-3.2zM1485.6 322.8h3.2v3.2h-3.2zM1498.4 322.8h3.2v3.2h-3.2zM1504.8 322.8h3.2v3.2h-3.2zM1831.2 322.8h3.2v3.2h-3.2zM1898.4 322.8h3.2v3.2h-3.2zM1575.2 326h3.2v3.2h-3.2zM1591.2 326h3.2v3.2h-3.2zM1712.8 326h3.2v3.2h-3.2zM1421.6 329.2h3.2v3.2h-3.2zM1632.8 329.2h3.2v3.2h-3.2zM1792.8 329.2h3.2v3.2h-3.2zM1895.2 329.2h3.2v3.2h-3.2zM1421.6 332.4h3.2v3.2h-3.2zM1476 332.4h3.2v3.2h-3.2zM1840.8 332.4h3.2v3.2h-3.2zM1888.8 335.6h3.2v3.2h-3.2zM1434.4 338.8h3.2v3.2h-3.2zM1504.8 338.8h3.2v3.2h-3.2zM1536.8 338.8h3.2v3.2h-3.2zM1671.2 338.8h3.2v3.2h-3.2zM1716 338.8h3.2v3.2h-3.2zM1738.4 338.8h3.2v3.2h-3.2zM1773.6 338.8h3.2v3.2h-3.2zM1876 338.8h3.2v3.2h-3.2zM1421.6 342h3.2v3.2h-3.2zM1658.4 342h3.2v3.2h-3.2zM1757.6 342h3.2v3.2h-3.2zM1447.2 345.2h3.2v3.2h-3.2zM1511.2 345.2h3.2v3.2h-3.2zM1648.8 345.2h3.2v3.2h-3.2zM1655.2 345.2h3.2v3.2h-3.2zM1751.2 345.2h3.2v3.2h-3.2zM1789.6 345.2h3.2v3.2h-3.2zM1808.8 345.2h3.2v3.2h-3.2zM1466.4 348.4h3.2v3.2h-3.2zM1479.2 348.4h3.2v3.2h-3.2zM1485.6 348.4h3.2v3.2h-3.2zM1677.6 348.4h3.2v3.2h-3.2zM1709.6 348.4h3.2v3.2h-3.2zM1860 348.4h3.2v3.2h-3.2zM1898.4 348.4h3.2v3.2h-3.2zM1911.2 348.4h3.2v3.2h-3.2zM1530.4 351.6h3.2v3.2h-3.2zM1632.8 351.6h3.2v3.2h-3.2zM1677.6 351.6h3.2v3.2h-3.2zM1786.4 351.6h3.2v3.2h-3.2zM1792.8 351.6h3.2v3.2h-3.2zM1610.4 354.8h3.2v3.2h-3.2zM1680.8 354.8h3.2v3.2h-3.2zM1684 354.8h3.2v3.2h-3.2zM1828 354.8h3.2v3.2h-3.2zM1850.4 354.8h3.2v3.2h-3.2zM1872.8 354.8h3.2v3.2h-3.2zM1879.2 354.8h3.2v3.2h-3.2zM1898.4 354.8h3.2v3.2h-3.2zM1552.8 358h3.2v3.2h-3.2zM1572 358h3.2v3.2h-3.2zM1600.8 358h3.2v3.2h-3.2zM1776.8 358h3.2v3.2h-3.2zM1786.4 358h3.2v3.2h-3.2zM1789.6 358h3.2v3.2h-3.2zM1840.8 358h3.2v3.2h-3.2zM1904.8 358h3.2v3.2h-3.2zM1415.2 361.2h3.2v3.2h-3.2zM1668 361.2h3.2v3.2h-3.2zM1671.2 361.2h3.2v3.2h-3.2zM1751.2 361.2h3.2v3.2h-3.2zM1824.8 361.2h3.2v3.2h-3.2zM1828 361.2h3.2v3.2h-3.2zM1876 361.2h3.2v3.2h-3.2zM1472.8 364.4h3.2v3.2h-3.2zM1584.8 364.4h3.2v3.2h-3.2zM1741.6 364.4h3.2v3.2h-3.2zM1796 364.4h3.2v3.2h-3.2zM1799.2 364.4h3.2v3.2h-3.2zM1821.6 364.4h3.2v3.2h-3.2zM1824.8 364.4h3.2v3.2h-3.2zM1453.6 367.6h3.2v3.2h-3.2zM1565.6 367.6h3.2v3.2h-3.2zM1664.8 367.6h3.2v3.2h-3.2zM1668 367.6h3.2v3.2h-3.2zM1808.8 367.6h3.2v3.2h-3.2zM1821.6 367.6h3.2v3.2h-3.2zM1847.2 367.6h3.2v3.2h-3.2zM1476 370.8h3.2v3.2h-3.2zM1674.4 370.8h3.2v3.2h-3.2zM1744.8 370.8h3.2v3.2h-3.2zM1831.2 370.8h3.2v3.2h-3.2zM1876 370.8h3.2v3.2h-3.2zM1434.4 374h3.2v3.2h-3.2zM1610.4 374h3.2v3.2h-3.2zM1776.8 374h3.2v3.2h-3.2zM1834.4 374h3.2v3.2h-3.2zM1853.6 374h3.2v3.2h-3.2zM1428 377.2h3.2v3.2h-3.2zM1818.4 377.2h3.2v3.2h-3.2zM1840.8 377.2h3.2v3.2h-3.2zM1856.8 377.2h3.2v3.2h-3.2zM1444 380.4h3.2v3.2h-3.2zM1488.8 380.4h3.2v3.2h-3.2zM1514.4 380.4h3.2v3.2h-3.2zM1652 380.4h3.2v3.2h-3.2zM1760.8 380.4h3.2v3.2h-3.2zM1860 380.4h3.2v3.2h-3.2zM1879.2 380.4h3.2v3.2h-3.2zM1895.2 380.4h3.2v3.2h-3.2zM1415.2 383.6h3.2v3.2h-3.2zM1639.2 383.6h3.2v3.2h-3.2zM1645.6 383.6h3.2v3.2h-3.2zM1677.6 383.6h3.2v3.2h-3.2zM1725.6 383.6h3.2v3.2h-3.2zM1802.4 383.6h3.2v3.2h-3.2zM1831.2 383.6h3.2v3.2h-3.2zM1840.8 383.6h3.2v3.2h-3.2zM1856.8 383.6h3.2v3.2h-3.2zM1869.6 383.6h3.2v3.2h-3.2zM1892 383.6h3.2v3.2h-3.2zM1498.4 386.8h3.2v3.2h-3.2zM1511.2 386.8h3.2v3.2h-3.2zM1517.6 386.8h3.2v3.2h-3.2zM1536.8 386.8h3.2v3.2h-3.2zM1594.4 386.8h3.2v3.2h-3.2zM1716 386.8h3.2v3.2h-3.2zM1732 386.8h3.2v3.2h-3.2zM1751.2 386.8h3.2v3.2h-3.2zM1812 386.8h3.2v3.2h-3.2zM1837.6 386.8h3.2v3.2h-3.2zM1840.8 386.8h3.2v3.2h-3.2zM1844 386.8h3.2v3.2h-3.2zM1847.2 386.8h3.2v3.2h-3.2zM1850.4 386.8h3.2v3.2h-3.2zM1895.2 386.8h3.2v3.2h-3.2zM1444 390h3.2v3.2h-3.2zM1469.6 390h3.2v3.2h-3.2zM1642.4 390h3.2v3.2h-3.2zM1700 390h3.2v3.2h-3.2zM1716 390h3.2v3.2h-3.2zM1728.8 390h3.2v3.2h-3.2zM1748 390h3.2v3.2h-3.2zM1760.8 390h3.2v3.2h-3.2zM1764 390h3.2v3.2h-3.2zM1821.6 390h3.2v3.2h-3.2zM1844 390h3.2v3.2h-3.2zM1860 390h3.2v3.2h-3.2zM1869.6 390h3.2v3.2h-3.2zM1876 390h3.2v3.2h-3.2zM1901.6 390h3.2v3.2h-3.2zM1914.4 390h3.2v3.2h-3.2zM1511.2 393.2h3.2v3.2h-3.2zM1690.4 393.2h3.2v3.2h-3.2zM1728.8 393.2h3.2v3.2h-3.2zM1805.6 393.2h3.2v3.2h-3.2zM1834.4 393.2h3.2v3.2h-3.2zM1844 393.2h3.2v3.2h-3.2zM1866.4 393.2h3.2v3.2h-3.2zM1600.8 396.4h3.2v3.2h-3.2zM1648.8 396.4h3.2v3.2h-3.2zM1719.2 396.4h3.2v3.2h-3.2zM1732 396.4h3.2v3.2h-3.2zM1735.2 396.4h3.2v3.2h-3.2zM1767.2 396.4h3.2v3.2h-3.2zM1805.6 396.4h3.2v3.2h-3.2zM1840.8 396.4h3.2v3.2h-3.2zM1860 396.4h3.2v3.2h-3.2zM1866.4 396.4h3.2v3.2h-3.2zM1879.2 396.4h3.2v3.2h-3.2zM1658.4 399.6h3.2v3.2h-3.2zM1757.6 399.6h3.2v3.2h-3.2zM1844 399.6h3.2v3.2h-3.2zM1885.6 399.6h3.2v3.2h-3.2zM1575.2 402.8h3.2v3.2h-3.2zM1732 402.8h3.2v3.2h-3.2zM1757.6 402.8h3.2v3.2h-3.2zM1802.4 402.8h3.2v3.2h-3.2zM1824.8 402.8h3.2v3.2h-3.2zM1901.6 402.8h3.2v3.2h-3.2zM1904.8 402.8h3.2v3.2h-3.2zM1911.2 402.8h3.2v3.2h-3.2zM1415.2 406h3.2v3.2h-3.2zM1440.8 406h3.2v3.2h-3.2zM1444 406h3.2v3.2h-3.2zM1472.8 406h3.2v3.2h-3.2zM1495.2 406h3.2v3.2h-3.2zM1546.4 406h3.2v3.2h-3.2zM1559.2 406h3.2v3.2h-3.2zM1562.4 406h3.2v3.2h-3.2zM1604 406h3.2v3.2h-3.2zM1636 406h3.2v3.2h-3.2zM1661.6 406h3.2v3.2h-3.2zM1677.6 406h3.2v3.2h-3.2zM1700 406h3.2v3.2h-3.2zM1706.4 406h3.2v3.2h-3.2zM1748 406h3.2v3.2h-3.2zM1773.6 406h3.2v3.2h-3.2zM1789.6 406h3.2v3.2h-3.2zM1831.2 406h3.2v3.2h-3.2zM1856.8 406h3.2v3.2h-3.2zM1911.2 406h3.2v3.2h-3.2zM1424.8 409.2h3.2v3.2h-3.2zM1466.4 409.2h3.2v3.2h-3.2zM1488.8 409.2h3.2v3.2h-3.2zM1578.4 409.2h3.2v3.2h-3.2zM1591.2 409.2h3.2v3.2h-3.2zM1616.8 409.2h3.2v3.2h-3.2zM1680.8 409.2h3.2v3.2h-3.2zM1709.6 409.2h3.2v3.2h-3.2zM1722.4 409.2h3.2v3.2h-3.2zM1783.2 409.2h3.2v3.2h-3.2zM1802.4 409.2h3.2v3.2h-3.2zM1837.6 409.2h3.2v3.2h-3.2zM1888.8 409.2h3.2v3.2h-3.2zM1437.6 412.4h3.2v3.2h-3.2zM1488.8 412.4h3.2v3.2h-3.2zM1533.6 412.4h3.2v3.2h-3.2zM1562.4 412.4h3.2v3.2h-3.2zM1572 412.4h3.2v3.2h-3.2zM1623.2 412.4h3.2v3.2h-3.2zM1645.6 412.4h3.2v3.2h-3.2zM1655.2 412.4h3.2v3.2h-3.2zM1664.8 412.4h3.2v3.2h-3.2zM1668 412.4h3.2v3.2h-3.2zM1738.4 412.4h3.2v3.2h-3.2zM1744.8 412.4h3.2v3.2h-3.2zM1748 412.4h3.2v3.2h-3.2zM1751.2 412.4h3.2v3.2h-3.2zM1764 412.4h3.2v3.2h-3.2zM1786.4 412.4h3.2v3.2h-3.2zM1818.4 412.4h3.2v3.2h-3.2zM1860 412.4h3.2v3.2h-3.2zM1885.6 412.4h3.2v3.2h-3.2zM1904.8 412.4h3.2v3.2h-3.2zM1412 415.6h3.2v3.2h-3.2zM1514.4 415.6h3.2v3.2h-3.2zM1600.8 415.6h3.2v3.2h-3.2zM1610.4 415.6h3.2v3.2h-3.2zM1616.8 415.6h3.2v3.2h-3.2zM1623.2 415.6h3.2v3.2h-3.2zM1693.6 415.6h3.2v3.2h-3.2zM1696.8 415.6h3.2v3.2h-3.2zM1706.4 415.6h3.2v3.2h-3.2zM1732 415.6h3.2v3.2h-3.2zM1808.8 415.6h3.2v3.2h-3.2zM1876 415.6h3.2v3.2h-3.2zM1901.6 415.6h3.2v3.2h-3.2zM1428 418.8h3.2v3.2h-3.2zM1434.4 418.8h3.2v3.2h-3.2zM1453.6 418.8h3.2v3.2h-3.2zM1463.2 418.8h3.2v3.2h-3.2zM1540 418.8h3.2v3.2h-3.2zM1623.2 418.8h3.2v3.2h-3.2zM1626.4 418.8h3.2v3.2h-3.2zM1680.8 418.8h3.2v3.2h-3.2zM1703.2 418.8h3.2v3.2h-3.2zM1706.4 418.8h3.2v3.2h-3.2zM1712.8 418.8h3.2v3.2h-3.2zM1741.6 418.8h3.2v3.2h-3.2zM1776.8 418.8h3.2v3.2h-3.2zM1792.8 418.8h3.2v3.2h-3.2zM1802.4 418.8h3.2v3.2h-3.2zM1828 418.8h3.2v3.2h-3.2zM1831.2 418.8h3.2v3.2h-3.2zM1872.8 418.8h3.2v3.2h-3.2zM1885.6 418.8h3.2v3.2h-3.2zM1428 422h3.2v3.2h-3.2zM1453.6 422h3.2v3.2h-3.2zM1469.6 422h3.2v3.2h-3.2zM1498.4 422h3.2v3.2h-3.2zM1524 422h3.2v3.2h-3.2zM1559.2 422h3.2v3.2h-3.2zM1565.6 422h3.2v3.2h-3.2zM1581.6 422h3.2v3.2h-3.2zM1591.2 422h3.2v3.2h-3.2zM1597.6 422h3.2v3.2h-3.2zM1600.8 422h3.2v3.2h-3.2zM1629.6 422h3.2v3.2h-3.2zM1639.2 422h3.2v3.2h-3.2zM1658.4 422h3.2v3.2h-3.2zM1674.4 422h3.2v3.2h-3.2zM1677.6 422h3.2v3.2h-3.2zM1680.8 422h3.2v3.2h-3.2zM1700 422h3.2v3.2h-3.2zM1706.4 422h3.2v3.2h-3.2zM1712.8 422h3.2v3.2h-3.2zM1732 422h3.2v3.2h-3.2zM1744.8 422h3.2v3.2h-3.2zM1754.4 422h3.2v3.2h-3.2zM1821.6 422h3.2v3.2h-3.2zM1844 422h3.2v3.2h-3.2zM1892 422h3.2v3.2h-3.2zM1904.8 422h3.2v3.2h-3.2zM1453.6 425.2h3.2v3.2h-3.2zM1472.8 425.2h3.2v3.2h-3.2zM1501.6 425.2h3.2v3.2h-3.2zM1543.2 425.2h3.2v3.2h-3.2zM1556 425.2h3.2v3.2h-3.2zM1572 425.2h3.2v3.2h-3.2zM1575.2 425.2h3.2v3.2h-3.2zM1594.4 425.2h3.2v3.2h-3.2zM1613.6 425.2h3.2v3.2h-3.2zM1652 425.2h3.2v3.2h-3.2zM1677.6 425.2h3.2v3.2h-3.2zM1680.8 425.2h3.2v3.2h-3.2zM1687.2 425.2h3.2v3.2h-3.2zM1693.6 425.2h3.2v3.2h-3.2zM1732 425.2h3.2v3.2h-3.2zM1741.6 425.2h3.2v3.2h-3.2zM1776.8 425.2h3.2v3.2h-3.2zM1860 425.2h3.2v3.2h-3.2zM1879.2 425.2h3.2v3.2h-3.2zM1885.6 425.2h3.2v3.2h-3.2zM1888.8 425.2h3.2v3.2h-3.2zM1901.6 425.2h3.2v3.2h-3.2zM1418.4 428.4h3.2v3.2h-3.2zM1428 428.4h3.2v3.2h-3.2zM1469.6 428.4h3.2v3.2h-3.2zM1488.8 428.4h3.2v3.2h-3.2zM1495.2 428.4h3.2v3.2h-3.2zM1501.6 428.4h3.2v3.2h-3.2zM1524 428.4h3.2v3.2h-3.2zM1530.4 428.4h3.2v3.2h-3.2zM1536.8 428.4h3.2v3.2h-3.2zM1556 428.4h3.2v3.2h-3.2zM1578.4 428.4h3.2v3.2h-3.2zM1584.8 428.4h3.2v3.2h-3.2zM1620 428.4h3.2v3.2h-3.2zM1623.2 428.4h3.2v3.2h-3.2zM1629.6 428.4h3.2v3.2h-3.2zM1632.8 428.4h3.2v3.2h-3.2zM1636 428.4h3.2v3.2h-3.2zM1645.6 428.4h3.2v3.2h-3.2zM1684 428.4h3.2v3.2h-3.2zM1687.2 428.4h3.2v3.2h-3.2zM1716 428.4h3.2v3.2h-3.2zM1719.2 428.4h3.2v3.2h-3.2zM1754.4 428.4h3.2v3.2h-3.2zM1757.6 428.4h3.2v3.2h-3.2zM1760.8 428.4h3.2v3.2h-3.2zM1764 428.4h3.2v3.2h-3.2zM1815.2 428.4h3.2v3.2h-3.2zM1828 428.4h3.2v3.2h-3.2zM1837.6 428.4h3.2v3.2h-3.2zM1885.6 428.4h3.2v3.2h-3.2zM1428 431.6h3.2v3.2h-3.2zM1450.4 431.6h3.2v3.2h-3.2zM1460 431.6h3.2v3.2h-3.2zM1463.2 431.6h3.2v3.2h-3.2zM1476 431.6h3.2v3.2h-3.2zM1482.4 431.6h3.2v3.2h-3.2zM1501.6 431.6h3.2v3.2h-3.2zM1514.4 431.6h3.2v3.2h-3.2zM1527.2 431.6h3.2v3.2h-3.2zM1546.4 431.6h3.2v3.2h-3.2zM1591.2 431.6h3.2v3.2h-3.2zM1597.6 431.6h3.2v3.2h-3.2zM1607.2 431.6h3.2v3.2h-3.2zM1636 431.6h3.2v3.2h-3.2zM1642.4 431.6h3.2v3.2h-3.2zM1658.4 431.6h3.2v3.2h-3.2zM1687.2 431.6h3.2v3.2h-3.2zM1690.4 431.6h3.2v3.2h-3.2zM1709.6 431.6h3.2v3.2h-3.2zM1712.8 431.6h3.2v3.2h-3.2zM1748 431.6h3.2v3.2h-3.2zM1760.8 431.6h3.2v3.2h-3.2zM1805.6 431.6h3.2v3.2h-3.2zM1815.2 431.6h3.2v3.2h-3.2zM1821.6 431.6h3.2v3.2h-3.2zM1834.4 431.6h3.2v3.2h-3.2zM1869.6 431.6h3.2v3.2h-3.2zM1882.4 431.6h3.2v3.2h-3.2zM1418.4 434.8h3.2v3.2h-3.2zM1428 434.8h3.2v3.2h-3.2zM1444 434.8h3.2v3.2h-3.2zM1472.8 434.8h3.2v3.2h-3.2zM1476 434.8h3.2v3.2h-3.2zM1485.6 434.8h3.2v3.2h-3.2zM1498.4 434.8h3.2v3.2h-3.2zM1536.8 434.8h3.2v3.2h-3.2zM1568.8 434.8h3.2v3.2h-3.2zM1584.8 434.8h3.2v3.2h-3.2zM1591.2 434.8h3.2v3.2h-3.2zM1594.4 434.8h3.2v3.2h-3.2zM1604 434.8h3.2v3.2h-3.2zM1613.6 434.8h3.2v3.2h-3.2zM1626.4 434.8h3.2v3.2h-3.2zM1642.4 434.8h3.2v3.2h-3.2zM1664.8 434.8h3.2v3.2h-3.2zM1696.8 434.8h3.2v3.2h-3.2zM1712.8 434.8h3.2v3.2h-3.2zM1719.2 434.8h3.2v3.2h-3.2zM1722.4 434.8h3.2v3.2h-3.2zM1732 434.8h3.2v3.2h-3.2zM1741.6 434.8h3.2v3.2h-3.2zM1760.8 434.8h3.2v3.2h-3.2zM1808.8 434.8h3.2v3.2h-3.2zM1824.8 434.8h3.2v3.2h-3.2zM1882.4 434.8h3.2v3.2h-3.2zM1415.2 438h3.2v3.2h-3.2zM1418.4 438h3.2v3.2h-3.2zM1456.8 438h3.2v3.2h-3.2zM1584.8 438h3.2v3.2h-3.2zM1604 438h3.2v3.2h-3.2zM1616.8 438h3.2v3.2h-3.2zM1629.6 438h3.2v3.2h-3.2zM1642.4 438h3.2v3.2h-3.2zM1668 438h3.2v3.2h-3.2zM1680.8 438h3.2v3.2h-3.2zM1687.2 438h3.2v3.2h-3.2zM1690.4 438h3.2v3.2h-3.2zM1703.2 438h3.2v3.2h-3.2zM1706.4 438h3.2v3.2h-3.2zM1709.6 438h3.2v3.2h-3.2zM1722.4 438h3.2v3.2h-3.2zM1732 438h3.2v3.2h-3.2zM1754.4 438h3.2v3.2h-3.2zM1770.4 438h3.2v3.2h-3.2zM1796 438h3.2v3.2h-3.2zM1808.8 438h3.2v3.2h-3.2zM1831.2 438h3.2v3.2h-3.2zM1837.6 438h3.2v3.2h-3.2zM1866.4 438h3.2v3.2h-3.2zM1872.8 438h3.2v3.2h-3.2zM1876 438h3.2v3.2h-3.2zM1898.4 438h3.2v3.2h-3.2zM1431.2 441.2h3.2v3.2h-3.2zM1447.2 441.2h3.2v3.2h-3.2zM1456.8 441.2h3.2v3.2h-3.2zM1469.6 441.2h3.2v3.2h-3.2zM1498.4 441.2h3.2v3.2h-3.2zM1584.8 441.2h3.2v3.2h-3.2zM1620 441.2h3.2v3.2h-3.2zM1626.4 441.2h3.2v3.2h-3.2zM1636 441.2h3.2v3.2h-3.2zM1639.2 441.2h3.2v3.2h-3.2zM1642.4 441.2h3.2v3.2h-3.2zM1658.4 441.2h3.2v3.2h-3.2zM1674.4 441.2h3.2v3.2h-3.2zM1684 441.2h3.2v3.2h-3.2zM1696.8 441.2h3.2v3.2h-3.2zM1700 441.2h3.2v3.2h-3.2zM1703.2 441.2h3.2v3.2h-3.2zM1744.8 441.2h3.2v3.2h-3.2zM1748 441.2h3.2v3.2h-3.2zM1757.6 441.2h3.2v3.2h-3.2zM1824.8 441.2h3.2v3.2h-3.2zM1876 441.2h3.2v3.2h-3.2zM1892 441.2h3.2v3.2h-3.2zM1898.4 441.2h3.2v3.2h-3.2zM1904.8 441.2h3.2v3.2h-3.2z"/>
<path fill="#0a560a" d="M1415.2 73.2h3.2v3.2h-3.2zM1562.4 73.2h3.2v3.2h-3.2zM1741.6 73.2h3.2v3.2h-3.2zM1818.4 73.2h3.2v3.2h-3.2zM1578.4 76.4h3.2v3.2h-3.2zM1735.2 79.6h3.2v3.2h-3.2zM1866.4 79.6h3.2v3.2h-3.2zM1642.4 82.8h3.2v3.2h-3.2zM1456.8 86h3.2v3.2h-3.2zM1578.4 86h3.2v3.2h-3.2zM1556 89.2h3.2v3.2h-3.2zM1687.2 89.2h3.2v3.2h-3.2zM1559.2 92.4h3.2v3.2h-3.2zM1703.2 92.4h3.2v3.2h-3.2zM1434.4 95.6h3.2v3.2h-3.2zM1655.2 95.6h3.2v3.2h-3.2zM1527.2 98.8h3.2v3.2h-3.2zM1725.6 98.8h3.2v3.2h-3.2zM1661.6 102h3.2v3.2h-3.2zM1799.2 102h3.2v3.2h-3.2zM1514.4 105.2h3.2v3.2h-3.2zM1549.6 105.2h3.2v3.2h-3.2zM1866.4 105.2h3.2v3.2h-3.2zM1869.6 105.2h3.2v3.2h-3.2zM1520.8 108.4h3.2v3.2h-3.2zM1556 108.4h3.2v3.2h-3.2zM1607.2 108.4h3.2v3.2h-3.2zM1824.8 108.4h3.2v3.2h-3.2zM1476 111.6h3.2v3.2h-3.2zM1597.6 111.6h3.2v3.2h-3.2zM1898.4 111.6h3.2v3.2h-3.2zM1466.4 114.8h3.2v3.2h-3.2zM1895.2 114.8h3.2v3.2h-3.2zM1514.4 118h3.2v3.2h-3.2zM1732 118h3.2v3.2h-3.2zM1431.2 121.2h3.2v3.2h-3.2zM1869.6 121.2h3.2v3.2h-3.2zM1424.8 124.4h3.2v3.2h-3.2zM1428 124.4h3.2v3.2h-3.2zM1556 124.4h3.2v3.2h-3.2zM1610.4 127.6h3.2v3.2h-3.2zM1556 130.8h3.2v3.2h-3.2zM1632.8 134h3.2v3.2h-3.2zM1671.2 134h3.2v3.2h-3.2zM1434.4 137.2h3.2v3.2h-3.2zM1450.4 137.2h3.2v3.2h-3.2zM1568.8 137.2h3.2v3.2h-3.2zM1668 137.2h3.2v3.2h-3.2zM1578.4 140.4h3.2v3.2h-3.2zM1709.6 140.4h3.2v3.2h-3.2zM1764 143.6h3.2v3.2h-3.2zM1773.6 143.6h3.2v3.2h-3.2zM1789.6 143.6h3.2v3.2h-3.2zM1828 143.6h3.2v3.2h-3.2zM1488.8 146.8h3.2v3.2h-3.2zM1575.2 146.8h3.2v3.2h-3.2zM1706.4 146.8h3.2v3.2h-3.2zM1744.8 146.8h3.2v3.2h-3.2zM1456.8 150h3.2v3.2h-3.2zM1661.6 150h3.2v3.2h-3.2zM1892 150h3.2v3.2h-3.2zM1485.6 153.2h3.2v3.2h-3.2zM1786.4 153.2h3.2v3.2h-3.2zM1818.4 153.2h3.2v3.2h-3.2zM1536.8 156.4h3.2v3.2h-3.2zM1684 156.4h3.2v3.2h-3.2zM1844 156.4h3.2v3.2h-3.2zM1498.4 159.6h3.2v3.2h-3.2zM1543.2 159.6h3.2v3.2h-3.2zM1568.8 159.6h3.2v3.2h-3.2zM1655.2 159.6h3.2v3.2h-3.2zM1693.6 159.6h3.2v3.2h-3.2zM1911.2 159.6h3.2v3.2h-3.2zM1514.4 162.8h3.2v3.2h-3.2zM1879.2 162.8h3.2v3.2h-3.2zM1607.2 166h3.2v3.2h-3.2zM1652 169.2h3.2v3.2h-3.2zM1914.4 169.2h3.2v3.2h-3.2zM1600.8 172.4h3.2v3.2h-3.2zM1674.4 172.4h3.2v3.2h-3.2zM1565.6 178.8h3.2v3.2h-3.2zM1600.8 178.8h3.2v3.2h-3.2zM1812 178.8h3.2v3.2h-3.2zM1437.6 182h3.2v3.2h-3.2zM1600.8 182h3.2v3.2h-3.2zM1549.6 185.2h3.2v3.2h-3.2zM1668 185.2h3.2v3.2h-3.2zM1527.2 188.4h3.2v3.2h-3.2zM1575.2 188.4h3.2v3.2h-3.2zM1581.6 188.4h3.2v3.2h-3.2zM1844 188.4h3.2v3.2h-3.2zM1536.8 191.6h3.2v3.2h-3.2zM1565.6 191.6h3.2v3.2h-3.2zM1629.6 191.6h3.2v3.2h-3.2zM1706.4 191.6h3.2v3.2h-3.2zM1850.4 191.6h3.2v3.2h-3.2zM1888.8 191.6h3.2v3.2h-3.2zM1914.4 191.6h3.2v3.2h-3.2zM1508 194.8h3.2v3.2h-3.2zM1600.8 194.8h3.2v3.2h-3.2zM1642.4 194.8h3.2v3.2h-3.2zM1728.8 194.8h3.2v3.2h-3.2zM1543.2 198h3.2v3.2h-3.2zM1540 201.2h3.2v3.2h-3.2zM1709.6 201.2h3.2v3.2h-3.2zM1799.2 201.2h3.2v3.2h-3.2zM1904.8 201.2h3.2v3.2h-3.2zM1690.4 204.4h3.2v3.2h-3.2zM1895.2 204.4h3.2v3.2h-3.2zM1492 207.6h3.2v3.2h-3.2zM1543.2 207.6h3.2v3.2h-3.2zM1572 207.6h3.2v3.2h-3.2zM1450.4 210.8h3.2v3.2h-3.2zM1415.2 214h3.2v3.2h-3.2zM1418.4 214h3.2v3.2h-3.2zM1543.2 214h3.2v3.2h-3.2zM1591.2 214h3.2v3.2h-3.2zM1696.8 214h3.2v3.2h-3.2zM1431.2 217.2h3.2v3.2h-3.2zM1559.2 220.4h3.2v3.2h-3.2zM1716 223.6h3.2v3.2h-3.2zM1799.2 223.6h3.2v3.2h-3.2zM1744.8 226.8h3.2v3.2h-3.2zM1815.2 226.8h3.2v3.2h-3.2zM1466.4 230h3.2v3.2h-3.2zM1860 230h3.2v3.2h-3.2zM1895.2 230h3.2v3.2h-3.2zM1536.8 233.2h3.2v3.2h-3.2zM1664.8 233.2h3.2v3.2h-3.2zM1757.6 233.2h3.2v3.2h-3.2zM1616.8 236.4h3.2v3.2h-3.2zM1799.2 236.4h3.2v3.2h-3.2zM1552.8 239.6h3.2v3.2h-3.2zM1581.6 242.8h3.2v3.2h-3.2zM1652 242.8h3.2v3.2h-3.2zM1696.8 242.8h3.2v3.2h-3.2zM1783.2 242.8h3.2v3.2h-3.2zM1901.6 242.8h3.2v3.2h-3.2zM1914.4 242.8h3.2v3.2h-3.2zM1498.4 246h3.2v3.2h-3.2zM1658.4 246h3.2v3.2h-3.2zM1812 246h3.2v3.2h-3.2zM1837.6 246h3.2v3.2h-3.2zM1508 249.2h3.2v3.2h-3.2zM1757.6 249.2h3.2v3.2h-3.2zM1872.8 249.2h3.2v3.2h-3.2zM1879.2 249.2h3.2v3.2h-3.2zM1744.8 252.4h3.2v3.2h-3.2zM1818.4 252.4h3.2v3.2h-3.2zM1546.4 255.6h3.2v3.2h-3.2zM1607.2 255.6h3.2v3.2h-3.2zM1818.4 255.6h3.2v3.2h-3.2zM1904.8 255.6h3.2v3.2h-3.2zM1908 255.6h3.2v3.2h-3.2zM1610.4 258.8h3.2v3.2h-3.2zM1645.6 258.8h3.2v3.2h-3.2zM1527.2 262h3.2v3.2h-3.2zM1888.8 262h3.2v3.2h-3.2zM1741.6 265.2h3.2v3.2h-3.2zM1476 271.6h3.2v3.2h-3.2zM1725.6 271.6h3.2v3.2h-3.2zM1597.6 274.8h3.2v3.2h-3.2zM1645.6 274.8h3.2v3.2h-3.2zM1693.6 274.8h3.2v3.2h-3.2zM1741.6 274.8h3.2v3.2h-3.2zM1786.4 274.8h3.2v3.2h-3.2zM1741.6 278h3.2v3.2h-3.2zM1424.8 281.2h3.2v3.2h-3.2zM1440.8 281.2h3.2v3.2h-3.2zM1645.6 281.2h3.2v3.2h-3.2zM1709.6 281.2h3.2v3.2h-3.2zM1914.4 284.4h3.2v3.2h-3.2zM1562.4 287.6h3.2v3.2h-3.2zM1911.2 287.6h3.2v3.2h-3.2zM1431.2 290.8h3.2v3.2h-3.2zM1674.4 290.8h3.2v3.2h-3.2zM1706.4 290.8h3.2v3.2h-3.2zM1668 294h3.2v3.2h-3.2zM1786.4 294h3.2v3.2h-3.2zM1840.8 294h3.2v3.2h-3.2zM1872.8 294h3.2v3.2h-3.2zM1434.4 297.2h3.2v3.2h-3.2zM1572 297.2h3.2v3.2h-3.2zM1674.4 297.2h3.2v3.2h-3.2zM1888.8 297.2h3.2v3.2h-3.2zM1901.6 297.2h3.2v3.2h-3.2zM1911.2 297.2h3.2v3.2h-3.2zM1412 300.4h3.2v3.2h-3.2zM1418.4 300.4h3.2v3.2h-3.2zM1674.4 300.4h3.2v3.2h-3.2zM1818.4 300.4h3.2v3.2h-3.2zM1492 303.6h3.2v3.2h-3.2zM1559.2 303.6h3.2v3.2h-3.2zM1773.6 303.6h3.2v3.2h-3.2zM1600.8 306.8h3.2v3.2h-3.2zM1773.6 306.8h3.2v3.2h-3.2zM1805.6 306.8h3.2v3.2h-3.2zM1840.8 306.8h3.2v3.2h-3.2zM1469.6 310h3.2v3.2h-3.2zM1869.6 310h3.2v3.2h-3.2zM1882.4 310h3.2v3.2h-3.2zM1495.2 316.4h3.2v3.2h-3.2zM1802.4 316.4h3.2v3.2h-3.2zM1824.8 316.4h3.2v3.2h-3.2zM1847.2 316.4h3.2v3.2h-3.2zM1559.2 319.6h3.2v3.2h-3.2zM1540 322.8h3.2v3.2h-3.2zM1594.4 322.8h3.2v3.2h-3.2zM1834.4 326h3.2v3.2h-3.2zM1568.8 329.2h3.2v3.2h-3.2zM1764 329.2h3.2v3.2h-3.2zM1767.2 329.2h3.2v3.2h-3.2zM1818.4 329.2h3.2v3.2h-3.2zM1876 329.2h3.2v3.2h-3.2zM1629.6 335.6h3.2v3.2h-3.2zM1690.4 335.6h3.2v3.2h-3.2zM1802.4 335.6h3.2v3.2h-3.2zM1424.8 338.8h3.2v3.2h-3.2zM1578.4 338.8h3.2v3.2h-3.2zM1466.4 342h3.2v3.2h-3.2zM1671.2 342h3.2v3.2h-3.2zM1754.4 342h3.2v3.2h-3.2zM1824.8 342h3.2v3.2h-3.2zM1450.4 345.2h3.2v3.2h-3.2zM1549.6 345.2h3.2v3.2h-3.2zM1591.2 345.2h3.2v3.2h-3.2zM1613.6 345.2h3.2v3.2h-3.2zM1700 345.2h3.2v3.2h-3.2zM1844 345.2h3.2v3.2h-3.2zM1895.2 345.2h3.2v3.2h-3.2zM1853.6 348.4h3.2v3.2h-3.2zM1901.6 348.4h3.2v3.2h-3.2zM1485.6 351.6h3.2v3.2h-3.2zM1533.6 351.6h3.2v3.2h-3.2zM1616.8 351.6h3.2v3.2h-3.2zM1636 351.6h3.2v3.2h-3.2zM1760.8 351.6h3.2v3.2h-3.2zM1789.6 351.6h3.2v3.2h-3.2zM1799.2 351.6h3.2v3.2h-3.2zM1812 351.6h3.2v3.2h-3.2zM1821.6 351.6h3.2v3.2h-3.2zM1837.6 351.6h3.2v3.2h-3.2zM1434.4 354.8h3.2v3.2h-3.2zM1511.2 354.8h3.2v3.2h-3.2zM1671.2 354.8h3.2v3.2h-3.2zM1847.2 354.8h3.2v3.2h-3.2zM1485.6 358h3.2v3.2h-3.2zM1661.6 358h3.2v3.2h-3.2zM1748 358h3.2v3.2h-3.2zM1773.6 358h3.2v3.2h-3.2zM1824.8 358h3.2v3.2h-3.2zM1866.4 358h3.2v3.2h-3.2zM1847.2 361.2h3.2v3.2h-3.2zM1914.4 361.2h3.2v3.2h-3.2zM1498.4 364.4h3.2v3.2h-3.2zM1706.4 364.4h3.2v3.2h-3.2zM1808.8 364.4h3.2v3.2h-3.2zM1901.6 364.4h3.2v3.2h-3.2zM1434.4 367.6h3.2v3.2h-3.2zM1495.2 367.6h3.2v3.2h-3.2zM1751.2 367.6h3.2v3.2h-3.2zM1764 367.6h3.2v3.2h-3.2zM1575.2 370.8h3.2v3.2h-3.2zM1600.8 370.8h3.2v3.2h-3.2zM1655.2 370.8h3.2v3.2h-3.2zM1716 370.8h3.2v3.2h-3.2zM1824.8 370.8h3.2v3.2h-3.2zM1828 370.8h3.2v3.2h-3.2zM1837.6 370.8h3.2v3.2h-3.2zM1879.2 370.8h3.2v3.2h-3.2zM1741.6 374h3.2v3.2h-3.2zM1764 374h3.2v3.2h-3.2zM1805.6 374h3.2v3.2h-3.2zM1808.8 374h3.2v3.2h-3.2zM1844 374h3.2v3.2h-3.2zM1882.4 374h3.2v3.2h-3.2zM1552.8 377.2h3.2v3.2h-3.2zM1693.6 377.2h3.2v3.2h-3.2zM1716 377.2h3.2v3.2h-3.2zM1776.8 377.2h3.2v3.2h-3.2zM1799.2 377.2h3.2v3.2h-3.2zM1863.2 377.2h3.2v3.2h-3.2zM1869.6 377.2h3.2v3.2h-3.2zM1876 377.2h3.2v3.2h-3.2zM1460 380.4h3.2v3.2h-3.2zM1517.6 380.4h3.2v3.2h-3.2zM1588 380.4h3.2v3.2h-3.2zM1661.6 380.4h3.2v3.2h-3.2zM1696.8 380.4h3.2v3.2h-3.2zM1728.8 380.4h3.2v3.2h-3.2zM1780 380.4h3.2v3.2h-3.2zM1831.2 380.4h3.2v3.2h-3.2zM1876 380.4h3.2v3.2h-3.2zM1421.6 383.6h3.2v3.2h-3.2zM1533.6 383.6h3.2v3.2h-3.2zM1543.2 383.6h3.2v3.2h-3.2zM1680.8 383.6h3.2v3.2h-3.2zM1690.4 383.6h3.2v3.2h-3.2zM1700 383.6h3.2v3.2h-3.2zM1815.2 383.6h3.2v3.2h-3.2zM1655.2 386.8h3.2v3.2h-3.2zM1821.6 386.8h3.2v3.2h-3.2zM1860 386.8h3.2v3.2h-3.2zM1447.2 390h3.2v3.2h-3.2zM1578.4 390h3.2v3.2h-3.2zM1680.8 390h3.2v3.2h-3.2zM1757.6 390h3.2v3.2h-3.2zM1818.4 390h3.2v3.2h-3.2zM1562.4 393.2h3.2v3.2h-3.2zM1722.4 393.2h3.2v3.2h-3.2zM1837.6 393.2h3.2v3.2h-3.2zM1847.2 393.2h3.2v3.2h-3.2zM1879.2 393.2h3.2v3.2h-3.2zM1549.6 396.4h3.2v3.2h-3.2zM1572 396.4h3.2v3.2h-3.2zM1700 396.4h3.2v3.2h-3.2zM1725.6 396.4h3.2v3.2h-3.2zM1748 396.4h3.2v3.2h-3.2zM1844 396.4h3.2v3.2h-3.2zM1751.2 399.6h3.2v3.2h-3.2zM1760.8 399.6h3.2v3.2h-3.2zM1786.4 399.6h3.2v3.2h-3.2zM1808.8 399.6h3.2v3.2h-3.2zM1914.4 399.6h3.2v3.2h-3.2zM1456.8 402.8h3.2v3.2h-3.2zM1530.4 402.8h3.2v3.2h-3.2zM1796 402.8h3.2v3.2h-3.2zM1508 406h3.2v3.2h-3.2zM1629.6 406h3.2v3.2h-3.2zM1639.2 406h3.2v3.2h-3.2zM1674.4 406h3.2v3.2h-3.2zM1684 406h3.2v3.2h-3.2zM1728.8 406h3.2v3.2h-3.2zM1751.2 406h3.2v3.2h-3.2zM1760.8 406h3.2v3.2h-3.2zM1904.8 406h3.2v3.2h-3.2zM1581.6 409.2h3.2v3.2h-3.2zM1620 409.2h3.2v3.2h-3.2zM1623.2 409.2h3.2v3.2h-3.2zM1626.4 409.2h3.2v3.2h-3.2zM1642.4 409.2h3.2v3.2h-3.2zM1645.6 409.2h3.2v3.2h-3.2zM1664.8 409.2h3.2v3.2h-3.2zM1690.4 409.2h3.2v3.2h-3.2zM1732 409.2h3.2v3.2h-3.2zM1744.8 409.2h3.2v3.2h-3.2zM1748 409.2h3.2v3.2h-3.2zM1770.4 409.2h3.2v3.2h-3.2zM1773.6 409.2h3.2v3.2h-3.2zM1856.8 409.2h3.2v3.2h-3.2zM1869.6 409.2h3.2v3.2h-3.2zM1440.8 412.4h3.2v3.2h-3.2zM1463.2 412.4h3.2v3.2h-3.2zM1501.6 412.4h3.2v3.2h-3.2zM1511.2 412.4h3.2v3.2h-3.2zM1626.4 412.4h3.2v3.2h-3.2zM1629.6 412.4h3.2v3.2h-3.2zM1639.2 412.4h3.2v3.2h-3.2zM1642.4 412.4h3.2v3.2h-3.2zM1661.6 412.4h3.2v3.2h-3.2zM1703.2 412.4h3.2v3.2h-3.2zM1770.4 412.4h3.2v3.2h-3.2zM1783.2 412.4h3.2v3.2h-3.2zM1856.8 412.4h3.2v3.2h-3.2zM1872.8 412.4h3.2v3.2h-3.2zM1415.2 415.6h3.2v3.2h-3.2zM1504.8 415.6h3.2v3.2h-3.2zM1508 415.6h3.2v3.2h-3.2zM1511.2 415.6h3.2v3.2h-3.2zM1540 415.6h3.2v3.2h-3.2zM1597.6 415.6h3.2v3.2h-3.2zM1620 415.6h3.2v3.2h-3.2zM1626.4 415.6h3.2v3.2h-3.2zM1652 415.6h3.2v3.2h-3.2zM1700 415.6h3.2v3.2h-3.2zM1712.8 415.6h3.2v3.2h-3.2zM1719.2 415.6h3.2v3.2h-3.2zM1764 415.6h3.2v3.2h-3.2zM1767.2 415.6h3.2v3.2h-3.2zM1770.4 415.6h3.2v3.2h-3.2zM1415.2 418.8h3.2v3.2h-3.2zM1424.8 418.8h3.2v3.2h-3.2zM1472.8 418.8h3.2v3.2h-3.2zM1501.6 418.8h3.2v3.2h-3.2zM1546.4 418.8h3.2v3.2h-3.2zM1591.2 418.8h3.2v3.2h-3.2zM1600.8 418.8h3.2v3.2h-3.2zM1700 418.8h3.2v3.2h-3.2zM1722.4 418.8h3.2v3.2h-3.2zM1725.6 418.8h3.2v3.2h-3.2zM1751.2 418.8h3.2v3.2h-3.2zM1754.4 418.8h3.2v3.2h-3.2zM1764 418.8h3.2v3.2h-3.2zM1834.4 418.8h3.2v3.2h-3.2zM1876 418.8h3.2v3.2h-3.2zM1888.8 418.8h3.2v3.2h-3.2zM1412 422h3.2v3.2h-3.2zM1463.2 422h3.2v3.2h-3.2zM1482.4 422h3.2v3.2h-3.2zM1504.8 422h3.2v3.2h-3.2zM1588 422h3.2v3.2h-3.2zM1636 422h3.2v3.2h-3.2zM1652 422h3.2v3.2h-3.2zM1709.6 422h3.2v3.2h-3.2zM1741.6 422h3.2v3.2h-3.2zM1799.2 422h3.2v3.2h-3.2zM1818.4 422h3.2v3.2h-3.2zM1869.6 422h3.2v3.2h-3.2zM1895.2 422h3.2v3.2h-3.2zM1901.6 422h3.2v3.2h-3.2zM1460 425.2h3.2v3.2h-3.2zM1498.4 425.2h3.2v3.2h-3.2zM1623.2 425.2h3.2v3.2h-3.2zM1626.4 425.2h3.2v3.2h-3.2zM1735.2 425.2h3.2v3.2h-3.2zM1738.4 425.2h3.2v3.2h-3.2zM1805.6 425.2h3.2v3.2h-3.2zM1895.2 425.2h3.2v3.2h-3.2zM1421.6 428.4h3.2v3.2h-3.2zM1440.8 428.4h3.2v3.2h-3.2zM1533.6 428.4h3.2v3.2h-3.2zM1588 428.4h3.2v3.2h-3.2zM1597.6 428.4h3.2v3.2h-3.2zM1607.2 428.4h3.2v3.2h-3.2zM1648.8 428.4h3.2v3.2h-3.2zM1674.4 428.4h3.2v3.2h-3.2zM1690.4 428.4h3.2v3.2h-3.2zM1831.2 428.4h3.2v3.2h-3.2zM1879.2 428.4h3.2v3.2h-3.2zM1456.8 431.6h3.2v3.2h-3.2zM1492 431.6h3.2v3.2h-3.2zM1498.4 431.6h3.2v3.2h-3.2zM1533.6 431.6h3.2v3.2h-3.2zM1536.8 431.6h3.2v3.2h-3.2zM1540 431.6h3.2v3.2h-3.2zM1584.8 431.6h3.2v3.2h-3.2zM1604 431.6h3.2v3.2h-3.2zM1616.8 431.6h3.2v3.2h-3.2zM1741.6 431.6h3.2v3.2h-3.2zM1751.2 431.6h3.2v3.2h-3.2zM1776.8 431.6h3.2v3.2h-3.2zM1812 431.6h3.2v3.2h-3.2zM1872.8 431.6h3.2v3.2h-3.2zM1888.8 431.6h3.2v3.2h-3.2zM1898.4 431.6h3.2v3.2h-3.2zM1527.2 434.8h3.2v3.2h-3.2zM1540 434.8h3.2v3.2h-3.2zM1588 434.8h3.2v3.2h-3.2zM1610.4 434.8h3.2v3.2h-3.2zM1632.8 434.8h3.2v3.2h-3.2zM1639.2 434.8h3.2v3.2h-3.2zM1645.6 434.8h3.2v3.2h-3.2zM1709.6 434.8h3.2v3.2h-3.2zM1735.2 434.8h3.2v3.2h-3.2zM1780 434.8h3.2v3.2h-3.2zM1818.4 434.8h3.2v3.2h-3.2zM1821.6 434.8h3.2v3.2h-3.2zM1869.6 434.8h3.2v3.2h-3.2zM1872.8 434.8h3.2v3.2h-3.2zM1876 434.8h3.2v3.2h-3.2zM1885.6 434.8h3.2v3.2h-3.2zM1498.4 438h3.2v3.2h-3.2zM1607.2 438h3.2v3.2h-3.2zM1620 438h3.2v3.2h-3.2zM1623.2 438h3.2v3.2h-3.2zM1626.4 438h3.2v3.2h-3.2zM1684 438h3.2v3.2h-3.2zM1700 438h3.2v3.2h-3.2zM1738.4 438h3.2v3.2h-3.2zM1802.4 438h3.2v3.2h-3.2zM1844 438h3.2v3.2h-3.2zM1860 438h3.2v3.2h-3.2zM1869.6 438h3.2v3.2h-3.2zM1908 438h3.2v3.2h-3.2zM1434.4 441.2h3.2v3.2h-3.2zM1437.6 441.2h3.2v3.2h-3.2zM1488.8 441.2h3.2v3.2h-3.2zM1581.6 441.2h3.2v3.2h-3.2zM1591.2 441.2h3.2v3.2h-3.2zM1623.2 441.2h3.2v3.2h-3.2zM1629.6 441.2h3.2v3.2h-3.2zM1645.6 441.2h3.2v3.2h-3.2zM1655.2 441.2h3.2v3.2h-3.2zM1664.8 441.2h3.2v3.2h-3.2zM1677.6 441.2h3.2v3.2h-3.2zM1687.2 441.2h3.2v3.2h-3.2zM1751.2 441.2h3.2v3.2h-3.2zM1764 441.2h3.2v3.2h-3.2zM1767.2 441.2h3.2v3.2h-3.2zM1776.8 441.2h3.2v3.2h-3.2zM1834.4 441.2h3.2v3.2h-3.2z"/>
<path fill="#0c760c" d="M1565.6 70h3.2v3.2h-3.2zM1594.4 70h3.2v3.2h-3.2zM1511.2 73.2h3.2v3.2h-3.2zM1530.4 73.2h3.2v3.2h-3.2zM1616.8 73.2h3.2v3.2h-3.2zM1789.6 73.2h3.2v3.2h-3.2zM1853.6 73.2h3.2v3.2h-3.2zM1696.8 76.4h3.2v3.2h-3.2zM1754.4 76.4h3.2v3.2h-3.2zM1514.4 79.6h3.2v3.2h-3.2zM1840.8 79.6h3.2v3.2h-3.2zM1863.2 79.6h3.2v3.2h-3.2zM1882.4 79.6h3.2v3.2h-3.2zM1508 82.8h3.2v3.2h-3.2zM1844 82.8h3.2v3.2h-3.2zM1444 86h3.2v3.2h-3.2zM1450.4 86h3.2v3.2h-3.2zM1680.8 86h3.2v3.2h-3.2zM1412 89.2h3.2v3.2h-3.2zM1437.6 89.2h3.2v3.2h-3.2zM1597.6 89.2h3.2v3.2h-3.2zM1728.8 89.2h3.2v3.2h-3.2zM1853.6 92.4h3.2v3.2h-3.2zM1901.6 92.4h3.2v3.2h-3.2zM1911.2 92.4h3.2v3.2h-3.2zM1424.8 95.6h3.2v3.2h-3.2zM1591.2 95.6h3.2v3.2h-3.2zM1664.8 98.8h3.2v3.2h-3.2zM1684 98.8h3.2v3.2h-3.2zM1706.4 98.8h3.2v3.2h-3.2zM1722.4 98.8h3.2v3.2h-3.2zM1885.6 98.8h3.2v3.2h-3.2zM1684 102h3.2v3.2h-3.2zM1434.4 105.2h3.2v3.2h-3.2zM1527.2 105.2h3.2v3.2h-3.2zM1725.6 105.2h3.2v3.2h-3.2zM1799.2 105.2h3.2v3.2h-3.2zM1911.2 105.2h3.2v3.2h-3.2zM1469.6 108.4h3.2v3.2h-3.2zM1485.6 108.4h3.2v3.2h-3.2zM1703.2 108.4h3.2v3.2h-3.2zM1741.6 114.8h3.2v3.2h-3.2zM1780 114.8h3.2v3.2h-3.2zM1840.8 118h3.2v3.2h-3.2zM1805.6 124.4h3.2v3.2h-3.2zM1479.2 127.6h3.2v3.2h-3.2zM1508 127.6h3.2v3.2h-3.2zM1616.8 127.6h3.2v3.2h-3.2zM1764 127.6h3.2v3.2h-3.2zM1412 130.8h3.2v3.2h-3.2zM1581.6 130.8h3.2v3.2h-3.2zM1610.4 137.2h3.2v3.2h-3.2zM1767.2 137.2h3.2v3.2h-3.2zM1418.4 140.4h3.2v3.2h-3.2zM1572 140.4h3.2v3.2h-3.2zM1488.8 143.6h3.2v3.2h-3.2zM1415.2 146.8h3.2v3.2h-3.2zM1837.6 146.8h3.2v3.2h-3.2zM1895.2 150h3.2v3.2h-3.2zM1514.4 153.2h3.2v3.2h-3.2zM1517.6 153.2h3.2v3.2h-3.2zM1540 156.4h3.2v3.2h-3.2zM1796 156.4h3.2v3.2h-3.2zM1898.4 156.4h3.2v3.2h-3.2zM1492 159.6h3.2v3.2h-3.2zM1514.4 159.6h3.2v3.2h-3.2zM1479.2 162.8h3.2v3.2h-3.2zM1591.2 162.8h3.2v3.2h-3.2zM1876 162.8h3.2v3.2h-3.2zM1860 166h3.2v3.2h-3.2zM1511.2 169.2h3.2v3.2h-3.2zM1860 169.2h3.2v3.2h-3.2zM1716 172.4h3.2v3.2h-3.2zM1892 172.4h3.2v3.2h-3.2zM1901.6 172.4h3.2v3.2h-3.2zM1437.6 175.6h3.2v3.2h-3.2zM1860 175.6h3.2v3.2h-3.2zM1444 178.8h3.2v3.2h-3.2zM1511.2 178.8h3.2v3.2h-3.2zM1556 178.8h3.2v3.2h-3.2zM1588 178.8h3.2v3.2h-3.2zM1421.6 182h3.2v3.2h-3.2zM1504.8 182h3.2v3.2h-3.2zM1623.2 182h3.2v3.2h-3.2zM1684 182h3.2v3.2h-3.2zM1789.6 182h3.2v3.2h-3.2zM1815.2 185.2h3.2v3.2h-3.2zM1860 185.2h3.2v3.2h-3.2zM1847.2 188.4h3.2v3.2h-3.2zM1812 191.6h3.2v3.2h-3.2zM1837.6 191.6h3.2v3.2h-3.2zM1434.4 194.8h3.2v3.2h-3.2zM1684 198h3.2v3.2h-3.2zM1847.2 198h3.2v3.2h-3.2zM1831.2 201.2h3.2v3.2h-3.2zM1460 204.4h3.2v3.2h-3.2zM1696.8 204.4h3.2v3.2h-3.2zM1808.8 204.4h3.2v3.2h-3.2zM1556 207.6h3.2v3.2h-3.2zM1588 210.8h3.2v3.2h-3.2zM1687.2 210.8h3.2v3.2h-3.2zM1520.8 214h3.2v3.2h-3.2zM1434.4 217.2h3.2v3.2h-3.2zM1517.6 217.2h3.2v3.2h-3.2zM1741.6 217.2h3.2v3.2h-3.2zM1533.6 223.6h3.2v3.2h-3.2zM1690.4 223.6h3.2v3.2h-3.2zM1415.2 226.8h3.2v3.2h-3.2zM1520.8 226.8h3.2v3.2h-3.2zM1530.4 226.8h3.2v3.2h-3.2zM1604 233.2h3.2v3.2h-3.2zM1725.6 233.2h3.2v3.2h-3.2zM1847.2 233.2h3.2v3.2h-3.2zM1626.4 236.4h3.2v3.2h-3.2zM1738.4 236.4h3.2v3.2h-3.2zM1783.2 236.4h3.2v3.2h-3.2zM1636 239.6h3.2v3.2h-3.2zM1668 239.6h3.2v3.2h-3.2zM1904.8 239.6h3.2v3.2h-3.2zM1578.4 242.8h3.2v3.2h-3.2zM1613.6 242.8h3.2v3.2h-3.2zM1636 242.8h3.2v3.2h-3.2zM1767.2 242.8h3.2v3.2h-3.2zM1869.6 242.8h3.2v3.2h-3.2zM1648.8 246h3.2v3.2h-3.2zM1741.6 249.2h3.2v3.2h-3.2zM1565.6 252.4h3.2v3.2h-3.2zM1607.2 252.4h3.2v3.2h-3.2zM1652 252.4h3.2v3.2h-3.2zM1482.4 255.6h3.2v3.2h-3.2zM1504.8 255.6h3.2v3.2h-3.2zM1508 258.8h3.2v3.2h-3.2zM1620 258.8h3.2v3.2h-3.2zM1876 258.8h3.2v3.2h-3.2zM1607.2 262h3.2v3.2h-3.2zM1818.4 262h3.2v3.2h-3.2zM1831.2 262h3.2v3.2h-3.2zM1837.6 262h3.2v3.2h-3.2zM1767.2 265.2h3.2v3.2h-3.2zM1680.8 268.4h3.2v3.2h-3.2zM1831.2 268.4h3.2v3.2h-3.2zM1866.4 268.4h3.2v3.2h-3.2zM1895.2 268.4h3.2v3.2h-3.2zM1709.6 271.6h3.2v3.2h-3.2zM1466.4 278h3.2v3.2h-3.2zM1495.2 278h3.2v3.2h-3.2zM1556 281.2h3.2v3.2h-3.2zM1472.8 284.4h3.2v3.2h-3.2zM1588 284.4h3.2v3.2h-3.2zM1700 284.4h3.2v3.2h-3.2zM1748 284.4h3.2v3.2h-3.2zM1783.2 284.4h3.2v3.2h-3.2zM1882.4 287.6h3.2v3.2h-3.2zM1591.2 290.8h3.2v3.2h-3.2zM1642.4 290.8h3.2v3.2h-3.2zM1840.8 290.8h3.2v3.2h-3.2zM1517.6 294h3.2v3.2h-3.2zM1703.2 294h3.2v3.2h-3.2zM1722.4 297.2h3.2v3.2h-3.2zM1738.4 300.4h3.2v3.2h-3.2zM1591.2 306.8h3.2v3.2h-3.2zM1639.2 306.8h3.2v3.2h-3.2zM1741.6 306.8h3.2v3.2h-3.2zM1850.4 306.8h3.2v3.2h-3.2zM1908 306.8h3.2v3.2h-3.2zM1543.2 313.2h3.2v3.2h-3.2zM1549.6 313.2h3.2v3.2h-3.2zM1604 313.2h3.2v3.2h-3.2zM1607.2 313.2h3.2v3.2h-3.2zM1636 313.2h3.2v3.2h-3.2zM1821.6 313.2h3.2v3.2h-3.2zM1453.6 316.4h3.2v3.2h-3.2zM1463.2 316.4h3.2v3.2h-3.2zM1879.2 316.4h3.2v3.2h-3.2zM1591.2 319.6h3.2v3.2h-3.2zM1620 319.6h3.2v3.2h-3.2zM1655.2 319.6h3.2v3.2h-3.2zM1741.6 319.6h3.2v3.2h-3.2zM1840.8 319.6h3.2v3.2h-3.2zM1511.2 322.8h3.2v3.2h-3.2zM1556 322.8h3.2v3.2h-3.2zM1712.8 322.8h3.2v3.2h-3.2zM1620 326h3.2v3.2h-3.2zM1655.2 326h3.2v3.2h-3.2zM1661.6 326h3.2v3.2h-3.2zM1719.2 326h3.2v3.2h-3.2zM1645.6 329.2h3.2v3.2h-3.2zM1869.6 332.4h3.2v3.2h-3.2zM1757.6 335.6h3.2v3.2h-3.2zM1479.2 338.8h3.2v3.2h-3.2zM1543.2 338.8h3.2v3.2h-3.2zM1703.2 338.8h3.2v3.2h-3.2zM1770.4 338.8h3.2v3.2h-3.2zM1418.4 342h3.2v3.2h-3.2zM1437.6 342h3.2v3.2h-3.2zM1818.4 342h3.2v3.2h-3.2zM1677.6 345.2h3.2v3.2h-3.2zM1421.6 348.4h3.2v3.2h-3.2zM1549.6 351.6h3.2v3.2h-3.2zM1552.8 351.6h3.2v3.2h-3.2zM1824.8 351.6h3.2v3.2h-3.2zM1856.8 351.6h3.2v3.2h-3.2zM1546.4 354.8h3.2v3.2h-3.2zM1661.6 354.8h3.2v3.2h-3.2zM1735.2 354.8h3.2v3.2h-3.2zM1802.4 354.8h3.2v3.2h-3.2zM1901.6 354.8h3.2v3.2h-3.2zM1492 358h3.2v3.2h-3.2zM1559.2 358h3.2v3.2h-3.2zM1597.6 358h3.2v3.2h-3.2zM1783.2 358h3.2v3.2h-3.2zM1853.6 361.2h3.2v3.2h-3.2zM1860 361.2h3.2v3.2h-3.2zM1872.8 364.4h3.2v3.2h-3.2zM1879.2 364.4h3.2v3.2h-3.2zM1424.8 367.6h3.2v3.2h-3.2zM1639.2 367.6h3.2v3.2h-3.2zM1700 367.6h3.2v3.2h-3.2zM1812 367.6h3.2v3.2h-3.2zM1815.2 367.6h3.2v3.2h-3.2zM1818.4 367.6h3.2v3.2h-3.2zM1853.6 367.6h3.2v3.2h-3.2zM1565.6 370.8h3.2v3.2h-3.2zM1703.2 370.8h3.2v3.2h-3.2zM1856.8 370.8h3.2v3.2h-3.2zM1895.2 370.8h3.2v3.2h-3.2zM1418.4 374h3.2v3.2h-3.2zM1815.2 374h3.2v3.2h-3.2zM1860 374h3.2v3.2h-3.2zM1904.8 374h3.2v3.2h-3.2zM1498.4 377.2h3.2v3.2h-3.2zM1725.6 377.2h3.2v3.2h-3.2zM1767.2 377.2h3.2v3.2h-3.2zM1575.2 380.4h3.2v3.2h-3.2zM1741.6 380.4h3.2v3.2h-3.2zM1808.8 380.4h3.2v3.2h-3.2zM1853.6 380.4h3.2v3.2h-3.2zM1904.8 380.4h3.2v3.2h-3.2zM1706.4 383.6h3.2v3.2h-3.2zM1789.6 383.6h3.2v3.2h-3.2zM1808.8 383.6h3.2v3.2h-3.2zM1847.2 383.6h3.2v3.2h-3.2zM1863.2 383.6h3.2v3.2h-3.2zM1648.8 386.8h3.2v3.2h-3.2zM1706.4 386.8h3.2v3.2h-3.2zM1799.2 386.8h3.2v3.2h-3.2zM1879.2 386.8h3.2v3.2h-3.2zM1517.6 390h3.2v3.2h-3.2zM1540 390h3.2v3.2h-3.2zM1648.8 390h3.2v3.2h-3.2zM1815.2 390h3.2v3.2h-3.2zM1895.2 390h3.2v3.2h-3.2zM1424.8 393.2h3.2v3.2h-3.2zM1581.6 393.2h3.2v3.2h-3.2zM1709.6 393.2h3.2v3.2h-3.2zM1725.6 393.2h3.2v3.2h-3.2zM1472.8 399.6h3.2v3.2h-3.2zM1495.2 399.6h3.2v3.2h-3.2zM1684 399.6h3.2v3.2h-3.2zM1690.4 399.6h3.2v3.2h-3.2zM1693.6 399.6h3.2v3.2h-3.2zM1719.2 399.6h3.2v3.2h-3.2zM1834.4 399.6h3.2v3.2h-3.2zM1847.2 399.6h3.2v3.2h-3.2zM1856.8 399.6h3.2v3.2h-3.2zM1892 399.6h3.2v3.2h-3.2zM1434.4 402.8h3.2v3.2h-3.2zM1786.4 402.8h3.2v3.2h-3.2zM1837.6 402.8h3.2v3.2h-3.2zM1876 402.8h3.2v3.2h-3.2zM1882.4 402.8h3.2v3.2h-3.2zM1492 406h3.2v3.2h-3.2zM1517.6 406h3.2v3.2h-3.2zM1578.4 406h3.2v3.2h-3.2zM1594.4 406h3.2v3.2h-3.2zM1597.6 406h3.2v3.2h-3.2zM1658.4 406h3.2v3.2h-3.2zM1668 406h3.2v3.2h-3.2zM1690.4 406h3.2v3.2h-3.2zM1693.6 406h3.2v3.2h-3.2zM1703.2 406h3.2v3.2h-3.2zM1719.2 406h3.2v3.2h-3.2zM1744.8 406h3.2v3.2h-3.2zM1780 406h3.2v3.2h-3.2zM1847.2 406h3.2v3.2h-3.2zM1428 409.2h3.2v3.2h-3.2zM1437.6 409.2h3.2v3.2h-3.2zM1440.8 409.2h3.2v3.2h-3.2zM1469.6 409.2h3.2v3.2h-3.2zM1476 409.2h3.2v3.2h-3.2zM1492 409.2h3.2v3.2h-3.2zM1575.2 409.2h3.2v3.2h-3.2zM1668 409.2h3.2v3.2h-3.2zM1674.4 409.2h3.2v3.2h-3.2zM1780 409.2h3.2v3.2h-3.2zM1834.4 409.2h3.2v3.2h-3.2zM1898.4 409.2h3.2v3.2h-3.2zM1418.4 412.4h3.2v3.2h-3.2zM1476 412.4h3.2v3.2h-3.2zM1648.8 412.4h3.2v3.2h-3.2zM1658.4 412.4h3.2v3.2h-3.2zM1847.2 412.4h3.2v3.2h-3.2zM1447.2 415.6h3.2v3.2h-3.2zM1607.2 415.6h3.2v3.2h-3.2zM1632.8 415.6h3.2v3.2h-3.2zM1648.8 415.6h3.2v3.2h-3.2zM1754.4 415.6h3.2v3.2h-3.2zM1828 415.6h3.2v3.2h-3.2zM1447.2 418.8h3.2v3.2h-3.2zM1572 418.8h3.2v3.2h-3.2zM1584.8 418.8h3.2v3.2h-3.2zM1597.6 418.8h3.2v3.2h-3.2zM1607.2 418.8h3.2v3.2h-3.2zM1613.6 418.8h3.2v3.2h-3.2zM1642.4 418.8h3.2v3.2h-3.2zM1664.8 418.8h3.2v3.2h-3.2zM1684 418.8h3.2v3.2h-3.2zM1696.8 418.8h3.2v3.2h-3.2zM1853.6 418.8h3.2v3.2h-3.2zM1421.6 422h3.2v3.2h-3.2zM1488.8 422h3.2v3.2h-3.2zM1594.4 422h3.2v3.2h-3.2zM1623.2 422h3.2v3.2h-3.2zM1661.6 422h3.2v3.2h-3.2zM1684 422h3.2v3.2h-3.2zM1716 422h3.2v3.2h-3.2zM1783.2 422h3.2v3.2h-3.2zM1834.4 422h3.2v3.2h-3.2zM1466.4 425.2h3.2v3.2h-3.2zM1488.8 425.2h3.2v3.2h-3.2zM1536.8 425.2h3.2v3.2h-3.2zM1546.4 425.2h3.2v3.2h-3.2zM1597.6 425.2h3.2v3.2h-3.2zM1648.8 425.2h3.2v3.2h-3.2zM1661.6 425.2h3.2v3.2h-3.2zM1773.6 425.2h3.2v3.2h-3.2zM1818.4 425.2h3.2v3.2h-3.2zM1821.6 425.2h3.2v3.2h-3.2zM1508 428.4h3.2v3.2h-3.2zM1543.2 428.4h3.2v3.2h-3.2zM1559.2 428.4h3.2v3.2h-3.2zM1565.6 428.4h3.2v3.2h-3.2zM1591.2 428.4h3.2v3.2h-3.2zM1613.6 428.4h3.2v3.2h-3.2zM1642.4 428.4h3.2v3.2h-3.2zM1658.4 428.4h3.2v3.2h-3.2zM1677.6 428.4h3.2v3.2h-3.2zM1696.8 428.4h3.2v3.2h-3.2zM1776.8 428.4h3.2v3.2h-3.2zM1799.2 428.4h3.2v3.2h-3.2zM1508 431.6h3.2v3.2h-3.2zM1530.4 431.6h3.2v3.2h-3.2zM1562.4 431.6h3.2v3.2h-3.2zM1578.4 431.6h3.2v3.2h-3.2zM1588 431.6h3.2v3.2h-3.2zM1632.8 431.6h3.2v3.2h-3.2zM1677.6 431.6h3.2v3.2h-3.2zM1706.4 431.6h3.2v3.2h-3.2zM1719.2 431.6h3.2v3.2h-3.2zM1725.6 431.6h3.2v3.2h-3.2zM1744.8 431.6h3.2v3.2h-3.2zM1754.4 431.6h3.2v3.2h-3.2zM1757.6 431.6h3.2v3.2h-3.2zM1828 431.6h3.2v3.2h-3.2zM1831.2 431.6h3.2v3.2h-3.2zM1837.6 431.6h3.2v3.2h-3.2zM1911.2 431.6h3.2v3.2h-3.2zM1456.8 434.8h3.2v3.2h-3.2zM1488.8 434.8h3.2v3.2h-3.2zM1575.2 434.8h3.2v3.2h-3.2zM1623.2 434.8h3.2v3.2h-3.2zM1648.8 434.8h3.2v3.2h-3.2zM1661.6 434.8h3.2v3.2h-3.2zM1703.2 434.8h3.2v3.2h-3.2zM1786.4 434.8h3.2v3.2h-3.2zM1856.8 434.8h3.2v3.2h-3.2zM1892 434.8h3.2v3.2h-3.2zM1527.2 438h3.2v3.2h-3.2zM1552.8 438h3.2v3.2h-3.2zM1632.8 438h3.2v3.2h-3.2zM1636 438h3.2v3.2h-3.2zM1658.4 438h3.2v3.2h-3.2zM1671.2 438h3.2v3.2h-3.2zM1712.8 438h3.2v3.2h-3.2zM1725.6 438h3.2v3.2h-3.2zM1748 438h3.2v3.2h-3.2zM1751.2 438h3.2v3.2h-3.2zM1824.8 438h3.2v3.2h-3.2zM1828 438h3.2v3.2h-3.2zM1418.4 441.2h3.2v3.2h-3.2zM1520.8 441.2h3.2v3.2h-3.2zM1546.4 441.2h3.2v3.2h-3.2zM1565.6 441.2h3.2v3.2h-3.2zM1604 441.2h3.2v3.2h-3.2zM1652 441.2h3.2v3.2h-3.2zM1661.6 441.2h3.2v3.2h-3.2zM1671.2 441.2h3.2v3.2h-3.2zM1680.8 441.2h3.2v3.2h-3.2zM1690.4 441.2h3.2v3.2h-3.2zM1831.2 441.2h3.2v3.2h-3.2z"/>
<path fill="#10a010" d="M1556 70h3.2v3.2h-3.2zM1773.6 70h3.2v3.2h-3.2zM1472.8 73.2h3.2v3.2h-3.2zM1504.8 73.2h3.2v3.2h-3.2zM1568.8 73.2h3.2v3.2h-3.2zM1421.6 76.4h3.2v3.2h-3.2zM1552.8 76.4h3.2v3.2h-3.2zM1488.8 79.6h3.2v3.2h-3.2zM1492 79.6h3.2v3.2h-3.2zM1844 79.6h3.2v3.2h-3.2zM1431.2 82.8h3.2v3.2h-3.2zM1434.4 82.8h3.2v3.2h-3.2zM1668 82.8h3.2v3.2h-3.2zM1805.6 82.8h3.2v3.2h-3.2zM1866.4 82.8h3.2v3.2h-3.2zM1872.8 82.8h3.2v3.2h-3.2zM1696.8 86h3.2v3.2h-3.2zM1885.6 86h3.2v3.2h-3.2zM1834.4 89.2h3.2v3.2h-3.2zM1888.8 89.2h3.2v3.2h-3.2zM1792.8 92.4h3.2v3.2h-3.2zM1834.4 92.4h3.2v3.2h-3.2zM1581.6 95.6h3.2v3.2h-3.2zM1815.2 95.6h3.2v3.2h-3.2zM1412 98.8h3.2v3.2h-3.2zM1687.2 102h3.2v3.2h-3.2zM1466.4 105.2h3.2v3.2h-3.2zM1536.8 105.2h3.2v3.2h-3.2zM1588 105.2h3.2v3.2h-3.2zM1757.6 105.2h3.2v3.2h-3.2zM1888.8 105.2h3.2v3.2h-3.2zM1434.4 108.4h3.2v3.2h-3.2zM1735.2 108.4h3.2v3.2h-3.2zM1591.2 111.6h3.2v3.2h-3.2zM1668 111.6h3.2v3.2h-3.2zM1751.2 111.6h3.2v3.2h-3.2zM1802.4 111.6h3.2v3.2h-3.2zM1584.8 114.8h3.2v3.2h-3.2zM1885.6 114.8h3.2v3.2h-3.2zM1488.8 118h3.2v3.2h-3.2zM1693.6 118h3.2v3.2h-3.2zM1738.4 118h3.2v3.2h-3.2zM1914.4 118h3.2v3.2h-3.2zM1524 121.2h3.2v3.2h-3.2zM1904.8 121.2h3.2v3.2h-3.2zM1575.2 124.4h3.2v3.2h-3.2zM1728.8 124.4h3.2v3.2h-3.2zM1639.2 127.6h3.2v3.2h-3.2zM1709.6 127.6h3.2v3.2h-3.2zM1844 127.6h3.2v3.2h-3.2zM1776.8 130.8h3.2v3.2h-3.2zM1831.2 130.8h3.2v3.2h-3.2zM1460 134h3.2v3.2h-3.2zM1495.2 134h3.2v3.2h-3.2zM1498.4 134h3.2v3.2h-3.2zM1565.6 134h3.2v3.2h-3.2zM1568.8 134h3.2v3.2h-3.2zM1716 134h3.2v3.2h-3.2zM1844 134h3.2v3.2h-3.2zM1556 137.2h3.2v3.2h-3.2zM1700 137.2h3.2v3.2h-3.2zM1719.2 137.2h3.2v3.2h-3.2zM1786.4 140.4h3.2v3.2h-3.2zM1444 143.6h3.2v3.2h-3.2zM1588 143.6h3.2v3.2h-3.2zM1639.2 143.6h3.2v3.2h-3.2zM1444 146.8h3.2v3.2h-3.2zM1447.2 146.8h3.2v3.2h-3.2zM1831.2 146.8h3.2v3.2h-3.2zM1684 150h3.2v3.2h-3.2zM1415.2 156.4h3.2v3.2h-3.2zM1572 156.4h3.2v3.2h-3.2zM1687.2 156.4h3.2v3.2h-3.2zM1709.6 156.4h3.2v3.2h-3.2zM1632.8 159.6h3.2v3.2h-3.2zM1831.2 159.6h3.2v3.2h-3.2zM1581.6 162.8h3.2v3.2h-3.2zM1732 162.8h3.2v3.2h-3.2zM1636 166h3.2v3.2h-3.2zM1901.6 166h3.2v3.2h-3.2zM1440.8 169.2h3.2v3.2h-3.2zM1514.4 169.2h3.2v3.2h-3.2zM1588 169.2h3.2v3.2h-3.2zM1764 169.2h3.2v3.2h-3.2zM1645.6 172.4h3.2v3.2h-3.2zM1664.8 175.6h3.2v3.2h-3.2zM1712.8 178.8h3.2v3.2h-3.2zM1722.4 178.8h3.2v3.2h-3.2zM1412 182h3.2v3.2h-3.2zM1453.6 182h3.2v3.2h-3.2zM1847.2 182h3.2v3.2h-3.2zM1914.4 182h3.2v3.2h-3.2zM1568.8 185.2h3.2v3.2h-3.2zM1770.4 185.2h3.2v3.2h-3.2zM1415.2 188.4h3.2v3.2h-3.2zM1424.8 188.4h3.2v3.2h-3.2zM1780 191.6h3.2v3.2h-3.2zM1476 194.8h3.2v3.2h-3.2zM1770.4 194.8h3.2v3.2h-3.2zM1431.2 198h3.2v3.2h-3.2zM1664.8 198h3.2v3.2h-3.2zM1885.6 198h3.2v3.2h-3.2zM1892 198h3.2v3.2h-3.2zM1639.2 204.4h3.2v3.2h-3.2zM1671.2 204.4h3.2v3.2h-3.2zM1431.2 207.6h3.2v3.2h-3.2zM1728.8 207.6h3.2v3.2h-3.2zM1764 207.6h3.2v3.2h-3.2zM1562.4 210.8h3.2v3.2h-3.2zM1584.8 210.8h3.2v3.2h-3.2zM1600.8 210.8h3.2v3.2h-3.2zM1776.8 210.8h3.2v3.2h-3.2zM1892 210.8h3.2v3.2h-3.2zM1440.8 214h3.2v3.2h-3.2zM1677.6 214h3.2v3.2h-3.2zM1607.2 217.2h3.2v3.2h-3.2zM1572 220.4h3.2v3.2h-3.2zM1463.2 223.6h3.2v3.2h-3.2zM1674.4 223.6h3.2v3.2h-3.2zM1776.8 223.6h3.2v3.2h-3.2zM1444 230h3.2v3.2h-3.2zM1789.6 239.6h3.2v3.2h-3.2zM1466.4 246h3.2v3.2h-3.2zM1610.4 246h3.2v3.2h-3.2zM1722.4 246h3.2v3.2h-3.2zM1495.2 249.2h3.2v3.2h-3.2zM1706.4 249.2h3.2v3.2h-3.2zM1716 249.2h3.2v3.2h-3.2zM1572 252.4h3.2v3.2h-3.2zM1808.8 255.6h3.2v3.2h-3.2zM1607.2 258.8h3.2v3.2h-3.2zM1684 258.8h3.2v3.2h-3.2zM1828 258.8h3.2v3.2h-3.2zM1440.8 262h3.2v3.2h-3.2zM1447.2 262h3.2v3.2h-3.2zM1559.2 265.2h3.2v3.2h-3.2zM1588 265.2h3.2v3.2h-3.2zM1799.2 265.2h3.2v3.2h-3.2zM1460 268.4h3.2v3.2h-3.2zM1741.6 268.4h3.2v3.2h-3.2zM1511.2 271.6h3.2v3.2h-3.2zM1524 274.8h3.2v3.2h-3.2zM1767.2 274.8h3.2v3.2h-3.2zM1834.4 274.8h3.2v3.2h-3.2zM1460 278h3.2v3.2h-3.2zM1898.4 278h3.2v3.2h-3.2zM1700 281.2h3.2v3.2h-3.2zM1632.8 284.4h3.2v3.2h-3.2zM1680.8 287.6h3.2v3.2h-3.2zM1741.6 287.6h3.2v3.2h-3.2zM1540 294h3.2v3.2h-3.2zM1607.2 294h3.2v3.2h-3.2zM1620 294h3.2v3.2h-3.2zM1773.6 294h3.2v3.2h-3.2zM1895.2 294h3.2v3.2h-3.2zM1469.6 297.2h3.2v3.2h-3.2zM1568.8 297.2h3.2v3.2h-3.2zM1757.6 297.2h3.2v3.2h-3.2zM1463.2 300.4h3.2v3.2h-3.2zM1517.6 300.4h3.2v3.2h-3.2zM1773.6 300.4h3.2v3.2h-3.2zM1895.2 300.4h3.2v3.2h-3.2zM1648.8 303.6h3.2v3.2h-3.2zM1626.4 306.8h3.2v3.2h-3.2zM1853.6 306.8h3.2v3.2h-3.2zM1607.2 310h3.2v3.2h-3.2zM1719.2 313.2h3.2v3.2h-3.2zM1469.6 316.4h3.2v3.2h-3.2zM1565.6 316.4h3.2v3.2h-3.2zM1776.8 316.4h3.2v3.2h-3.2zM1508 319.6h3.2v3.2h-3.2zM1514.4 329.2h3.2v3.2h-3.2zM1831.2 329.2h3.2v3.2h-3.2zM1901.6 329.2h3.2v3.2h-3.2zM1735.2 332.4h3.2v3.2h-3.2zM1770.4 332.4h3.2v3.2h-3.2zM1648.8 335.6h3.2v3.2h-3.2zM1520.8 338.8h3.2v3.2h-3.2zM1527.2 338.8h3.2v3.2h-3.2zM1709.6 338.8h3.2v3.2h-3.2zM1424.8 342h3.2v3.2h-3.2zM1680.8 342h3.2v3.2h-3.2zM1639.2 345.2h3.2v3.2h-3.2zM1482.4 348.4h3.2v3.2h-3.2zM1527.2 348.4h3.2v3.2h-3.2zM1546.4 348.4h3.2v3.2h-3.2zM1732 348.4h3.2v3.2h-3.2zM1847.2 348.4h3.2v3.2h-3.2zM1488.8 351.6h3.2v3.2h-3.2zM1572 351.6h3.2v3.2h-3.2zM1463.2 354.8h3.2v3.2h-3.2zM1821.6 354.8h3.2v3.2h-3.2zM1690.4 358h3.2v3.2h-3.2zM1725.6 358h3.2v3.2h-3.2zM1812 358h3.2v3.2h-3.2zM1876 358h3.2v3.2h-3.2zM1818.4 361.2h3.2v3.2h-3.2zM1866.4 361.2h3.2v3.2h-3.2zM1671.2 364.4h3.2v3.2h-3.2zM1824.8 367.6h3.2v3.2h-3.2zM1888.8 367.6h3.2v3.2h-3.2zM1460 370.8h3.2v3.2h-3.2zM1520.8 370.8h3.2v3.2h-3.2zM1607.2 370.8h3.2v3.2h-3.2zM1725.6 370.8h3.2v3.2h-3.2zM1732 370.8h3.2v3.2h-3.2zM1424.8 374h3.2v3.2h-3.2zM1447.2 374h3.2v3.2h-3.2zM1632.8 374h3.2v3.2h-3.2zM1639.2 374h3.2v3.2h-3.2zM1869.6 374h3.2v3.2h-3.2zM1421.6 377.2h3.2v3.2h-3.2zM1476 377.2h3.2v3.2h-3.2zM1661.6 377.2h3.2v3.2h-3.2zM1764 377.2h3.2v3.2h-3.2zM1853.6 377.2h3.2v3.2h-3.2zM1732 380.4h3.2v3.2h-3.2zM1802.4 380.4h3.2v3.2h-3.2zM1821.6 380.4h3.2v3.2h-3.2zM1834.4 380.4h3.2v3.2h-3.2zM1840.8 380.4h3.2v3.2h-3.2zM1850.4 380.4h3.2v3.2h-3.2zM1869.6 380.4h3.2v3.2h-3.2zM1719.2 383.6h3.2v3.2h-3.2zM1744.8 383.6h3.2v3.2h-3.2zM1904.8 383.6h3.2v3.2h-3.2zM1693.6 386.8h3.2v3.2h-3.2zM1780 386.8h3.2v3.2h-3.2zM1808.8 386.8h3.2v3.2h-3.2zM1866.4 386.8h3.2v3.2h-3.2zM1869.6 386.8h3.2v3.2h-3.2zM1898.4 386.8h3.2v3.2h-3.2zM1472.8 390h3.2v3.2h-3.2zM1514.4 390h3.2v3.2h-3.2zM1805.6 390h3.2v3.2h-3.2zM1812 390h3.2v3.2h-3.2zM1834.4 390h3.2v3.2h-3.2zM1908 390h3.2v3.2h-3.2zM1447.2 393.2h3.2v3.2h-3.2zM1476 396.4h3.2v3.2h-3.2zM1664.8 396.4h3.2v3.2h-3.2zM1712.8 396.4h3.2v3.2h-3.2zM1872.8 396.4h3.2v3.2h-3.2zM1520.8 399.6h3.2v3.2h-3.2zM1837.6 399.6h3.2v3.2h-3.2zM1546.4 402.8h3.2v3.2h-3.2zM1661.6 402.8h3.2v3.2h-3.2zM1690.4 402.8h3.2v3.2h-3.2zM1751.2 402.8h3.2v3.2h-3.2zM1831.2 402.8h3.2v3.2h-3.2zM1840.8 402.8h3.2v3.2h-3.2zM1424.8 406h3.2v3.2h-3.2zM1466.4 406h3.2v3.2h-3.2zM1565.6 406h3.2v3.2h-3.2zM1584.8 406h3.2v3.2h-3.2zM1620 406h3.2v3.2h-3.2zM1664.8 406h3.2v3.2h-3.2zM1767.2 406h3.2v3.2h-3.2zM1479.2 409.2h3.2v3.2h-3.2zM1568.8 409.2h3.2v3.2h-3.2zM1588 409.2h3.2v3.2h-3.2zM1597.6 409.2h3.2v3.2h-3.2zM1607.2 409.2h3.2v3.2h-3.2zM1648.8 409.2h3.2v3.2h-3.2zM1652 409.2h3.2v3.2h-3.2zM1671.2 409.2h3.2v3.2h-3.2zM1706.4 409.2h3.2v3.2h-3.2zM1757.6 409.2h3.2v3.2h-3.2zM1847.2 409.2h3.2v3.2h-3.2zM1853.6 409.2h3.2v3.2h-3.2zM1914.4 409.2h3.2v3.2h-3.2zM1447.2 412.4h3.2v3.2h-3.2zM1453.6 412.4h3.2v3.2h-3.2zM1565.6 412.4h3.2v3.2h-3.2zM1578.4 412.4h3.2v3.2h-3.2zM1600.8 412.4h3.2v3.2h-3.2zM1620 412.4h3.2v3.2h-3.2zM1700 412.4h3.2v3.2h-3.2zM1709.6 412.4h3.2v3.2h-3.2zM1754.4 412.4h3.2v3.2h-3.2zM1450.4 415.6h3.2v3.2h-3.2zM1536.8 415.6h3.2v3.2h-3.2zM1568.8 415.6h3.2v3.2h-3.2zM1575.2 415.6h3.2v3.2h-3.2zM1578.4 415.6h3.2v3.2h-3.2zM1636 415.6h3.2v3.2h-3.2zM1674.4 415.6h3.2v3.2h-3.2zM1482.4 418.8h3.2v3.2h-3.2zM1578.4 418.8h3.2v3.2h-3.2zM1594.4 418.8h3.2v3.2h-3.2zM1668 418.8h3.2v3.2h-3.2zM1738.4 418.8h3.2v3.2h-3.2zM1744.8 418.8h3.2v3.2h-3.2zM1796 418.8h3.2v3.2h-3.2zM1847.2 418.8h3.2v3.2h-3.2zM1869.6 418.8h3.2v3.2h-3.2zM1879.2 418.8h3.2v3.2h-3.2zM1892 418.8h3.2v3.2h-3.2zM1527.2 422h3.2v3.2h-3.2zM1536.8 422h3.2v3.2h-3.2zM1546.4 422h3.2v3.2h-3.2zM1584.8 422h3.2v3.2h-3.2zM1664.8 422h3.2v3.2h-3.2zM1693.6 422h3.2v3.2h-3.2zM1725.6 422h3.2v3.2h-3.2zM1735.2 422h3.2v3.2h-3.2zM1780 422h3.2v3.2h-3.2zM1840.8 422h3.2v3.2h-3.2zM1885.6 422h3.2v3.2h-3.2zM1492 425.2h3.2v3.2h-3.2zM1533.6 425.2h3.2v3.2h-3.2zM1620 425.2h3.2v3.2h-3.2zM1632.8 425.2h3.2v3.2h-3.2zM1703.2 425.2h3.2v3.2h-3.2zM1706.4 425.2h3.2v3.2h-3.2zM1709.6 425.2h3.2v3.2h-3.2zM1725.6 425.2h3.2v3.2h-3.2zM1754.4 425.2h3.2v3.2h-3.2zM1453.6 428.4h3.2v3.2h-3.2zM1466.4 428.4h3.2v3.2h-3.2zM1514.4 428.4h3.2v3.2h-3.2zM1546.4 428.4h3.2v3.2h-3.2zM1581.6 428.4h3.2v3.2h-3.2zM1604 428.4h3.2v3.2h-3.2zM1610.4 428.4h3.2v3.2h-3.2zM1786.4 428.4h3.2v3.2h-3.2zM1792.8 428.4h3.2v3.2h-3.2zM1504.8 431.6h3.2v3.2h-3.2zM1552.8 431.6h3.2v3.2h-3.2zM1600.8 431.6h3.2v3.2h-3.2zM1613.6 431.6h3.2v3.2h-3.2zM1620 431.6h3.2v3.2h-3.2zM1639.2 431.6h3.2v3.2h-3.2zM1645.6 431.6h3.2v3.2h-3.2zM1668 431.6h3.2v3.2h-3.2zM1674.4 431.6h3.2v3.2h-3.2zM1684 431.6h3.2v3.2h-3.2zM1783.2 431.6h3.2v3.2h-3.2zM1808.8 431.6h3.2v3.2h-3.2zM1856.8 431.6h3.2v3.2h-3.2zM1892 431.6h3.2v3.2h-3.2zM1901.6 431.6h3.2v3.2h-3.2zM1479.2 434.8h3.2v3.2h-3.2zM1495.2 434.8h3.2v3.2h-3.2zM1514.4 434.8h3.2v3.2h-3.2zM1524 434.8h3.2v3.2h-3.2zM1549.6 434.8h3.2v3.2h-3.2zM1600.8 434.8h3.2v3.2h-3.2zM1607.2 434.8h3.2v3.2h-3.2zM1616.8 434.8h3.2v3.2h-3.2zM1620 434.8h3.2v3.2h-3.2zM1636 434.8h3.2v3.2h-3.2zM1684 434.8h3.2v3.2h-3.2zM1687.2 434.8h3.2v3.2h-3.2zM1744.8 434.8h3.2v3.2h-3.2zM1748 434.8h3.2v3.2h-3.2zM1783.2 434.8h3.2v3.2h-3.2zM1879.2 434.8h3.2v3.2h-3.2zM1437.6 438h3.2v3.2h-3.2zM1463.2 438h3.2v3.2h-3.2zM1472.8 438h3.2v3.2h-3.2zM1492 438h3.2v3.2h-3.2zM1520.8 438h3.2v3.2h-3.2zM1652 438h3.2v3.2h-3.2zM1882.4 438h3.2v3.2h-3.2zM1517.6 441.2h3.2v3.2h-3.2zM1527.2 441.2h3.2v3.2h-3.2zM1552.8 441.2h3.2v3.2h-3.2zM1610.4 441.2h3.2v3.2h-3.2zM1616.8 441.2h3.2v3.2h-3.2zM1648.8 441.2h3.2v3.2h-3.2zM1668 441.2h3.2v3.2h-3.2zM1709.6 441.2h3.2v3.2h-3.2zM1719.2 441.2h3.2v3.2h-3.2zM1725.6 441.2h3.2v3.2h-3.2zM1796 441.2h3.2v3.2h-3.2z"/>
<path fill="#18cc18" d="M1572 95.6h3.2v3.2h-3.2zM1719.2 95.6h3.2v3.2h-3.2zM1440.8 118h3.2v3.2h-3.2zM1792.8 118h3.2v3.2h-3.2zM1738.4 242.8h3.2v3.2h-3.2zM1600.8 252.4h3.2v3.2h-3.2zM1895.2 278h3.2v3.2h-3.2zM1869.6 326h3.2v3.2h-3.2zM1706.4 342h3.2v3.2h-3.2zM1840.8 348.4h3.2v3.2h-3.2zM1895.2 351.6h3.2v3.2h-3.2zM1872.8 361.2h3.2v3.2h-3.2zM1805.6 367.6h3.2v3.2h-3.2zM1837.6 367.6h3.2v3.2h-3.2zM1840.8 367.6h3.2v3.2h-3.2zM1844 367.6h3.2v3.2h-3.2zM1879.2 367.6h3.2v3.2h-3.2zM1895.2 367.6h3.2v3.2h-3.2zM1412 370.8h3.2v3.2h-3.2zM1818.4 370.8h3.2v3.2h-3.2zM1840.8 370.8h3.2v3.2h-3.2zM1853.6 370.8h3.2v3.2h-3.2zM1847.2 374h3.2v3.2h-3.2zM1805.6 377.2h3.2v3.2h-3.2zM1844 377.2h3.2v3.2h-3.2zM1511.2 380.4h3.2v3.2h-3.2zM1607.2 380.4h3.2v3.2h-3.2zM1738.4 380.4h3.2v3.2h-3.2zM1828 380.4h3.2v3.2h-3.2zM1837.6 380.4h3.2v3.2h-3.2zM1844 380.4h3.2v3.2h-3.2zM1738.4 383.6h3.2v3.2h-3.2zM1741.6 383.6h3.2v3.2h-3.2zM1770.4 383.6h3.2v3.2h-3.2zM1818.4 383.6h3.2v3.2h-3.2zM1850.4 383.6h3.2v3.2h-3.2zM1725.6 386.8h3.2v3.2h-3.2zM1760.8 386.8h3.2v3.2h-3.2zM1818.4 386.8h3.2v3.2h-3.2zM1722.4 390h3.2v3.2h-3.2zM1802.4 390h3.2v3.2h-3.2zM1840.8 390h3.2v3.2h-3.2zM1860 393.2h3.2v3.2h-3.2zM1802.4 396.4h3.2v3.2h-3.2zM1831.2 396.4h3.2v3.2h-3.2zM1706.4 399.6h3.2v3.2h-3.2zM1479.2 406h3.2v3.2h-3.2zM1623.2 406h3.2v3.2h-3.2zM1725.6 406h3.2v3.2h-3.2zM1908 406h3.2v3.2h-3.2zM1472.8 409.2h3.2v3.2h-3.2zM1540 409.2h3.2v3.2h-3.2zM1556 409.2h3.2v3.2h-3.2zM1632.8 409.2h3.2v3.2h-3.2zM1741.6 409.2h3.2v3.2h-3.2zM1792.8 409.2h3.2v3.2h-3.2zM1828 409.2h3.2v3.2h-3.2zM1831.2 409.2h3.2v3.2h-3.2zM1575.2 412.4h3.2v3.2h-3.2zM1581.6 412.4h3.2v3.2h-3.2zM1604 412.4h3.2v3.2h-3.2zM1690.4 412.4h3.2v3.2h-3.2zM1696.8 412.4h3.2v3.2h-3.2zM1808.8 412.4h3.2v3.2h-3.2zM1812 412.4h3.2v3.2h-3.2zM1520.8 415.6h3.2v3.2h-3.2zM1604 415.6h3.2v3.2h-3.2zM1661.6 415.6h3.2v3.2h-3.2zM1671.2 415.6h3.2v3.2h-3.2zM1885.6 415.6h3.2v3.2h-3.2zM1895.2 415.6h3.2v3.2h-3.2zM1504.8 418.8h3.2v3.2h-3.2zM1652 418.8h3.2v3.2h-3.2zM1655.2 418.8h3.2v3.2h-3.2zM1693.6 418.8h3.2v3.2h-3.2zM1898.4 418.8h3.2v3.2h-3.2zM1904.8 418.8h3.2v3.2h-3.2zM1418.4 422h3.2v3.2h-3.2zM1456.8 422h3.2v3.2h-3.2zM1517.6 422h3.2v3.2h-3.2zM1572 422h3.2v3.2h-3.2zM1610.4 422h3.2v3.2h-3.2zM1648.8 422h3.2v3.2h-3.2zM1703.2 422h3.2v3.2h-3.2zM1728.8 422h3.2v3.2h-3.2zM1837.6 422h3.2v3.2h-3.2zM1850.4 422h3.2v3.2h-3.2zM1853.6 422h3.2v3.2h-3.2zM1514.4 425.2h3.2v3.2h-3.2zM1584.8 425.2h3.2v3.2h-3.2zM1600.8 425.2h3.2v3.2h-3.2zM1629.6 425.2h3.2v3.2h-3.2zM1668 425.2h3.2v3.2h-3.2zM1716 425.2h3.2v3.2h-3.2zM1764 425.2h3.2v3.2h-3.2zM1786.4 425.2h3.2v3.2h-3.2zM1476 428.4h3.2v3.2h-3.2zM1492 428.4h3.2v3.2h-3.2zM1517.6 428.4h3.2v3.2h-3.2zM1549.6 428.4h3.2v3.2h-3.2zM1655.2 428.4h3.2v3.2h-3.2zM1700 428.4h3.2v3.2h-3.2zM1722.4 428.4h3.2v3.2h-3.2zM1840.8 428.4h3.2v3.2h-3.2zM1911.2 428.4h3.2v3.2h-3.2zM1472.8 431.6h3.2v3.2h-3.2zM1543.2 431.6h3.2v3.2h-3.2zM1568.8 431.6h3.2v3.2h-3.2zM1626.4 431.6h3.2v3.2h-3.2zM1629.6 431.6h3.2v3.2h-3.2zM1648.8 431.6h3.2v3.2h-3.2zM1652 431.6h3.2v3.2h-3.2zM1716 431.6h3.2v3.2h-3.2zM1853.6 431.6h3.2v3.2h-3.2zM1895.2 431.6h3.2v3.2h-3.2zM1453.6 434.8h3.2v3.2h-3.2zM1572 434.8h3.2v3.2h-3.2zM1578.4 434.8h3.2v3.2h-3.2zM1652 434.8h3.2v3.2h-3.2zM1655.2 434.8h3.2v3.2h-3.2zM1658.4 434.8h3.2v3.2h-3.2zM1680.8 434.8h3.2v3.2h-3.2zM1728.8 434.8h3.2v3.2h-3.2zM1796 434.8h3.2v3.2h-3.2zM1860 434.8h3.2v3.2h-3.2zM1460 438h3.2v3.2h-3.2zM1511.2 438h3.2v3.2h-3.2zM1648.8 438h3.2v3.2h-3.2zM1655.2 438h3.2v3.2h-3.2zM1661.6 438h3.2v3.2h-3.2zM1719.2 438h3.2v3.2h-3.2zM1741.6 438h3.2v3.2h-3.2zM1511.2 441.2h3.2v3.2h-3.2zM1540 441.2h3.2v3.2h-3.2zM1572 441.2h3.2v3.2h-3.2zM1693.6 441.2h3.2v3.2h-3.2zM1770.4 441.2h3.2v3.2h-3.2zM1789.6 441.2h3.2v3.2h-3.2zM1901.6 441.2h3.2v3.2h-3.2z"/>
<path fill="#30f830" d="M1860 364.4h3.2v3.2h-3.2zM1850.4 374h3.2v3.2h-3.2zM1860 377.2h3.2v3.2h-3.2zM1815.2 380.4h3.2v3.2h-3.2zM1856.8 380.4h3.2v3.2h-3.2zM1863.2 380.4h3.2v3.2h-3.2zM1844 383.6h3.2v3.2h-3.2zM1834.4 386.8h3.2v3.2h-3.2zM1725.6 390h3.2v3.2h-3.2zM1837.6 390h3.2v3.2h-3.2zM1853.6 390h3.2v3.2h-3.2zM1732 393.2h3.2v3.2h-3.2zM1850.4 396.4h3.2v3.2h-3.2zM1600.8 406h3.2v3.2h-3.2zM1616.8 406h3.2v3.2h-3.2zM1645.6 406h3.2v3.2h-3.2zM1648.8 406h3.2v3.2h-3.2zM1680.8 406h3.2v3.2h-3.2zM1687.2 406h3.2v3.2h-3.2zM1738.4 406h3.2v3.2h-3.2zM1757.6 406h3.2v3.2h-3.2zM1770.4 406h3.2v3.2h-3.2zM1783.2 406h3.2v3.2h-3.2zM1418.4 409.2h3.2v3.2h-3.2zM1565.6 409.2h3.2v3.2h-3.2zM1600.8 409.2h3.2v3.2h-3.2zM1604 409.2h3.2v3.2h-3.2zM1629.6 409.2h3.2v3.2h-3.2zM1636 409.2h3.2v3.2h-3.2zM1696.8 409.2h3.2v3.2h-3.2zM1703.2 409.2h3.2v3.2h-3.2zM1895.2 409.2h3.2v3.2h-3.2zM1434.4 412.4h3.2v3.2h-3.2zM1597.6 412.4h3.2v3.2h-3.2zM1613.6 412.4h3.2v3.2h-3.2zM1632.8 412.4h3.2v3.2h-3.2zM1671.2 412.4h3.2v3.2h-3.2zM1677.6 412.4h3.2v3.2h-3.2zM1725.6 412.4h3.2v3.2h-3.2zM1469.6 415.6h3.2v3.2h-3.2zM1495.2 415.6h3.2v3.2h-3.2zM1562.4 415.6h3.2v3.2h-3.2zM1594.4 415.6h3.2v3.2h-3.2zM1629.6 415.6h3.2v3.2h-3.2zM1639.2 415.6h3.2v3.2h-3.2zM1642.4 415.6h3.2v3.2h-3.2zM1645.6 415.6h3.2v3.2h-3.2zM1655.2 415.6h3.2v3.2h-3.2zM1668 415.6h3.2v3.2h-3.2zM1735.2 415.6h3.2v3.2h-3.2zM1744.8 415.6h3.2v3.2h-3.2zM1751.2 415.6h3.2v3.2h-3.2zM1786.4 415.6h3.2v3.2h-3.2zM1789.6 415.6h3.2v3.2h-3.2zM1812 415.6h3.2v3.2h-3.2zM1831.2 415.6h3.2v3.2h-3.2zM1412 418.8h3.2v3.2h-3.2zM1437.6 418.8h3.2v3.2h-3.2zM1511.2 418.8h3.2v3.2h-3.2zM1559.2 418.8h3.2v3.2h-3.2zM1575.2 418.8h3.2v3.2h-3.2zM1604 418.8h3.2v3.2h-3.2zM1610.4 418.8h3.2v3.2h-3.2zM1658.4 418.8h3.2v3.2h-3.2zM1661.6 418.8h3.2v3.2h-3.2zM1677.6 418.8h3.2v3.2h-3.2zM1687.2 418.8h3.2v3.2h-3.2zM1716 418.8h3.2v3.2h-3.2zM1760.8 418.8h3.2v3.2h-3.2zM1863.2 418.8h3.2v3.2h-3.2zM1901.6 418.8h3.2v3.2h-3.2zM1431.2 422h3.2v3.2h-3.2zM1604 422h3.2v3.2h-3.2zM1613.6 422h3.2v3.2h-3.2zM1626.4 422h3.2v3.2h-3.2zM1632.8 422h3.2v3.2h-3.2zM1642.4 422h3.2v3.2h-3.2zM1645.6 422h3.2v3.2h-3.2zM1668 422h3.2v3.2h-3.2zM1738.4 422h3.2v3.2h-3.2zM1808.8 422h3.2v3.2h-3.2zM1879.2 422h3.2v3.2h-3.2zM1908 422h3.2v3.2h-3.2zM1424.8 425.2h3.2v3.2h-3.2zM1450.4 425.2h3.2v3.2h-3.2zM1540 425.2h3.2v3.2h-3.2zM1549.6 425.2h3.2v3.2h-3.2zM1604 425.2h3.2v3.2h-3.2zM1607.2 425.2h3.2v3.2h-3.2zM1610.4 425.2h3.2v3.2h-3.2zM1655.2 425.2h3.2v3.2h-3.2zM1658.4 425.2h3.2v3.2h-3.2zM1684 425.2h3.2v3.2h-3.2zM1690.4 425.2h3.2v3.2h-3.2zM1728.8 425.2h3.2v3.2h-3.2zM1744.8 425.2h3.2v3.2h-3.2zM1783.2 425.2h3.2v3.2h-3.2zM1840.8 425.2h3.2v3.2h-3.2zM1866.4 425.2h3.2v3.2h-3.2zM1424.8 428.4h3.2v3.2h-3.2zM1562.4 428.4h3.2v3.2h-3.2zM1594.4 428.4h3.2v3.2h-3.2zM1600.8 428.4h3.2v3.2h-3.2zM1616.8 428.4h3.2v3.2h-3.2zM1626.4 428.4h3.2v3.2h-3.2zM1639.2 428.4h3.2v3.2h-3.2zM1661.6 428.4h3.2v3.2h-3.2zM1732 428.4h3.2v3.2h-3.2zM1744.8 428.4h3.2v3.2h-3.2zM1856.8 428.4h3.2v3.2h-3.2zM1581.6 431.6h3.2v3.2h-3.2zM1623.2 431.6h3.2v3.2h-3.2zM1671.2 431.6h3.2v3.2h-3.2zM1680.8 431.6h3.2v3.2h-3.2zM1696.8 431.6h3.2v3.2h-3.2zM1463.2 434.8h3.2v3.2h-3.2zM1469.6 434.8h3.2v3.2h-3.2zM1501.6 434.8h3.2v3.2h-3.2zM1562.4 434.8h3.2v3.2h-3.2zM1597.6 434.8h3.2v3.2h-3.2zM1629.6 434.8h3.2v3.2h-3.2zM1674.4 434.8h3.2v3.2h-3.2zM1677.6 434.8h3.2v3.2h-3.2zM1725.6 434.8h3.2v3.2h-3.2zM1764 434.8h3.2v3.2h-3.2zM1767.2 434.8h3.2v3.2h-3.2zM1789.6 434.8h3.2v3.2h-3.2zM1421.6 438h3.2v3.2h-3.2zM1546.4 438h3.2v3.2h-3.2zM1581.6 438h3.2v3.2h-3.2zM1645.6 438h3.2v3.2h-3.2zM1664.8 438h3.2v3.2h-3.2zM1677.6 438h3.2v3.2h-3.2zM1696.8 438h3.2v3.2h-3.2zM1735.2 438h3.2v3.2h-3.2zM1450.4 441.2h3.2v3.2h-3.2zM1559.2 441.2h3.2v3.2h-3.2zM1597.6 441.2h3.2v3.2h-3.2zM1632.8 441.2h3.2v3.2h-3.2zM1722.4 441.2h3.2v3.2h-3.2zM1728.8 441.2h3.2v3.2h-3.2zM1741.6 441.2h3.2v3.2h-3.2zM1773.6 441.2h3.2v3.2h-3.2zM1799.2 441.2h3.2v3.2h-3.2zM1812 441.2h3.2v3.2h-3.2zM1869.6 441.2h3.2v3.2h-3.2z"/>
<rect x="1913.5" y="70" width="2.5" height="374" fill="#8a8a8a"/>
<rect x="1412" y="70" width="2.4" height="374" fill="#3a3a3a"/>
</g>
<path d="M1412 97 L1418 97 M1418 150 L1418 404.5 L1909.5 404.5 L1909.5 280 M1547 101.4 C1555 99 1562 96 1570 96.8 C1580 98 1586 104 1596 106.6 L1636 107.2 C1643 108 1648 110 1655 113" fill="none" stroke="#fff" stroke-width="3.2" stroke-dasharray="11 5"/>
<rect x="1418" y="81" width="129" height="69" fill="#fff"/>
<text x="1483" y="128.5" font-family="'Liberation Serif', serif" font-size="47" text-anchor="middle">C</text>
<rect x="1655.5" y="75" width="257.5" height="205" fill="#fff"/>
<polyline fill="none" stroke="#2a6fd6" stroke-width="1.1" stroke-linejoin="round" points="1697.5,198.2 1697.9,200.3 1698.4,201.7 1698.8,200.6 1699.2,202.3 1699.6,199.4 1700.1,202.5 1700.5,201.2 1700.9,202.3 1701.3,201.2 1701.8,202.7 1702.2,201.9 1702.6,201.7 1703,200 1703.5,200.1 1703.9,201.4 1704.3,197.9 1704.7,201.3 1705.2,201.4 1705.6,202 1706,200.2 1706.4,199.5 1706.9,200 1707.3,202.2 1707.7,201.8 1708.2,202.4 1708.6,201 1709,201 1709.4,199.4 1709.9,200.7 1710.3,199.3 1710.7,200 1711.1,198.9 1711.6,199.7 1712,202.6 1712.4,200.3 1712.8,199.5 1713.3,200.7 1713.7,201.5 1714.1,202.1 1714.5,197.9 1715,200 1715.4,201.5 1715.8,201.1 1716.2,199.7 1716.7,199.6 1717.1,199.7 1717.5,200.2 1717.9,201 1718.4,200.3 1718.8,202.4 1719.2,200.1 1719.7,198.8 1720.1,200 1720.5,201.1 1720.9,197.9 1721.4,202.8 1721.8,199.5 1722.2,197.7 1722.6,201.5 1723.1,202 1723.5,197.3 1723.9,202.1 1724.3,200.1 1724.8,201.1 1725.2,200.6 1725.6,201.6 1726,200.7 1726.5,198.1 1726.9,199.5 1727.3,199.3 1727.7,200.4 1728.2,199.8 1728.6,200.8 1729,199.3 1729.5,198.2 1729.9,200.5 1730.3,201.1 1730.7,200.3 1731.2,201.7 1731.6,200.6 1732,201.4 1732.4,201.4 1732.9,198.9 1733.3,202.9 1733.7,199.6 1734.1,200.4 1734.6,197.6 1735,199.3 1735.4,198.2 1735.8,199.3 1736.3,198.3 1736.7,199.7 1737.1,200 1737.5,200.9 1738,197.7 1738.4,200.8 1738.8,200.7 1739.2,199.4 1739.7,199.3 1740.1,199.4 1740.5,199.7 1741,198 1741.4,199.1 1741.8,200.9 1742.2,197.9 1742.7,198.4 1743.1,200.2 1743.5,197.9 1743.9,200.3 1744.4,198 1744.8,197.3 1745.2,196.3 1745.6,199 1746.1,196.9 1746.5,196.6 1746.9,197.2 1747.3,198.1 1747.8,198.1 1748.2,198 1748.6,197.3 1749,194 1749.5,198.3 1749.9,195.5 1750.3,195.9 1750.8,194 1751.2,193.3 1751.6,193.6 1752,192.9 1752.5,193.4 1752.9,193.6 1753.3,192.4 1753.7,196.5 1754.2,193.3 1754.6,191.2 1755,192.8 1755.4,192.6 1755.9,191.4 1756.3,190.5 1756.7,190.8 1757.1,190.5 1757.6,189.9 1758,188.9 1758.4,188.4 1758.8,186.7 1759.3,186.1 1759.7,185.1 1760.1,185.9 1760.5,185.5 1761,185 1761.4,184.9 1761.8,184.6 1762.3,183.2 1762.7,182.3 1763.1,181.2 1763.5,184.3 1764,182.6 1764.4,180.5 1764.8,179 1765.2,175.2 1765.7,171.9 1766.1,160.2 1766.5,139.5 1766.8,118.1 1766.9,110.1 1767.1,107.1 1767.4,118.8 1767.4,118.8 1767.8,149.6 1768.2,167.1 1768.6,175.5 1769.1,182 1769.5,185.2 1769.9,186.7 1770.3,188.1 1770.8,192.6 1771.2,190.4 1771.6,193 1772.1,191.2 1772.5,192.4 1772.9,191.6 1773.3,194.1 1773.8,195.6 1774.2,194.1 1774.6,194.9 1775,194 1775.5,195.5 1775.9,197.5 1776.3,198.7 1776.7,195.8 1777.2,195.7 1777.6,194.9 1778,195.5 1778.4,198.7 1778.9,197 1779.3,196.2 1779.7,198.8 1780.1,197.5 1780.6,197.6 1781,198.9 1781.4,198.1 1781.8,200.1 1782.3,199.7 1782.7,196.7 1783.1,198.8 1783.6,197.1 1784,200.2 1784.4,199.8 1784.8,199 1785.3,199 1785.7,200.6 1786.1,200.1 1786.5,196.1 1787,201.9 1787.4,198.6 1787.8,199.9 1788.2,201.5 1788.7,200.7 1789.1,199.1 1789.5,199.2 1789.9,199.3 1790.4,201.8 1790.8,199.7 1791.2,197.9 1791.6,200.7 1792.1,201.2 1792.5,198.4 1792.9,200.5 1793.4,201.6 1793.8,200.6 1794.2,199.9 1794.6,201.6 1795.1,200 1795.5,199.2 1795.9,200.2 1796.3,197.5 1796.8,199.8 1797.2,200 1797.6,201.1 1798,198.8 1798.5,203.1 1798.9,200.2 1799.3,201.4 1799.7,199.5 1800.2,198.6 1800.6,200.1 1801,200 1801.4,199.9 1801.9,200 1802.3,200.6 1802.7,200 1803.1,199.6 1803.6,201.6 1804,198.3 1804.4,201 1804.9,202.7 1805.3,199.1 1805.7,201.1 1806.1,200.9 1806.6,201.8 1807,202.2 1807.4,199.7 1807.8,198 1808.3,200.8 1808.7,201.5 1809.1,202.2 1809.5,203 1810,199.3 1810.4,199.8 1810.8,199.8 1811.2,198.8 1811.7,199.7 1812.1,198.8 1812.5,200.1 1812.9,199.2 1813.4,201 1813.8,200.9 1814.2,200.2 1814.7,199.4 1815.1,201.1 1815.5,200 1815.9,200.6 1816.4,199.9 1816.8,200.4 1817.2,201.6 1817.6,201.6 1818.1,199.5 1818.5,200.5 1818.9,198.4 1819.3,201.9 1819.8,201.3 1820.2,200.8 1820.6,202.2 1821,200.6 1821.5,202.1 1821.9,201 1822.3,201.6 1822.7,200.8 1823.2,201.6 1823.6,200 1824,201.9 1824.4,201.1 1824.9,200.1 1825.3,199.2 1825.7,201.1 1826.2,201.6 1826.6,199.5 1827,203.4 1827.4,198.7 1827.9,198.7 1828.3,201.2 1828.7,199.8 1829.1,199.7 1829.6,199 1830,199.2 1830.4,197.4 1830.8,200.3 1831.3,201.7 1831.7,201.3 1832.1,200.1 1832.5,199.5 1833,199.2 1833.4,197.1 1833.8,199.2 1834.2,200.3 1834.7,198.5 1835.1,197.5 1835.5,196.9 1836,195.1 1836.4,197 1836.8,194.4 1837.2,191.1 1837.7,187.2 1838.1,176.7 1838.5,164.8 1838.9,138.6 1839.2,118.7 1839.4,110.8 1839.5,107.8 1839.8,118.7 1839.8,118.7 1840.2,151.6 1840.6,171.2 1841.1,182.9 1841.5,187.5 1841.9,191.6 1842.3,194.1 1842.8,193.7 1843.2,198.1 1843.6,196.9 1844,196.1 1844.5,198.5 1844.9,201.1 1845.3,198.4 1845.7,199.2 1846.2,199.6 1846.6,201.7 1847,199.9 1847.5,201.5 1847.9,198.3 1848.3,200.9 1848.7,200.5 1849.2,198.8 1849.6,199.9 1850,200.2 1850.4,199.2 1850.9,201.1 1851.3,200.1 1851.7,198.5 1852.1,199.7 1852.6,201.7 1853,204 1853.4,201.9 1853.8,201.1 1854.3,202 1854.7,201.4 1855.1,197.3 1855.5,198.2 1856,202.4 1856.4,201.8 1856.8,201.1 1857.3,204.6 1857.7,201.4 1858.1,201.2 1858.5,201.5 1859,199.6 1859.4,199.8 1859.8,199.7 1860.2,198.8 1860.7,201.2 1861.1,199.1 1861.5,199.5 1861.9,202 1862.4,198.8 1862.8,200.3 1863.2,200.9 1863.6,201.2 1864.1,199.4 1864.5,199.6 1864.9,203.8 1865.3,200.5 1865.8,202.5 1866.2,202.1 1866.6,202.7 1867,201.2 1867.5,201.6 1867.9,201 1868.3,201.6 1868.8,200.9 1869.2,198.7 1869.6,200.5 1870,201.3 1870.5,203.6 1870.9,201 1871.3,200.4 1871.7,201.5 1872.2,202.7 1872.6,200.3 1873,197.3 1873.4,203.7 1873.9,200.4 1874.3,199.9 1874.7,201.6 1875.1,200.2 1875.6,202.2 1876,201.9 1876.4,202 1876.8,200.4 1877.3,199.1 1877.7,200.3 1878.1,203.2 1878.6,201.4 1879,200.6 1879.4,199.2 1879.8,200.3 1880.3,200.2 1880.7,199.9 1881.1,200.6 1881.5,202.9 1882,201 1882.4,201.1 1882.8,202.3 1883.2,200.6 1883.7,200.9 1884.1,200.7 1884.5,202.9 1884.9,200.7 1885.4,201.3 1885.8,200.9 1886.2,199.6 1886.6,200.2 1887.1,203.5 1887.5,201.8 1887.9,201.3 1888.3,199.4 1888.8,201.7 1889.2,200.5 1889.6,200.1 1890.1,202.1 1890.5,199.9 1890.9,200.2 1891.3,201.7 1891.8,201.8 1892.2,201 1892.6,202 1893,197.4 1893.5,201 1893.9,200.6 1894.3,200.1 1894.7,200.1 1895.2,198.9 1895.6,199.9 1896,199.7 1896.4,201 1896.9,201.4 1897.3,199.4 1897.7,198.2 1898.1,198.7 1898.6,198.7 1899,195 1899.4,196.2 1899.9,192.4 1900.3,192.3 1900.6,188.6 1900.7,188.3 1900.9,187.9 1901.1,188.3 1901.2,188.6 1901.6,190.7 1902,194.8 1902.4,194.7 1902.8,196.6 1903.3,199.2 1903.7,198.2 1904.1,200.7 1904.5,199.9 1905,196.7 1905.4,199.1 1905.8,198.9 1906.2,200.2 1906.7,200.3 1907.1,199.7 1907.5,199.4 1907.9,200.4 1908.4,201.6 1908.8,200.9 1909.2,200.7 1909.6,201.2 1910.1,201 1910.5,200.4"/>
<rect x="1697.5" y="76.5" width="213" height="147.5" fill="none" stroke="#000" stroke-width="1.3"/>
<path d="M1715.2 224v-3.5M1733 224v-2M1750.8 224v-3.5M1768.5 224v-2M1786.2 224v-3.5M1804 224v-2M1821.8 224v-3.5M1839.5 224v-2M1857.2 224v-3.5M1875 224v-2M1892.8 224v-3.5" stroke="#000" stroke-width="1.1" fill="none"/>
<g font-family="'Liberation Serif', serif" font-weight="bold" font-size="19.5" text-anchor="middle" letter-spacing="0.3"><text x="1715.2" y="244.5">30</text><text x="1750.8" y="244.5">40</text><text x="1786.2" y="244.5">50</text><text x="1821.8" y="244.5">60</text><text x="1857.2" y="244.5">70</text><text x="1892.8" y="244.5">80</text></g>
<text x="1804" y="267" font-family="'Liberation Serif', serif" font-weight="bold" font-size="17.5" text-anchor="middle">2<tspan font-style="italic" dx="2">θ</tspan>(degree)</text>
<text transform="translate(1685.5 149.2) rotate(-90)" font-family="'Liberation Serif', serif" font-weight="bold" font-size="18" text-anchor="middle">Intensity (a.u.)</text>
<circle cx="1767.5" cy="98" r="3.2" fill="#000"/>
<circle cx="1839" cy="98" r="3.2" fill="#000"/>
<circle cx="1900.8" cy="179" r="3.2" fill="#000"/>
<circle cx="1857" cy="99.5" r="2.6" fill="#000"/>
<text x="1866" y="105" font-family="'Liberation Serif', serif" font-weight="bold" font-size="18" letter-spacing="0.6">α-Fe</text>
<g font-family="'Liberation Serif', serif" font-size="50">
<text x="259" y="508">P4<tspan font-size="33" dy="9">as</tspan></text>
<text x="1637" y="507">P4<tspan font-size="33" dy="9">an1</tspan></text>
<text x="269" y="1200">P6<tspan font-size="33" dy="10">as</tspan></text>
<text x="1636" y="1200">P6<tspan font-size="33" dy="10">an1</tspan></text>
</g>
<path d="M791 89 L1163.5 89 L1163.5 53 L1233.5 124 L1163.5 193.5 L1163.5 158.5 L791 158.5 Z" fill="url(#gArrowT)" stroke="#000" stroke-width="2"/>
<text x="970" y="141" font-family="'Liberation Serif', serif" font-size="52" font-style="italic">T</text>
<text x="996" y="151" font-family="'Liberation Serif', serif" font-size="35">an</text>
<path d="M262.5 532 L332.5 532 L332.5 584 L369 584 L297.7 636.5 L226 584 L262.5 584 Z" fill="url(#gArrowD)" stroke="#000" stroke-width="2"/>
<text x="277" y="585" font-family="'Liberation Serif', serif" font-size="46" font-style="italic">c</text>
<text x="299" y="596" font-family="'Liberation Serif', serif" font-size="31">P</text>
<rect x="719" y="204" width="514" height="393" fill="url(#gChart)"/>
<rect x="792.3" y="218.9" width="422.7" height="317.1" fill="none" stroke="#000" stroke-width="2.2"/>
<path d="M827.5 536v-3.5M862.8 536v-6.5M898 536v-3.5M933.2 536v-6.5M968.4 536v-3.5M1003.6 536v-6.5M1038.9 536v-3.5M1074.1 536v-6.5M1109.3 536v-3.5M1144.5 536v-6.5M1179.8 536v-3.5M792.3 504.3h3.5M792.3 472.6h6M792.3 440.9h3.5M792.3 409.2h6M792.3 377.4h3.5M792.3 345.7h6M792.3 314h3.5M792.3 282.3h6M792.3 250.6h3.5" stroke="#000" stroke-width="2" fill="none"/>
<g font-family="'Liberation Serif', serif" font-weight="bold" font-size="22" letter-spacing="0.8"><text x="792.3" y="559" text-anchor="middle">0</text><text x="862.8" y="559" text-anchor="middle">2</text><text x="933.2" y="559" text-anchor="middle">4</text><text x="1003.6" y="559" text-anchor="middle">6</text><text x="1074.1" y="559" text-anchor="middle">8</text><text x="1144.5" y="559" text-anchor="middle">10</text><text x="1215" y="559" text-anchor="middle">12</text><text x="784" y="543.5" text-anchor="end">0.0</text><text x="784" y="480.1" text-anchor="end">0.1</text><text x="784" y="416.7" text-anchor="end">0.2</text><text x="784" y="353.2" text-anchor="end">0.3</text><text x="784" y="289.8" text-anchor="end">0.4</text><text x="784" y="226.4" text-anchor="end">0.5</text></g>
<text x="999" y="584" font-family="'Liberation Serif', serif" font-weight="bold" font-size="24" text-anchor="middle">ln (<tspan font-style="italic">B</tspan><tspan font-size="16" dy="4">s</tspan><tspan font-style="italic" dy="-4">H</tspan><tspan font-size="16" dy="4">c</tspan><tspan dy="-4">)</tspan></text>
<text transform="translate(745 377) rotate(-90)" font-family="'Liberation Serif', serif" font-weight="bold" font-size="22" text-anchor="middle"><tspan font-style="italic">k</tspan> (min<tspan font-size="14" dy="-8">-1</tspan><tspan dy="8">)</tspan></text>
<line x1="887.4" y1="393.9" x2="1156.9" y2="312.1" stroke="#e8141c" stroke-width="2"/>
<line x1="955" y1="417" x2="983" y2="387" stroke="#ee1c24" stroke-width="2.2"/>
<path d="M990 379.5 L985.5 393 L976.5 384.5 Z" fill="#ee1c24"/>
<text x="909" y="446" font-family="'Liberation Serif', serif" font-weight="bold" font-size="14.5" letter-spacing="0.9">The fitting</text>
<circle cx="887.4" cy="402.8" r="5.5" fill="#2fa060"/>
<rect x="917.6" y="378.8" width="10" height="10" fill="#4b4b4b" rx="1"/>
<polygon points="975.5,345.6 977.1,349.9 981.7,350.1 978,352.9 979.3,357.3 975.5,354.8 971.6,357.3 972.9,352.9 969.3,350.1 973.9,349.9" fill="#10c8c8"/>
<path d="M1112.8 313.9L1119.8 325.4L1105.8 325.4Z" fill="#f03c3c"/>
<polygon points="1144.5,326.4 1139.4,323.4 1139.4,317.4 1144.5,314.4 1149.7,317.4 1149.7,323.4" fill="#7a4a4a"/>
<path d="M1146.3 314.2L1153.3 302.7L1139.3 302.7Z" fill="#1e63dc"/>
<path d="M1153.4 294.5L1160.4 301.3L1153.4 308.1L1146.4 301.3Z" fill="#a473e0"/>
<path d="M1148.8 333.1L1160.8 326.6L1160.8 339.6Z" fill="#c8960c"/>
<rect x="1039.5" y="380" width="10" height="10" fill="#4b4b4b" rx="1"/>
<text x="1068" y="390" font-family="'Liberation Serif', serif" font-weight="bold" font-size="16" letter-spacing="0.6">P4<tspan font-size="11.5" dy="4.5" dx="1.2">as</tspan></text>
<path d="M1044.5 402.7L1051.5 414.2L1037.5 414.2Z" fill="#f03c3c"/>
<text x="1068" y="414.2" font-family="'Liberation Serif', serif" font-weight="bold" font-size="16" letter-spacing="0.6">P4<tspan font-size="11.5" dy="4.5" dx="1.2">an1</tspan></text>
<path d="M1044.5 439.9L1051.5 428.4L1037.5 428.4Z" fill="#1e63dc"/>
<text x="1068" y="438.4" font-family="'Liberation Serif', serif" font-weight="bold" font-size="16" letter-spacing="0.6">P4<tspan font-size="11.5" dy="4.5" dx="1.2">an2</tspan></text>
<circle cx="1044.5" cy="457.6" r="5.5" fill="#2fa060"/>
<text x="1068" y="462.6" font-family="'Liberation Serif', serif" font-weight="bold" font-size="16" letter-spacing="0.6">P6<tspan font-size="11.5" dy="4.5" dx="1.2">as</tspan></text>
<path d="M1044.5 475L1051.5 481.8L1044.5 488.6L1037.5 481.8Z" fill="#a473e0"/>
<text x="1068" y="486.8" font-family="'Liberation Serif', serif" font-weight="bold" font-size="16" letter-spacing="0.6">P6<tspan font-size="11.5" dy="4.5" dx="1.2">an1</tspan></text>
<path d="M1037.5 506L1049.5 499.5L1049.5 512.5Z" fill="#c8960c"/>
<text x="1068" y="511" font-family="'Liberation Serif', serif" font-weight="bold" font-size="16" letter-spacing="0.6">P6<tspan font-size="11.5" dy="4.5" dx="1.2">an2</tspan></text>
<polygon points="1137,378.5 1138.6,382.8 1143.2,383 1139.6,385.8 1140.8,390.3 1137,387.7 1133.2,390.3 1134.4,385.8 1130.8,383 1135.4,382.8" fill="#10c8c8"/>
<text x="1161" y="390" font-family="'Liberation Serif', serif" font-weight="bold" font-size="16" letter-spacing="0.6">P6<tspan font-size="11.5" dy="4.5" dx="1.2">an3</tspan></text>
<polygon points="1137,415.2 1131.8,412.2 1131.8,406.2 1137,403.2 1142.2,406.2 1142.2,412.2" fill="#7a4a4a"/>
<text x="1161" y="414.2" font-family="'Liberation Serif', serif" font-weight="bold" font-size="16" letter-spacing="0.6">P6<tspan font-size="11.5" dy="4.5" dx="1.2">an4</tspan></text>
<g clip-path="url(#cBL)">
<rect x="50" y="639" width="502" height="501" fill="url(#gTEM1)"/>
<rect x="50" y="639" width="502" height="501" fill="url(#gVig)"/>
<path d="M50 1089 L152 1097 L228 1101 L280 1110 L390 1140 L50 1140 Z" fill="#a9a9a9"/>
<mask id="mBand" maskUnits="userSpaceOnUse" x="50" y="1080" width="360" height="62"><path d="M50 1089 L152 1097 L228 1101 L280 1110 L390 1140 L310 1140 L241 1120 L177 1116 L152 1116 L50 1112 Z" fill="#fff"/></mask>
<g mask="url(#mBand)"><rect x="50" y="1080" width="360" height="62" filter="url(#fDarkF)" opacity="0.28"/></g>
<path d="M50 1112 L152 1116 L177 1116 L241 1120 L310 1140 L50 1140 Z" fill="#d2d2d2"/>
<rect x="50" y="639" width="502" height="501" filter="url(#fNoise)" opacity="0.5"/>
<rect x="50" y="639" width="502" height="501" filter="url(#fNoiseW)" opacity="0.4"/>
</g>
<rect x="51.5" y="640.5" width="499" height="498" fill="none" stroke="#000" stroke-width="3"/>
<rect x="294" y="640" width="257" height="204.5" fill="#fff"/>
<polyline fill="none" stroke="#e53333" stroke-width="1.1" stroke-linejoin="round" points="336,770.7 336.4,771.9 336.9,773.1 337.3,772.1 337.7,772.7 338.1,772 338.6,773.7 339,772.3 339.4,774.5 339.8,772.1 340.3,771.7 340.7,772.1 341.1,771.1 341.5,770.5 342,771.9 342.4,772 342.8,771.3 343.2,772 343.7,772.4 344.1,770.9 344.5,771.4 344.9,772.5 345.4,772.7 345.8,770.7 346.2,771.6 346.7,771.6 347.1,774 347.5,772.1 347.9,775.5 348.4,771.4 348.8,770.9 349.2,772.2 349.6,772.9 350.1,770.9 350.5,771 350.9,771.1 351.3,769.9 351.8,772.7 352.2,771.7 352.6,771.4 353,772.4 353.5,771.8 353.9,773.2 354.3,771.5 354.7,773.6 355.2,770.2 355.6,772.1 356,770.7 356.4,769.9 356.9,773.2 357.3,772.5 357.7,769.7 358.2,773.1 358.6,770.7 359,772.5 359.4,772.7 359.9,772.1 360.3,769.7 360.7,771 361.1,772.3 361.6,770.4 362,769.6 362.4,771 362.8,772.3 363.3,772.6 363.7,770.4 364.1,769.6 364.5,771.2 365,772.8 365.4,771 365.8,773.7 366.2,771.4 366.7,771.1 367.1,770.7 367.5,771 368,769.3 368.4,773 368.8,770.1 369.2,770.7 369.7,771.3 370.1,771.1 370.5,769.6 370.9,773.2 371.4,770.6 371.8,769.7 372.2,771.3 372.6,772.9 373.1,771.6 373.5,772 373.9,769.4 374.3,767.8 374.8,768.4 375.2,770.4 375.6,767.8 376,770.2 376.5,767.7 376.9,768.9 377.3,768.5 377.7,770.1 378.2,768.3 378.6,769.7 379,769.6 379.5,770.8 379.9,768.2 380.3,769.8 380.7,768.6 381.2,767.7 381.6,767.4 382,767.6 382.4,766.1 382.9,767.7 383.3,768.2 383.7,766.3 384.1,767.1 384.6,768.1 385,766.3 385.4,766.1 385.8,765.1 386.3,767.3 386.7,765.5 387.1,767.4 387.5,766.1 388,764.9 388.4,762.9 388.8,764.4 389.3,764.4 389.7,762.5 390.1,761.2 390.5,761.2 391,761.6 391.4,764 391.8,761.4 392.2,759.8 392.7,757 393.1,760.8 393.5,757.5 393.9,757.3 394.4,756.4 394.8,757.9 395.2,756.3 395.6,753.9 396.1,757.3 396.5,753.9 396.9,752.4 397.3,753.5 397.8,750 398.2,748.8 398.6,750.1 399,749.6 399.5,746.8 399.9,746.5 400.3,747.6 400.8,749.2 401.2,745.4 401.6,747.1 402,747.4 402.5,746.8 402.9,744.8 403.3,743.7 403.7,747.3 404.2,751.2 404.6,747.6 405,747.9 405.4,750.3 405.9,750.5 406.3,750.1 406.7,749.7 407.1,751.6 407.6,751.8 408,754.8 408.4,753.5 408.8,756.3 409.3,757.3 409.7,756.9 410.1,758.3 410.6,759.9 411,759.3 411.4,761.2 411.8,760.1 412.3,761.3 412.7,760.5 413.1,762.4 413.5,762.2 414,761.7 414.4,762.8 414.8,763 415.2,764.3 415.7,763.2 416.1,763.9 416.5,761.9 416.9,766 417.4,764 417.8,765.9 418.2,766.9 418.6,767.2 419.1,767.8 419.5,766.8 419.9,766.7 420.3,768.4 420.8,767.1 421.2,767.3 421.6,768.1 422.1,768.2 422.5,768.6 422.9,768.7 423.3,769.3 423.8,769.6 424.2,770 424.6,766.4 425,768 425.5,768.2 425.9,771.3 426.3,769.8 426.7,768.4 427.2,768.5 427.6,769.2 428,769.6 428.4,772.2 428.9,771.9 429.3,769.3 429.7,771.6 430.1,771 430.6,769.8 431,770.1 431.4,768.5 431.9,769.6 432.3,772.2 432.7,770.1 433.1,772.5 433.6,772 434,770.1 434.4,771.4 434.8,773.8 435.3,772.4 435.7,770.8 436.1,773.4 436.5,771 437,770.8 437.4,771.8 437.8,772.1 438.2,770.6 438.7,770.5 439.1,773.6 439.5,770.4 439.9,771 440.4,770.4 440.8,771.2 441.2,771.1 441.6,773.1 442.1,771.1 442.5,773.6 442.9,771.4 443.4,772.5 443.8,771.7 444.2,768.6 444.6,771.7 445.1,772.9 445.5,773.1 445.9,772.6 446.3,772.5 446.8,773.3 447.2,770.8 447.6,771 448,772.6 448.5,772.8 448.9,773.4 449.3,772 449.7,771 450.2,771.4 450.6,771.6 451,771 451.4,769.6 451.9,771.2 452.3,770.9 452.7,772.9 453.2,771.1 453.6,773.8 454,770.7 454.4,772 454.9,770.6 455.3,773 455.7,772.5 456.1,773.1 456.6,773.2 457,774.6 457.4,770.8 457.8,772.6 458.3,771.7 458.7,772.1 459.1,772.8 459.5,772.5 460,769.7 460.4,771.7 460.8,774.3 461.2,772.8 461.7,773.5 462.1,771.5 462.5,771.5 462.9,772.7 463.4,773.7 463.8,771 464.2,772.6 464.7,773.7 465.1,773.8 465.5,771.8 465.9,772.2 466.4,770.6 466.8,771 467.2,772.9 467.6,771.8 468.1,771.5 468.5,770.4 468.9,772.7 469.3,773.1 469.8,772.7 470.2,769.3 470.6,774.3 471,770.7 471.5,772.4 471.9,772.4 472.3,776.1 472.7,773.5 473.2,771.5 473.6,775.1 474,774.7 474.5,772.1 474.9,770.5 475.3,771.8 475.7,772.3 476.2,774.7 476.6,772.7 477,772.1 477.4,771.5 477.9,773.7 478.3,772.9 478.7,771.6 479.1,774.1 479.6,774.2 480,771.4 480.4,773.2 480.8,770.6 481.3,773.9 481.7,773.1 482.1,773.8 482.5,773.3 483,772.9 483.4,774.3 483.8,773.3 484.2,771.9 484.7,773.4 485.1,771.3 485.5,772.9 486,771.5 486.4,773.2 486.8,771.4 487.2,772.9 487.7,771.5 488.1,774.3 488.5,772.7 488.9,773.1 489.4,770.8 489.8,772.6 490.2,772.6 490.6,773 491.1,773.5 491.5,773 491.9,772.1 492.3,772.7 492.8,771.5 493.2,772.2 493.6,772.6 494,774.5 494.5,770.6 494.9,771.8 495.3,771.7 495.8,773.5 496.2,773.6 496.6,771.9 497,773.3 497.5,775.6 497.9,772.8 498.3,773.3 498.7,773.2 499.2,773.3 499.6,772.1 500,773.5 500.4,771.2 500.9,772.5 501.3,771.4 501.7,773.9 502.1,773.4 502.6,772 503,771.8 503.4,772.8 503.8,770 504.3,771.4 504.7,772.2 505.1,772.5 505.5,773 506,771.8 506.4,774.4 506.8,773.1 507.3,771.4 507.7,771.1 508.1,771.9 508.5,772 509,773.5 509.4,772.9 509.8,773.5 510.2,770.3 510.7,771.4 511.1,771.1 511.5,773.2 511.9,770.4 512.4,770 512.8,772.2 513.2,772.1 513.6,772.4 514.1,770.3 514.5,772.3 514.9,770.2 515.3,772 515.8,770.9 516.2,770.4 516.6,772.2 517.1,771.3 517.5,771.3 517.9,769.4 518.3,770.4 518.8,768.9 519.2,769.6 519.6,771.1 520,770.6 520.5,770.5 520.9,769.6 521.3,771.9 521.7,770 522.2,769.4 522.6,768 523,768.1 523.4,770.1 523.9,769.2 524.3,771.9 524.7,770.5 525.1,770.6 525.6,766.6 526,768.3 526.4,771.2 526.8,770.3 527.3,769.1 527.7,769.9 528.1,769.1 528.6,771.1 529,772.2 529.4,767.3 529.8,771.5 530.3,769.9 530.7,768.5 531.1,772.9 531.5,769.8 532,767.7 532.4,769.3 532.8,770.8 533.2,771.6 533.7,770 534.1,772.9 534.5,771.9 534.9,771.6 535.4,769.1 535.8,769.8 536.2,771.4 536.6,771.6 537.1,772.6 537.5,770.4 537.9,770.7 538.4,773.7 538.8,771.3 539.2,770 539.6,772 540.1,771.8 540.5,767.9 540.9,772.4 541.3,770.9 541.8,772.7 542.2,772.7 542.6,770.9 543,772.4 543.5,772.1 543.9,772.9 544.3,771.6 544.7,771.4 545.2,770.3 545.6,773.3 546,771.6 546.4,772.5 546.9,773.1 547.3,770.7 547.7,773.5 548.1,771 548.6,773.5 549,772.7"/>
<rect x="336" y="642" width="213" height="148" fill="none" stroke="#000" stroke-width="1.3"/>
<path d="M353.8 790v-3.5M371.5 790v-2M389.2 790v-3.5M407 790v-2M424.8 790v-3.5M442.5 790v-2M460.2 790v-3.5M478 790v-2M495.8 790v-3.5M513.5 790v-2M531.2 790v-3.5" stroke="#000" stroke-width="1.1" fill="none"/>
<g font-family="'Liberation Serif', serif" font-weight="bold" font-size="19.5" text-anchor="middle" letter-spacing="0.3"><text x="353.8" y="810.5">30</text><text x="389.2" y="810.5">40</text><text x="424.8" y="810.5">50</text><text x="460.2" y="810.5">60</text><text x="495.8" y="810.5">70</text><text x="531.2" y="810.5">80</text></g>
<text x="442.5" y="833" font-family="'Liberation Serif', serif" font-weight="bold" font-size="17.5" text-anchor="middle">2<tspan font-style="italic" dx="2">θ</tspan>(degree)</text>
<text transform="translate(324 715) rotate(-90)" font-family="'Liberation Serif', serif" font-weight="bold" font-size="18" text-anchor="middle">Intensity (a.u.)</text>
<rect x="371.5" y="1031.5" width="140" height="87" fill="#fff"/>
<text x="448" y="1081" font-family="'Liberation Serif', serif" font-weight="bold" font-size="38" text-anchor="middle">200 nm</text>
<rect x="415" y="1092.5" width="52.5" height="10" fill="#000"/>
<mask id="mClu" maskUnits="userSpaceOnUse" x="1413" y="638" width="502" height="501"><g fill="#fff" filter="url(#fBlur4)"><ellipse cx="1435" cy="668" rx="26" ry="30" fill="#888"/><ellipse cx="1615" cy="712" rx="44" ry="62"/><ellipse cx="1508" cy="805" rx="13" ry="30"/><ellipse cx="1540" cy="815" rx="22" ry="24"/><ellipse cx="1828" cy="930" rx="42" ry="44"/><ellipse cx="1650" cy="1030" rx="18" ry="15"/><ellipse cx="1610" cy="1088" rx="54" ry="62"/><path d="M1700 1137 C1700 1060 1715 1010 1754 998 C1800 990 1850 1040 1864 1090 L1864 1137 Z"/><ellipse cx="1474" cy="882" rx="28" ry="13" transform="rotate(25 1474 882)" fill="#777"/><ellipse cx="1518" cy="982" rx="16" ry="26" transform="rotate(-25 1518 982)" fill="#777"/></g></mask>
<mask id="mDk" maskUnits="userSpaceOnUse" x="1413" y="638" width="502" height="501"><g fill="#fff" filter="url(#fBlur4)"><ellipse cx="1435" cy="668" rx="22" ry="26" fill="#666"/><ellipse cx="1636" cy="700" rx="26" ry="52"/><ellipse cx="1540" cy="818" rx="14" ry="14" fill="#777"/><ellipse cx="1832" cy="934" rx="26" ry="26"/><ellipse cx="1650" cy="1030" rx="18" ry="15"/><path d="M1700 1137 C1700 1060 1715 1010 1754 998 C1800 990 1850 1040 1864 1090 L1864 1137 Z"/></g></mask>
<g clip-path="url(#cBR)">
<rect x="1413" y="638" width="502" height="501" fill="url(#gTEM2)"/>
<g filter="url(#fBlur8)">
<ellipse cx="1515" cy="655" rx="75" ry="30" fill="#262626"/>
<ellipse cx="1435" cy="668" rx="28" ry="30" fill="#555555"/>
<ellipse cx="1620" cy="712" rx="42" ry="60" fill="#8a8a8a"/>
<ellipse cx="1462" cy="745" rx="20" ry="10" fill="#262626" transform="rotate(-30 1462 745)"/>
<ellipse cx="1430" cy="765" rx="22" ry="12" fill="#6e6e6e"/>
<ellipse cx="1508" cy="805" rx="13" ry="30" fill="#848484"/>
<ellipse cx="1540" cy="815" rx="22" ry="24" fill="#7c7c7c"/>
<ellipse cx="1474" cy="882" rx="28" ry="13" fill="#747474" transform="rotate(25 1474 882)"/>
<ellipse cx="1518" cy="982" rx="16" ry="26" fill="#777777" transform="rotate(-25 1518 982)"/>
<ellipse cx="1828" cy="930" rx="42" ry="44" fill="#8a8a8a"/>
<ellipse cx="1650" cy="1030" rx="16" ry="14" fill="#505050"/>
<ellipse cx="1880" cy="1060" rx="45" ry="90" fill="#9c9c9c"/>
<ellipse cx="1690" cy="1100" rx="30" ry="50" fill="#b0b0b0"/>
<ellipse cx="1425" cy="1085" rx="14" ry="14" fill="#b8b8b8"/>
</g>
<g filter="url(#fBlur4)">
<ellipse cx="1610" cy="1088" rx="52" ry="62" fill="#c4c4c4"/>
<ellipse cx="1832" cy="934" rx="12" ry="14" fill="#6a6a6a"/>
<path d="M1700 1137 C1700 1060 1715 1010 1754 998 C1800 990 1850 1040 1864 1090 L1864 1137 Z" fill="#585858"/>
<ellipse cx="1780" cy="1120" rx="70" ry="25" fill="#7a7a7a"/>
</g>
<g mask="url(#mDk)"><rect x="1413" y="638" width="502" height="501" filter="url(#fDark)" opacity="0.7"/></g>
<g mask="url(#mClu)"><rect x="1413" y="638" width="502" height="501" filter="url(#fLight)" opacity="0.4"/></g>
<rect x="1413" y="638" width="502" height="501" filter="url(#fNoise)" opacity="0.4"/>
<rect x="1413" y="638" width="502" height="501" filter="url(#fNoiseW)" opacity="0.3"/>
</g>
<rect x="1414.5" y="639.5" width="499" height="498" fill="none" stroke="#000" stroke-width="3"/>
<rect x="1654" y="640" width="258" height="204.5" fill="#fff"/>
<polyline fill="none" stroke="#3aa56e" stroke-width="1.1" stroke-linejoin="round" points="1697,770.8 1697.4,770.2 1697.8,768.4 1698.3,767.6 1698.7,767.9 1699.1,767.9 1699.5,767 1700,765.6 1700.4,766.9 1700.8,768.5 1701.2,768.2 1701.7,767.7 1702.1,770.4 1702.5,767.3 1702.9,768.6 1703.4,769.8 1703.8,766.4 1704.2,768.9 1704.6,769.5 1705.1,766.5 1705.5,768.1 1705.9,769.5 1706.3,767.8 1706.8,768.8 1707.2,770 1707.6,769 1708,768.8 1708.4,767.7 1708.9,770.5 1709.3,768.2 1709.7,769 1710.1,769 1710.6,768 1711,768.5 1711.4,768.8 1711.8,768.6 1712.3,768.7 1712.7,768.7 1713.1,767.7 1713.5,768.4 1714,767.8 1714.4,769.7 1714.8,768.5 1715.2,770.2 1715.7,769.9 1716.1,768.7 1716.5,768.9 1716.9,770.1 1717.4,769.2 1717.8,766.8 1718.2,769.6 1718.6,769.4 1719,766.9 1719.5,766.9 1719.9,769 1720.3,768 1720.7,768.7 1721.2,767.9 1721.6,768.9 1722,768.4 1722.4,768.7 1722.9,768.2 1723.3,767.8 1723.7,769.2 1724.1,766.6 1724.6,768.1 1725,770.6 1725.4,768.4 1725.8,768.3 1726.3,769.2 1726.7,767.9 1727.1,768.7 1727.5,766.5 1728,769.2 1728.4,767.7 1728.8,767.7 1729.2,768.1 1729.6,768.2 1730.1,768 1730.5,768.7 1730.9,767.3 1731.3,767.4 1731.8,768.1 1732.2,766.2 1732.6,769 1733,766.9 1733.5,768.2 1733.9,768.1 1734.3,768.4 1734.7,770.3 1735.2,767 1735.6,767.8 1736,764.7 1736.4,770.3 1736.9,769.3 1737.3,768.7 1737.7,767.2 1738.1,766.1 1738.6,768.3 1739,766.1 1739.4,767.3 1739.8,765.9 1740.2,768 1740.7,769 1741.1,766.6 1741.5,768.2 1741.9,766.8 1742.4,768.3 1742.8,767 1743.2,766.3 1743.6,765.3 1744.1,766.5 1744.5,769 1744.9,767.3 1745.3,765.7 1745.8,768.9 1746.2,764.8 1746.6,765.8 1747,766.9 1747.5,766 1747.9,766.8 1748.3,765.6 1748.7,765.1 1749.2,762.3 1749.6,765.7 1750,764.3 1750.4,765 1750.8,763.7 1751.3,764.4 1751.7,764.2 1752.1,763.3 1752.5,763 1753,761.7 1753.4,763.3 1753.8,760.8 1754.2,762.7 1754.7,762.3 1755.1,761 1755.5,760.6 1755.9,763.2 1756.4,759.2 1756.8,758.5 1757.2,759.4 1757.6,757.7 1758.1,757.9 1758.5,756.6 1758.9,757.8 1759.3,755 1759.8,753.9 1760.2,755.2 1760.6,756.1 1761,756.1 1761.4,753.9 1761.9,754.6 1762.3,754.4 1762.7,752.7 1763.1,754.6 1763.6,751.8 1764,752.9 1764.4,749.4 1764.8,747.5 1765.3,739.7 1765.7,723.5 1766,709.1 1766.1,703.4 1766.3,701.4 1766.5,709.7 1766.5,709.7 1767,731.4 1767.4,744.9 1767.8,751.8 1768.2,755 1768.7,757.9 1769.1,760.6 1769.5,758.8 1769.9,760.8 1770.4,761.9 1770.8,763.6 1771.2,760.6 1771.6,763.3 1772,765.3 1772.5,762.4 1772.9,765.7 1773.3,764.4 1773.7,765.3 1774.2,766.3 1774.6,765.5 1775,765.7 1775.4,767.3 1775.9,767.6 1776.3,765.5 1776.7,769.1 1777.1,765.4 1777.6,766.6 1778,766.7 1778.4,764 1778.8,767.9 1779.3,766 1779.7,766.7 1780.1,769.4 1780.5,768.5 1781,767.3 1781.4,766.8 1781.8,766.6 1782.2,767.3 1782.6,770.2 1783.1,767.8 1783.5,768.2 1783.9,767.1 1784.3,768.3 1784.8,767.2 1785.2,766.8 1785.6,765.5 1786,768.7 1786.5,769.3 1786.9,766.6 1787.3,768.5 1787.7,767.5 1788.2,767.2 1788.6,769.6 1789,768.7 1789.4,768.5 1789.9,766.4 1790.3,769.3 1790.7,766.5 1791.1,768.8 1791.6,769.4 1792,769.7 1792.4,768.8 1792.8,770.6 1793.2,769 1793.7,768 1794.1,768.7 1794.5,766.5 1794.9,769.1 1795.4,766.3 1795.8,768.3 1796.2,768.6 1796.6,768.7 1797.1,767.9 1797.5,770.5 1797.9,768.3 1798.3,771.5 1798.8,768.7 1799.2,769.6 1799.6,769.3 1800,766.3 1800.5,770.9 1800.9,768.3 1801.3,769.5 1801.7,767.1 1802.2,769.7 1802.6,769 1803,767.7 1803.4,769.6 1803.8,767.6 1804.3,770.4 1804.7,766.5 1805.1,769.4 1805.5,767.8 1806,768.9 1806.4,770.1 1806.8,769.1 1807.2,766.2 1807.7,769.7 1808.1,767.4 1808.5,766.9 1808.9,769.3 1809.4,768.3 1809.8,770.5 1810.2,768.7 1810.6,769 1811.1,768 1811.5,771.5 1811.9,767.6 1812.3,767.9 1812.8,768.9 1813.2,768.9 1813.6,767.4 1814,769.1 1814.4,767.7 1814.9,769.6 1815.3,769 1815.7,768.7 1816.1,768.2 1816.6,770.5 1817,769 1817.4,770.5 1817.8,767.8 1818.3,769.1 1818.7,767.7 1819.1,770.2 1819.5,768.7 1820,768.5 1820.4,768.6 1820.8,767.6 1821.2,767.9 1821.7,768.9 1822.1,769.4 1822.5,766.7 1822.9,768 1823.4,767.3 1823.8,765.9 1824.2,769.9 1824.6,769 1825,766.7 1825.5,769.5 1825.9,770.8 1826.3,768.5 1826.7,769.9 1827.2,770.3 1827.6,768 1828,766.9 1828.4,767.9 1828.9,768.4 1829.3,768.9 1829.7,768.2 1830.1,769.2 1830.6,767.8 1831,768.3 1831.4,769.2 1831.8,768.2 1832.3,769.5 1832.7,769.3 1833.1,768.7 1833.5,767.9 1834,768.7 1834.4,769.4 1834.8,767.8 1835.2,767.4 1835.6,768.9 1836.1,766 1836.5,767 1836.9,762.4 1837.3,762.7 1837.8,756.4 1838.1,753 1838.2,751.4 1838.3,750.9 1838.6,753 1838.6,753 1839,758.4 1839.5,762.5 1839.9,766 1840.3,767.1 1840.7,767.2 1841.2,764.3 1841.6,766 1842,767.6 1842.4,766.9 1842.9,770.3 1843.3,769.5 1843.7,769.2 1844.1,767.5 1844.6,766.8 1845,767.2 1845.4,768.8 1845.8,768.8 1846.2,768.8 1846.7,767 1847.1,770.8 1847.5,769.4 1847.9,769.7 1848.4,765.6 1848.8,769.4 1849.2,769.1 1849.6,769 1850.1,764.7 1850.5,768.1 1850.9,769.1 1851.3,768.1 1851.8,769.6 1852.2,768.7 1852.6,769.2 1853,769.1 1853.5,770.2 1853.9,770.2 1854.3,766.4 1854.7,770 1855.2,769.2 1855.6,770.5 1856,769.7 1856.4,768.4 1856.8,766.9 1857.3,770.3 1857.7,769.9 1858.1,770.1 1858.5,769.4 1859,766.7 1859.4,770.7 1859.8,768.1 1860.2,769.4 1860.7,767.4 1861.1,768.1 1861.5,767 1861.9,770.1 1862.4,767 1862.8,768.8 1863.2,767.8 1863.6,769.5 1864.1,768.6 1864.5,770 1864.9,769.8 1865.3,767.4 1865.8,769 1866.2,769.4 1866.6,768.7 1867,768 1867.4,768.9 1867.9,770.6 1868.3,768.1 1868.7,768.3 1869.1,769.7 1869.6,766.7 1870,769.1 1870.4,767.5 1870.8,771.4 1871.3,766.1 1871.7,768 1872.1,767.8 1872.5,768.1 1873,766.7 1873.4,766.8 1873.8,766.4 1874.2,767.7 1874.7,770 1875.1,768.2 1875.5,771 1875.9,769.4 1876.4,767.7 1876.8,769.7 1877.2,767.8 1877.6,770.7 1878,770.5 1878.5,768.3 1878.9,769.2 1879.3,770.1 1879.7,768.7 1880.2,769.7 1880.6,769.1 1881,768.3 1881.4,768.7 1881.9,767.3 1882.3,769.4 1882.7,767.6 1883.1,767.6 1883.6,769.2 1884,767.1 1884.4,769.1 1884.8,767.9 1885.3,769.4 1885.7,769.8 1886.1,770.5 1886.5,769.6 1887,767.1 1887.4,769.7 1887.8,770 1888.2,767.8 1888.6,768 1889.1,766.8 1889.5,769.3 1889.9,769.3 1890.3,768.8 1890.8,770.6 1891.2,771.2 1891.6,768.1 1892,767.2 1892.5,768.7 1892.9,767 1893.3,767.5 1893.7,769.2 1894.2,768.1 1894.6,768.6 1895,770.3 1895.4,768.3 1895.9,769.2 1896.3,768.4 1896.7,769.6 1897.1,769 1897.6,767.1 1898,768.7 1898.4,767.6 1898.8,766.6 1899.2,764.2 1899.2,764.1 1899.5,764 1899.7,764.1 1899.7,764.2 1900.1,764.3 1900.5,763.9 1900.9,767 1901.4,769.2 1901.8,766.7 1902.2,767.9 1902.6,769.7 1903.1,765.1 1903.5,767.8 1903.9,769.6 1904.3,770.1 1904.8,769.1 1905.2,767.7 1905.6,765.1 1906,767.1 1906.5,766.1 1906.9,767.6 1907.3,769.4 1907.7,770.6 1908.2,767.3 1908.6,768.8 1909,767.4"/>
<rect x="1697" y="642.5" width="212" height="147.5" fill="none" stroke="#000" stroke-width="1.3"/>
<path d="M1714.7 790v-3.5M1732.3 790v-2M1750 790v-3.5M1767.7 790v-2M1785.3 790v-3.5M1803 790v-2M1820.7 790v-3.5M1838.3 790v-2M1856 790v-3.5M1873.7 790v-2M1891.3 790v-3.5" stroke="#000" stroke-width="1.1" fill="none"/>
<g font-family="'Liberation Serif', serif" font-weight="bold" font-size="19.5" text-anchor="middle" letter-spacing="0.3"><text x="1714.7" y="810.5">30</text><text x="1750" y="810.5">40</text><text x="1785.3" y="810.5">50</text><text x="1820.7" y="810.5">60</text><text x="1856" y="810.5">70</text><text x="1891.3" y="810.5">80</text></g>
<text x="1803" y="833" font-family="'Liberation Serif', serif" font-weight="bold" font-size="17.5" text-anchor="middle">2<tspan font-style="italic" dx="2">θ</tspan>(degree)</text>
<text transform="translate(1685 715.2) rotate(-90)" font-family="'Liberation Serif', serif" font-weight="bold" font-size="18" text-anchor="middle">Intensity (a.u.)</text>
<circle cx="1766" cy="690.5" r="3.2" fill="#000"/>
<circle cx="1838.7" cy="742" r="3.2" fill="#000"/>
<circle cx="1899.4" cy="755" r="3.2" fill="#000"/>
<circle cx="1856.5" cy="667.5" r="2.6" fill="#000"/>
<text x="1865.5" y="673" font-family="'Liberation Serif', serif" font-weight="bold" font-size="18" letter-spacing="0.6">α-Fe</text>
<rect x="1455.5" y="1020" width="143" height="85" fill="#fff"/>
<text x="1520" y="1067" font-family="'Liberation Serif', serif" font-weight="bold" font-size="38" text-anchor="middle">200 nm</text>
<rect x="1498.5" y="1082.5" width="52.5" height="10" fill="#000"/>
<text x="1686" y="899" font-family="'Liberation Serif', serif" font-weight="bold" font-size="50" fill="#ffff00" text-anchor="middle">amorphous</text>
<text x="1783" y="1102" font-family="'Liberation Serif', serif" font-weight="bold" font-size="48" fill="#ffff00" text-anchor="middle">α -Fe</text>
<text transform="translate(1709 923) rotate(47)" font-family="'Liberation Serif', serif" font-weight="bold" font-size="49" fill="#ff0000">Galvanic</text>
<text transform="translate(1654 1018) rotate(47)" font-family="'Liberation Serif', serif" font-weight="bold" font-size="49" fill="#ff0000">cells</text>
<path d="M1672.9 936.1 L1713 940.1 L1700.9 948.9 L1765.9 1028.3 L1777.1 1018.7 L1773.1 1058.8 L1733 1054.7 L1745 1045.9 L1680.1 965.7 L1668.9 976.2 Z" fill="none" stroke="#ff0000" stroke-width="2"/>
<path d="M701.5 858.3 L701 845 A272.7 196 0 0 1 1232.8 780.8 L1263.4 780.8 L1221.4 860.2 L1132 780.8 L1158 780.8 A209 135 0 0 0 763.5 845 L763.5 858.3 Z" fill="none" stroke="#ff0000" stroke-width="3.8" stroke-dasharray="12 5.5"/>
<path id="arcT" d="M738.9 840 A234 161 0 0 1 1206.9 840" fill="none"/>
<text font-family="'Liberation Serif', serif" font-weight="bold" font-size="36"><textPath href="#arcT" startOffset="199" textLength="145" lengthAdjust="spacing">Galvanic</textPath></text>
<text font-family="'Liberation Serif', serif" font-weight="bold" font-size="36"><textPath href="#arcT" startOffset="369" textLength="68" lengthAdjust="spacing">cells</textPath></text>
<g font-family="'Liberation Serif', serif" font-weight="bold" font-size="36.5"><text x="793.4" y="726.2">e<tspan font-size="24" dy="-7.3">-</tspan></text><text x="828" y="726.2">e<tspan font-size="24" dy="-7.3">-</tspan></text><text x="768.8" y="765">e<tspan font-size="24" dy="-7.3">-</tspan></text><text x="729.4" y="803.9">e<tspan font-size="24" dy="-7.3">-</tspan></text><text x="752.1" y="815.4">e<tspan font-size="24" dy="-7.3">-</tspan></text><text x="1123.9" y="715.6">e<tspan font-size="24" dy="-7.3">-</tspan></text><text x="1135.4" y="746.8">e<tspan font-size="24" dy="-7.3">-</tspan></text><text x="1159.8" y="743.8">e<tspan font-size="24" dy="-7.3">-</tspan></text><text x="1185.8" y="772">e<tspan font-size="24" dy="-7.3">-</tspan></text><text x="1181.2" y="801.8">e<tspan font-size="24" dy="-7.3">-</tspan></text><text x="1201.8" y="799.5">e<tspan font-size="24" dy="-7.3">-</tspan></text></g>
<ellipse cx="1023.3" cy="899.8" rx="115.9" ry="59.2" fill="none" stroke="#ff0000" stroke-width="3.6" stroke-dasharray="11 6"/>
<path d="M1043.5 853.4 L1005 853.4 M1024 843 L1005 853.4 L1024 864 M1014.5 945 L1054 945 M1035 935.3 L1054 945 L1035 954.6" fill="none" stroke="#ff0000" stroke-width="3.6" stroke-linecap="round" stroke-linejoin="round"/>
<path d="M670.2 880.2 L747.1 880.2 L747.1 867.7 L771.7 892.2 L747.1 916.5 L747.1 904.8 L670.2 904.8 Z" fill="#7030a0"/>
<path d="M970 1102 L1080.4 1102 L1080.4 1089.5 L1104.8 1113.9 L1080.4 1138.3 L1080.4 1125.8 L970 1125.8 Z" fill="#7030a0"/>
<path d="M969.7 801 C925 801 884 838 882 893 C885 860 918 823 969.7 822.5 Z" fill="#55287e"/>
<path d="M882 893 C884 940 910 975 947.8 987 L947.8 998.5 L969.7 978.4 L947.8 955.5 L947.8 966 C915 958 888 935 882 893 Z" fill="#7030a0"/>
<path d="M1081.2 993.3 C1130 993 1167 955 1169 903 C1162 940 1130 970 1081.2 971.3 Z" fill="#55287e"/>
<path d="M1169 903 C1166 855 1140 823 1103 809 L1103 796.7 L1081.5 814.2 L1103 839.7 L1103 829 C1135 840 1162 865 1169 903 Z" fill="#7030a0"/>
<path d="M741.2 976 C760 954 790 936 815.5 935.3 C835 935 852 943 865.6 953 C852 948 842 946.5 831.4 946.9 C805 948 780 962 759.7 988.4 Z" fill="#55287e"/>
<path d="M865.6 953 C890 968 911 995 913.9 1030 C914.5 1043 912 1052 909.6 1059.3 L917.5 1064.8 L890 1072.7 L881.2 1041 L889.4 1047 C894 1030 896 1012 891.3 993.3 C887 980 878 964 865.6 953 Z" fill="#7030a0"/>
<g font-family="'Liberation Serif', serif" font-weight="bold" font-size="50"><text x="595" y="908">Fe<tspan font-size="33" dy="-12" font-weight="normal">0</tspan></text><text x="788" y="911.5">Fe<tspan font-size="33" dy="-14">n</tspan><tspan font-size="33" font-weight="normal">+</tspan></text><text x="923" y="911.5">P element</text><text x="990" y="832.3">Fe<tspan font-size="32" dy="-14" font-weight="normal">2+</tspan></text><text x="986" y="1000.3">Fe<tspan font-size="32" dy="-14" font-weight="normal">3+</tspan></text><text x="667" y="1039">H<tspan font-size="33" dy="10">2</tspan><tspan dy="-10">O</tspan><tspan font-size="33" dy="10">2</tspan></text><text x="848" y="1129.6">•OH</text><text x="1156" y="1097">H<tspan font-size="33" dy="10">2</tspan><tspan dy="-10">O,</tspan><tspan dx="24">CO</tspan><tspan font-size="33" dy="10">2</tspan></text><text x="1156" y="1157">NO<tspan font-size="33" dy="-13" font-weight="normal">3-</tspan><tspan dy="13">,SO</tspan><tspan font-size="33" dy="9">4</tspan><tspan font-size="33" dy="-22" font-weight="normal">2-</tspan></text></g>
<polygon points="937.7,1141 997.2,1167.8 1005.6,1142.3 1025.4,1164.7 1055.5,1128.1 1052.1,1161.7 1087.3,1155.5 1072,1173.9 1109.4,1178.4 1079.6,1192.9 1114.7,1211 1075,1211.3 1085.7,1241.5 1051.4,1218.1 1045.3,1251.7 1023.2,1220.4 1006.4,1263.2 1000.3,1224.2 975.1,1238.7 983.5,1215.1 936.2,1219.7 967.4,1200.6 936.2,1181.5 976.6,1175.4" fill="#d90bcd" stroke="#8ea2bf" stroke-width="1.6" filter="url(#fShadow)"/>
<text x="980" y="1215" font-family="'Liberation Serif', serif" font-weight="bold" font-size="49">RhB</text>
</svg>
</body></html>
